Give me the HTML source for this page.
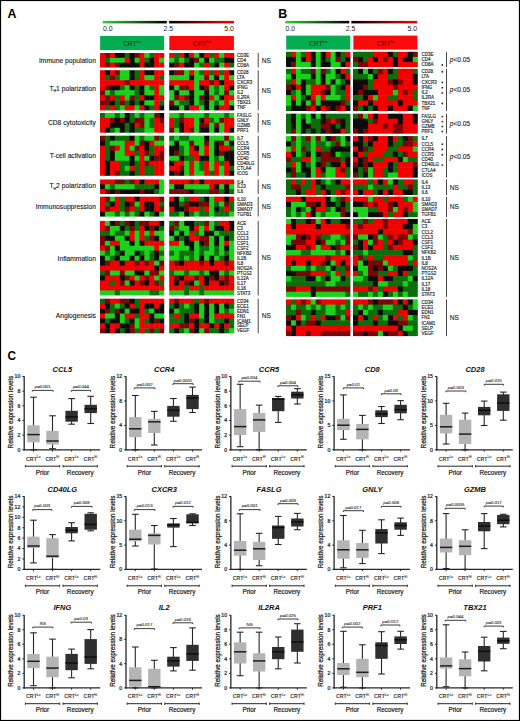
<!DOCTYPE html>
<html><head><meta charset="utf-8"><title>Figure</title>
<style>
html,body{margin:0;padding:0;background:#fff;}
body{width:520px;height:721px;overflow:hidden;}
svg{display:block;font-family:"Liberation Sans", sans-serif;}
</style></head>
<body>
<svg width="520" height="721" viewBox="0 0 520 721" font-family='"Liberation Sans", sans-serif'>
<rect x="0" y="0" width="520" height="721" fill="#fff"/>
<rect x="0.5" y="0.5" width="519" height="720" fill="none" stroke="#000" stroke-width="1.2"/>
<text x="7.60" y="17.60" font-size="12.4" text-anchor="start" font-weight="bold" font-style="normal" fill="#000" >A</text>
<text x="278.20" y="17.80" font-size="12.4" text-anchor="start" font-weight="bold" font-style="normal" fill="#000" >B</text>
<text transform="translate(7.5,360.0) scale(0.88,1)" font-size="13.4" font-weight="bold" fill="#000">C</text>
<defs>
<filter id="bl" x="-2%" y="-2%" width="104%" height="104%"><feGaussianBlur stdDeviation="1.0"/></filter>
<linearGradient id="gk" x1="0" x2="1" y1="0" y2="0"><stop offset="0" stop-color="#22dd22"/><stop offset="1" stop-color="#000"/></linearGradient>
<linearGradient id="kr" x1="0" x2="1" y1="0" y2="0"><stop offset="0" stop-color="#000"/><stop offset="1" stop-color="#ff0000"/></linearGradient>
</defs>
<rect x="102.8" y="20.9" width="64.00000000000001" height="2.5" fill="url(#gk)"/>
<rect x="169.1" y="20.9" width="64.9" height="2.5" fill="url(#kr)"/>
<text x="103.00" y="30.90" font-size="6.9" text-anchor="start" font-weight="normal" font-style="normal" fill="#222" >0.0</text>
<text x="168.30" y="30.90" font-size="6.9" text-anchor="middle" font-weight="normal" font-style="normal" fill="#222" >2.5</text>
<text x="233.90" y="30.90" font-size="6.9" text-anchor="end" font-weight="normal" font-style="normal" fill="#222" >5.0</text>
<rect x="100.1" y="36.0" width="64.0" height="14.100000000000001" fill="#04ae50"/>
<rect x="169.3" y="36.0" width="64.6" height="14.100000000000001" fill="#fa0a0a"/>
<text x="132.10" y="45.90" font-size="6.6" text-anchor="middle" fill="#0b3d1c" stroke="#0b3d1c" stroke-width="0.15">CRT<tspan font-size="4.1" dy="-2.6">Lo</tspan></text>
<text x="201.60" y="45.90" font-size="6.6" text-anchor="middle" fill="#6a0000" stroke="#6a0000" stroke-width="0.15">CRT<tspan font-size="4.1" dy="-2.6">hi</tspan></text>
<rect x="285.2" y="20.9" width="64.10000000000002" height="2.5" fill="url(#gk)"/>
<rect x="351.3" y="20.9" width="65.89999999999998" height="2.5" fill="url(#kr)"/>
<text x="285.40" y="30.90" font-size="6.9" text-anchor="start" font-weight="normal" font-style="normal" fill="#222" >0.0</text>
<text x="350.60" y="30.90" font-size="6.9" text-anchor="middle" font-weight="normal" font-style="normal" fill="#222" >2.5</text>
<text x="417.00" y="30.90" font-size="6.9" text-anchor="end" font-weight="normal" font-style="normal" fill="#222" >5.0</text>
<rect x="286.2" y="35.6" width="64.10000000000002" height="14.0" fill="#04ae50"/>
<rect x="353.4" y="35.6" width="64.0" height="14.0" fill="#fa0a0a"/>
<text x="318.25" y="45.50" font-size="6.6" text-anchor="middle" fill="#0b3d1c" stroke="#0b3d1c" stroke-width="0.15">CRT<tspan font-size="4.1" dy="-2.6">Lo</tspan></text>
<text x="385.40" y="45.50" font-size="6.6" text-anchor="middle" fill="#6a0000" stroke="#6a0000" stroke-width="0.15">CRT<tspan font-size="4.1" dy="-2.6">hi</tspan></text>
<g>
<rect x="100.0" y="53.0" width="5.4" height="5.3" fill="#f20000"/>
<rect x="104.9" y="53.0" width="5.4" height="5.3" fill="#7a0606"/>
<rect x="109.9" y="53.0" width="5.4" height="5.3" fill="#f20000"/>
<rect x="114.8" y="53.0" width="5.4" height="5.3" fill="#0c0c0c"/>
<rect x="119.8" y="53.0" width="5.4" height="5.3" fill="#0c0c0c"/>
<rect x="124.7" y="53.0" width="5.4" height="5.3" fill="#0a6e0a"/>
<rect x="129.6" y="53.0" width="5.4" height="5.3" fill="#0c0c0c"/>
<rect x="134.6" y="53.0" width="5.4" height="5.3" fill="#7a0606"/>
<rect x="139.5" y="53.0" width="5.4" height="5.3" fill="#f20000"/>
<rect x="144.4" y="53.0" width="5.4" height="5.3" fill="#1ad21a"/>
<rect x="149.4" y="53.0" width="5.4" height="5.3" fill="#0a6e0a"/>
<rect x="154.3" y="53.0" width="5.4" height="5.3" fill="#f20000"/>
<rect x="159.3" y="53.0" width="4.9" height="5.3" fill="#f20000"/>
<rect x="100.0" y="57.8" width="5.4" height="5.3" fill="#f20000"/>
<rect x="104.9" y="57.8" width="5.4" height="5.3" fill="#0a6e0a"/>
<rect x="109.9" y="57.8" width="5.4" height="5.3" fill="#1ad21a"/>
<rect x="114.8" y="57.8" width="5.4" height="5.3" fill="#1ad21a"/>
<rect x="119.8" y="57.8" width="5.4" height="5.3" fill="#1ad21a"/>
<rect x="124.7" y="57.8" width="5.4" height="5.3" fill="#f20000"/>
<rect x="129.6" y="57.8" width="5.4" height="5.3" fill="#0c0c0c"/>
<rect x="134.6" y="57.8" width="5.4" height="5.3" fill="#1ad21a"/>
<rect x="139.5" y="57.8" width="5.4" height="5.3" fill="#f20000"/>
<rect x="144.4" y="57.8" width="5.4" height="5.3" fill="#0a6e0a"/>
<rect x="149.4" y="57.8" width="5.4" height="5.3" fill="#0c0c0c"/>
<rect x="154.3" y="57.8" width="5.4" height="5.3" fill="#f20000"/>
<rect x="159.3" y="57.8" width="4.9" height="5.3" fill="#1ad21a"/>
<rect x="100.0" y="62.7" width="5.4" height="4.8" fill="#f20000"/>
<rect x="104.9" y="62.7" width="5.4" height="4.8" fill="#7a0606"/>
<rect x="109.9" y="62.7" width="5.4" height="4.8" fill="#f20000"/>
<rect x="114.8" y="62.7" width="5.4" height="4.8" fill="#7a0606"/>
<rect x="119.8" y="62.7" width="5.4" height="4.8" fill="#0c0c0c"/>
<rect x="124.7" y="62.7" width="5.4" height="4.8" fill="#0c0c0c"/>
<rect x="129.6" y="62.7" width="5.4" height="4.8" fill="#0c0c0c"/>
<rect x="134.6" y="62.7" width="5.4" height="4.8" fill="#0c0c0c"/>
<rect x="139.5" y="62.7" width="5.4" height="4.8" fill="#f20000"/>
<rect x="144.4" y="62.7" width="5.4" height="4.8" fill="#0c0c0c"/>
<rect x="149.4" y="62.7" width="5.4" height="4.8" fill="#0c0c0c"/>
<rect x="154.3" y="62.7" width="5.4" height="4.8" fill="#f20000"/>
<rect x="159.3" y="62.7" width="4.9" height="4.8" fill="#f20000"/>
<rect x="100.0" y="70.2" width="5.4" height="5.5" fill="#f20000"/>
<rect x="104.9" y="70.2" width="5.4" height="5.5" fill="#0c0c0c"/>
<rect x="109.9" y="70.2" width="5.4" height="5.5" fill="#f20000"/>
<rect x="114.8" y="70.2" width="5.4" height="5.5" fill="#7a0606"/>
<rect x="119.8" y="70.2" width="5.4" height="5.5" fill="#1ad21a"/>
<rect x="124.7" y="70.2" width="5.4" height="5.5" fill="#1ad21a"/>
<rect x="129.6" y="70.2" width="5.4" height="5.5" fill="#0c0c0c"/>
<rect x="134.6" y="70.2" width="5.4" height="5.5" fill="#0a6e0a"/>
<rect x="139.5" y="70.2" width="5.4" height="5.5" fill="#f20000"/>
<rect x="144.4" y="70.2" width="5.4" height="5.5" fill="#0c0c0c"/>
<rect x="149.4" y="70.2" width="5.4" height="5.5" fill="#0c0c0c"/>
<rect x="154.3" y="70.2" width="5.4" height="5.5" fill="#f20000"/>
<rect x="159.3" y="70.2" width="4.9" height="5.5" fill="#f20000"/>
<rect x="100.0" y="75.2" width="5.4" height="5.5" fill="#f20000"/>
<rect x="104.9" y="75.2" width="5.4" height="5.5" fill="#0a6e0a"/>
<rect x="109.9" y="75.2" width="5.4" height="5.5" fill="#7a0606"/>
<rect x="114.8" y="75.2" width="5.4" height="5.5" fill="#0a6e0a"/>
<rect x="119.8" y="75.2" width="5.4" height="5.5" fill="#1ad21a"/>
<rect x="124.7" y="75.2" width="5.4" height="5.5" fill="#1ad21a"/>
<rect x="129.6" y="75.2" width="5.4" height="5.5" fill="#0c0c0c"/>
<rect x="134.6" y="75.2" width="5.4" height="5.5" fill="#0a6e0a"/>
<rect x="139.5" y="75.2" width="5.4" height="5.5" fill="#f20000"/>
<rect x="144.4" y="75.2" width="5.4" height="5.5" fill="#1ad21a"/>
<rect x="149.4" y="75.2" width="5.4" height="5.5" fill="#1ad21a"/>
<rect x="154.3" y="75.2" width="5.4" height="5.5" fill="#f20000"/>
<rect x="159.3" y="75.2" width="4.9" height="5.5" fill="#0a6e0a"/>
<rect x="100.0" y="80.2" width="5.4" height="5.5" fill="#f20000"/>
<rect x="104.9" y="80.2" width="5.4" height="5.5" fill="#f20000"/>
<rect x="109.9" y="80.2" width="5.4" height="5.5" fill="#f20000"/>
<rect x="114.8" y="80.2" width="5.4" height="5.5" fill="#f20000"/>
<rect x="119.8" y="80.2" width="5.4" height="5.5" fill="#f20000"/>
<rect x="124.7" y="80.2" width="5.4" height="5.5" fill="#7a0606"/>
<rect x="129.6" y="80.2" width="5.4" height="5.5" fill="#f20000"/>
<rect x="134.6" y="80.2" width="5.4" height="5.5" fill="#f20000"/>
<rect x="139.5" y="80.2" width="5.4" height="5.5" fill="#f20000"/>
<rect x="144.4" y="80.2" width="5.4" height="5.5" fill="#f20000"/>
<rect x="149.4" y="80.2" width="5.4" height="5.5" fill="#f20000"/>
<rect x="154.3" y="80.2" width="5.4" height="5.5" fill="#f20000"/>
<rect x="159.3" y="80.2" width="4.9" height="5.5" fill="#f20000"/>
<rect x="100.0" y="85.3" width="5.4" height="5.5" fill="#f20000"/>
<rect x="104.9" y="85.3" width="5.4" height="5.5" fill="#7a0606"/>
<rect x="109.9" y="85.3" width="5.4" height="5.5" fill="#0c0c0c"/>
<rect x="114.8" y="85.3" width="5.4" height="5.5" fill="#0c0c0c"/>
<rect x="119.8" y="85.3" width="5.4" height="5.5" fill="#0a6e0a"/>
<rect x="124.7" y="85.3" width="5.4" height="5.5" fill="#1ad21a"/>
<rect x="129.6" y="85.3" width="5.4" height="5.5" fill="#0c0c0c"/>
<rect x="134.6" y="85.3" width="5.4" height="5.5" fill="#0a6e0a"/>
<rect x="139.5" y="85.3" width="5.4" height="5.5" fill="#0c0c0c"/>
<rect x="144.4" y="85.3" width="5.4" height="5.5" fill="#1ad21a"/>
<rect x="149.4" y="85.3" width="5.4" height="5.5" fill="#0a6e0a"/>
<rect x="154.3" y="85.3" width="5.4" height="5.5" fill="#f20000"/>
<rect x="159.3" y="85.3" width="4.9" height="5.5" fill="#1ad21a"/>
<rect x="100.0" y="90.3" width="5.4" height="5.5" fill="#7a0606"/>
<rect x="104.9" y="90.3" width="5.4" height="5.5" fill="#1ad21a"/>
<rect x="109.9" y="90.3" width="5.4" height="5.5" fill="#0a6e0a"/>
<rect x="114.8" y="90.3" width="5.4" height="5.5" fill="#1ad21a"/>
<rect x="119.8" y="90.3" width="5.4" height="5.5" fill="#1ad21a"/>
<rect x="124.7" y="90.3" width="5.4" height="5.5" fill="#1ad21a"/>
<rect x="129.6" y="90.3" width="5.4" height="5.5" fill="#1ad21a"/>
<rect x="134.6" y="90.3" width="5.4" height="5.5" fill="#0a6e0a"/>
<rect x="139.5" y="90.3" width="5.4" height="5.5" fill="#0c0c0c"/>
<rect x="144.4" y="90.3" width="5.4" height="5.5" fill="#1ad21a"/>
<rect x="149.4" y="90.3" width="5.4" height="5.5" fill="#1ad21a"/>
<rect x="154.3" y="90.3" width="5.4" height="5.5" fill="#f20000"/>
<rect x="159.3" y="90.3" width="4.9" height="5.5" fill="#1ad21a"/>
<rect x="100.0" y="95.3" width="5.4" height="5.5" fill="#f20000"/>
<rect x="104.9" y="95.3" width="5.4" height="5.5" fill="#7a0606"/>
<rect x="109.9" y="95.3" width="5.4" height="5.5" fill="#f20000"/>
<rect x="114.8" y="95.3" width="5.4" height="5.5" fill="#0a6e0a"/>
<rect x="119.8" y="95.3" width="5.4" height="5.5" fill="#f20000"/>
<rect x="124.7" y="95.3" width="5.4" height="5.5" fill="#1ad21a"/>
<rect x="129.6" y="95.3" width="5.4" height="5.5" fill="#7a0606"/>
<rect x="134.6" y="95.3" width="5.4" height="5.5" fill="#0a6e0a"/>
<rect x="139.5" y="95.3" width="5.4" height="5.5" fill="#f20000"/>
<rect x="144.4" y="95.3" width="5.4" height="5.5" fill="#0c0c0c"/>
<rect x="149.4" y="95.3" width="5.4" height="5.5" fill="#0c0c0c"/>
<rect x="154.3" y="95.3" width="5.4" height="5.5" fill="#f20000"/>
<rect x="159.3" y="95.3" width="4.9" height="5.5" fill="#f20000"/>
<rect x="100.0" y="100.4" width="5.4" height="5.5" fill="#7a0606"/>
<rect x="104.9" y="100.4" width="5.4" height="5.5" fill="#7a0606"/>
<rect x="109.9" y="100.4" width="5.4" height="5.5" fill="#0c0c0c"/>
<rect x="114.8" y="100.4" width="5.4" height="5.5" fill="#0a6e0a"/>
<rect x="119.8" y="100.4" width="5.4" height="5.5" fill="#7a0606"/>
<rect x="124.7" y="100.4" width="5.4" height="5.5" fill="#0a6e0a"/>
<rect x="129.6" y="100.4" width="5.4" height="5.5" fill="#0c0c0c"/>
<rect x="134.6" y="100.4" width="5.4" height="5.5" fill="#0a6e0a"/>
<rect x="139.5" y="100.4" width="5.4" height="5.5" fill="#0c0c0c"/>
<rect x="144.4" y="100.4" width="5.4" height="5.5" fill="#1ad21a"/>
<rect x="149.4" y="100.4" width="5.4" height="5.5" fill="#1ad21a"/>
<rect x="154.3" y="100.4" width="5.4" height="5.5" fill="#f20000"/>
<rect x="159.3" y="100.4" width="4.9" height="5.5" fill="#0a6e0a"/>
<rect x="100.0" y="105.4" width="5.4" height="5.0" fill="#f20000"/>
<rect x="104.9" y="105.4" width="5.4" height="5.0" fill="#0a6e0a"/>
<rect x="109.9" y="105.4" width="5.4" height="5.0" fill="#f20000"/>
<rect x="114.8" y="105.4" width="5.4" height="5.0" fill="#0a6e0a"/>
<rect x="119.8" y="105.4" width="5.4" height="5.0" fill="#1ad21a"/>
<rect x="124.7" y="105.4" width="5.4" height="5.0" fill="#f20000"/>
<rect x="129.6" y="105.4" width="5.4" height="5.0" fill="#f20000"/>
<rect x="134.6" y="105.4" width="5.4" height="5.0" fill="#1ad21a"/>
<rect x="139.5" y="105.4" width="5.4" height="5.0" fill="#f20000"/>
<rect x="144.4" y="105.4" width="5.4" height="5.0" fill="#0c0c0c"/>
<rect x="149.4" y="105.4" width="5.4" height="5.0" fill="#0a6e0a"/>
<rect x="154.3" y="105.4" width="5.4" height="5.0" fill="#f20000"/>
<rect x="159.3" y="105.4" width="4.9" height="5.0" fill="#0c0c0c"/>
<rect x="100.0" y="113.0" width="5.4" height="5.4" fill="#0a6e0a"/>
<rect x="104.9" y="113.0" width="5.4" height="5.4" fill="#1ad21a"/>
<rect x="109.9" y="113.0" width="5.4" height="5.4" fill="#1ad21a"/>
<rect x="114.8" y="113.0" width="5.4" height="5.4" fill="#0a6e0a"/>
<rect x="119.8" y="113.0" width="5.4" height="5.4" fill="#1ad21a"/>
<rect x="124.7" y="113.0" width="5.4" height="5.4" fill="#0c0c0c"/>
<rect x="129.6" y="113.0" width="5.4" height="5.4" fill="#0a6e0a"/>
<rect x="134.6" y="113.0" width="5.4" height="5.4" fill="#1ad21a"/>
<rect x="139.5" y="113.0" width="5.4" height="5.4" fill="#0a6e0a"/>
<rect x="144.4" y="113.0" width="5.4" height="5.4" fill="#1ad21a"/>
<rect x="149.4" y="113.0" width="5.4" height="5.4" fill="#1ad21a"/>
<rect x="154.3" y="113.0" width="5.4" height="5.4" fill="#7a0606"/>
<rect x="159.3" y="113.0" width="4.9" height="5.4" fill="#0c0c0c"/>
<rect x="100.0" y="117.9" width="5.4" height="5.4" fill="#f20000"/>
<rect x="104.9" y="117.9" width="5.4" height="5.4" fill="#f20000"/>
<rect x="109.9" y="117.9" width="5.4" height="5.4" fill="#7a0606"/>
<rect x="114.8" y="117.9" width="5.4" height="5.4" fill="#0c0c0c"/>
<rect x="119.8" y="117.9" width="5.4" height="5.4" fill="#7a0606"/>
<rect x="124.7" y="117.9" width="5.4" height="5.4" fill="#0c0c0c"/>
<rect x="129.6" y="117.9" width="5.4" height="5.4" fill="#0a6e0a"/>
<rect x="134.6" y="117.9" width="5.4" height="5.4" fill="#7a0606"/>
<rect x="139.5" y="117.9" width="5.4" height="5.4" fill="#7a0606"/>
<rect x="144.4" y="117.9" width="5.4" height="5.4" fill="#1ad21a"/>
<rect x="149.4" y="117.9" width="5.4" height="5.4" fill="#0a6e0a"/>
<rect x="154.3" y="117.9" width="5.4" height="5.4" fill="#f20000"/>
<rect x="159.3" y="117.9" width="4.9" height="5.4" fill="#7a0606"/>
<rect x="100.0" y="122.8" width="5.4" height="5.4" fill="#f20000"/>
<rect x="104.9" y="122.8" width="5.4" height="5.4" fill="#f20000"/>
<rect x="109.9" y="122.8" width="5.4" height="5.4" fill="#0c0c0c"/>
<rect x="114.8" y="122.8" width="5.4" height="5.4" fill="#0c0c0c"/>
<rect x="119.8" y="122.8" width="5.4" height="5.4" fill="#0c0c0c"/>
<rect x="124.7" y="122.8" width="5.4" height="5.4" fill="#0a6e0a"/>
<rect x="129.6" y="122.8" width="5.4" height="5.4" fill="#0c0c0c"/>
<rect x="134.6" y="122.8" width="5.4" height="5.4" fill="#f20000"/>
<rect x="139.5" y="122.8" width="5.4" height="5.4" fill="#7a0606"/>
<rect x="144.4" y="122.8" width="5.4" height="5.4" fill="#1ad21a"/>
<rect x="149.4" y="122.8" width="5.4" height="5.4" fill="#0a6e0a"/>
<rect x="154.3" y="122.8" width="5.4" height="5.4" fill="#f20000"/>
<rect x="159.3" y="122.8" width="4.9" height="5.4" fill="#f20000"/>
<rect x="100.0" y="127.8" width="5.4" height="4.9" fill="#f20000"/>
<rect x="104.9" y="127.8" width="5.4" height="4.9" fill="#0c0c0c"/>
<rect x="109.9" y="127.8" width="5.4" height="4.9" fill="#0a6e0a"/>
<rect x="114.8" y="127.8" width="5.4" height="4.9" fill="#1ad21a"/>
<rect x="119.8" y="127.8" width="5.4" height="4.9" fill="#0c0c0c"/>
<rect x="124.7" y="127.8" width="5.4" height="4.9" fill="#0a6e0a"/>
<rect x="129.6" y="127.8" width="5.4" height="4.9" fill="#0c0c0c"/>
<rect x="134.6" y="127.8" width="5.4" height="4.9" fill="#0a6e0a"/>
<rect x="139.5" y="127.8" width="5.4" height="4.9" fill="#0a6e0a"/>
<rect x="144.4" y="127.8" width="5.4" height="4.9" fill="#1ad21a"/>
<rect x="149.4" y="127.8" width="5.4" height="4.9" fill="#1ad21a"/>
<rect x="154.3" y="127.8" width="5.4" height="4.9" fill="#f20000"/>
<rect x="159.3" y="127.8" width="4.9" height="4.9" fill="#f20000"/>
<rect x="100.0" y="135.7" width="5.4" height="5.5" fill="#7a0606"/>
<rect x="104.9" y="135.7" width="5.4" height="5.5" fill="#0a6e0a"/>
<rect x="109.9" y="135.7" width="5.4" height="5.5" fill="#0c0c0c"/>
<rect x="114.8" y="135.7" width="5.4" height="5.5" fill="#0a6e0a"/>
<rect x="119.8" y="135.7" width="5.4" height="5.5" fill="#0a6e0a"/>
<rect x="124.7" y="135.7" width="5.4" height="5.5" fill="#0a6e0a"/>
<rect x="129.6" y="135.7" width="5.4" height="5.5" fill="#0c0c0c"/>
<rect x="134.6" y="135.7" width="5.4" height="5.5" fill="#1ad21a"/>
<rect x="139.5" y="135.7" width="5.4" height="5.5" fill="#0a6e0a"/>
<rect x="144.4" y="135.7" width="5.4" height="5.5" fill="#1ad21a"/>
<rect x="149.4" y="135.7" width="5.4" height="5.5" fill="#1ad21a"/>
<rect x="154.3" y="135.7" width="5.4" height="5.5" fill="#7a0606"/>
<rect x="159.3" y="135.7" width="4.9" height="5.5" fill="#0a6e0a"/>
<rect x="100.0" y="140.7" width="5.4" height="5.5" fill="#0c0c0c"/>
<rect x="104.9" y="140.7" width="5.4" height="5.5" fill="#0a6e0a"/>
<rect x="109.9" y="140.7" width="5.4" height="5.5" fill="#1ad21a"/>
<rect x="114.8" y="140.7" width="5.4" height="5.5" fill="#1ad21a"/>
<rect x="119.8" y="140.7" width="5.4" height="5.5" fill="#1ad21a"/>
<rect x="124.7" y="140.7" width="5.4" height="5.5" fill="#f20000"/>
<rect x="129.6" y="140.7" width="5.4" height="5.5" fill="#f20000"/>
<rect x="134.6" y="140.7" width="5.4" height="5.5" fill="#1ad21a"/>
<rect x="139.5" y="140.7" width="5.4" height="5.5" fill="#7a0606"/>
<rect x="144.4" y="140.7" width="5.4" height="5.5" fill="#0c0c0c"/>
<rect x="149.4" y="140.7" width="5.4" height="5.5" fill="#f20000"/>
<rect x="154.3" y="140.7" width="5.4" height="5.5" fill="#1ad21a"/>
<rect x="159.3" y="140.7" width="4.9" height="5.5" fill="#1ad21a"/>
<rect x="100.0" y="145.7" width="5.4" height="5.5" fill="#f20000"/>
<rect x="104.9" y="145.7" width="5.4" height="5.5" fill="#0a6e0a"/>
<rect x="109.9" y="145.7" width="5.4" height="5.5" fill="#7a0606"/>
<rect x="114.8" y="145.7" width="5.4" height="5.5" fill="#f20000"/>
<rect x="119.8" y="145.7" width="5.4" height="5.5" fill="#1ad21a"/>
<rect x="124.7" y="145.7" width="5.4" height="5.5" fill="#f20000"/>
<rect x="129.6" y="145.7" width="5.4" height="5.5" fill="#1ad21a"/>
<rect x="134.6" y="145.7" width="5.4" height="5.5" fill="#7a0606"/>
<rect x="139.5" y="145.7" width="5.4" height="5.5" fill="#f20000"/>
<rect x="144.4" y="145.7" width="5.4" height="5.5" fill="#0c0c0c"/>
<rect x="149.4" y="145.7" width="5.4" height="5.5" fill="#0a6e0a"/>
<rect x="154.3" y="145.7" width="5.4" height="5.5" fill="#f20000"/>
<rect x="159.3" y="145.7" width="4.9" height="5.5" fill="#f20000"/>
<rect x="100.0" y="150.7" width="5.4" height="5.5" fill="#f20000"/>
<rect x="104.9" y="150.7" width="5.4" height="5.5" fill="#0a6e0a"/>
<rect x="109.9" y="150.7" width="5.4" height="5.5" fill="#0c0c0c"/>
<rect x="114.8" y="150.7" width="5.4" height="5.5" fill="#1ad21a"/>
<rect x="119.8" y="150.7" width="5.4" height="5.5" fill="#1ad21a"/>
<rect x="124.7" y="150.7" width="5.4" height="5.5" fill="#f20000"/>
<rect x="129.6" y="150.7" width="5.4" height="5.5" fill="#f20000"/>
<rect x="134.6" y="150.7" width="5.4" height="5.5" fill="#0a6e0a"/>
<rect x="139.5" y="150.7" width="5.4" height="5.5" fill="#f20000"/>
<rect x="144.4" y="150.7" width="5.4" height="5.5" fill="#7a0606"/>
<rect x="149.4" y="150.7" width="5.4" height="5.5" fill="#0a6e0a"/>
<rect x="154.3" y="150.7" width="5.4" height="5.5" fill="#f20000"/>
<rect x="159.3" y="150.7" width="4.9" height="5.5" fill="#7a0606"/>
<rect x="100.0" y="155.8" width="5.4" height="5.5" fill="#f20000"/>
<rect x="104.9" y="155.8" width="5.4" height="5.5" fill="#0a6e0a"/>
<rect x="109.9" y="155.8" width="5.4" height="5.5" fill="#0c0c0c"/>
<rect x="114.8" y="155.8" width="5.4" height="5.5" fill="#1ad21a"/>
<rect x="119.8" y="155.8" width="5.4" height="5.5" fill="#1ad21a"/>
<rect x="124.7" y="155.8" width="5.4" height="5.5" fill="#1ad21a"/>
<rect x="129.6" y="155.8" width="5.4" height="5.5" fill="#0c0c0c"/>
<rect x="134.6" y="155.8" width="5.4" height="5.5" fill="#1ad21a"/>
<rect x="139.5" y="155.8" width="5.4" height="5.5" fill="#f20000"/>
<rect x="144.4" y="155.8" width="5.4" height="5.5" fill="#1ad21a"/>
<rect x="149.4" y="155.8" width="5.4" height="5.5" fill="#0c0c0c"/>
<rect x="154.3" y="155.8" width="5.4" height="5.5" fill="#7a0606"/>
<rect x="159.3" y="155.8" width="4.9" height="5.5" fill="#7a0606"/>
<rect x="100.0" y="160.8" width="5.4" height="5.5" fill="#f20000"/>
<rect x="104.9" y="160.8" width="5.4" height="5.5" fill="#0c0c0c"/>
<rect x="109.9" y="160.8" width="5.4" height="5.5" fill="#f20000"/>
<rect x="114.8" y="160.8" width="5.4" height="5.5" fill="#f20000"/>
<rect x="119.8" y="160.8" width="5.4" height="5.5" fill="#0a6e0a"/>
<rect x="124.7" y="160.8" width="5.4" height="5.5" fill="#0a6e0a"/>
<rect x="129.6" y="160.8" width="5.4" height="5.5" fill="#0c0c0c"/>
<rect x="134.6" y="160.8" width="5.4" height="5.5" fill="#0a6e0a"/>
<rect x="139.5" y="160.8" width="5.4" height="5.5" fill="#f20000"/>
<rect x="144.4" y="160.8" width="5.4" height="5.5" fill="#7a0606"/>
<rect x="149.4" y="160.8" width="5.4" height="5.5" fill="#f20000"/>
<rect x="154.3" y="160.8" width="5.4" height="5.5" fill="#f20000"/>
<rect x="159.3" y="160.8" width="4.9" height="5.5" fill="#f20000"/>
<rect x="100.0" y="165.8" width="5.4" height="5.5" fill="#f20000"/>
<rect x="104.9" y="165.8" width="5.4" height="5.5" fill="#0c0c0c"/>
<rect x="109.9" y="165.8" width="5.4" height="5.5" fill="#f20000"/>
<rect x="114.8" y="165.8" width="5.4" height="5.5" fill="#f20000"/>
<rect x="119.8" y="165.8" width="5.4" height="5.5" fill="#0a6e0a"/>
<rect x="124.7" y="165.8" width="5.4" height="5.5" fill="#1ad21a"/>
<rect x="129.6" y="165.8" width="5.4" height="5.5" fill="#f20000"/>
<rect x="134.6" y="165.8" width="5.4" height="5.5" fill="#0a6e0a"/>
<rect x="139.5" y="165.8" width="5.4" height="5.5" fill="#f20000"/>
<rect x="144.4" y="165.8" width="5.4" height="5.5" fill="#0a6e0a"/>
<rect x="149.4" y="165.8" width="5.4" height="5.5" fill="#0a6e0a"/>
<rect x="154.3" y="165.8" width="5.4" height="5.5" fill="#f20000"/>
<rect x="159.3" y="165.8" width="4.9" height="5.5" fill="#f20000"/>
<rect x="100.0" y="170.8" width="5.4" height="5.0" fill="#f20000"/>
<rect x="104.9" y="170.8" width="5.4" height="5.0" fill="#0c0c0c"/>
<rect x="109.9" y="170.8" width="5.4" height="5.0" fill="#f20000"/>
<rect x="114.8" y="170.8" width="5.4" height="5.0" fill="#7a0606"/>
<rect x="119.8" y="170.8" width="5.4" height="5.0" fill="#0a6e0a"/>
<rect x="124.7" y="170.8" width="5.4" height="5.0" fill="#0a6e0a"/>
<rect x="129.6" y="170.8" width="5.4" height="5.0" fill="#0c0c0c"/>
<rect x="134.6" y="170.8" width="5.4" height="5.0" fill="#0a6e0a"/>
<rect x="139.5" y="170.8" width="5.4" height="5.0" fill="#f20000"/>
<rect x="144.4" y="170.8" width="5.4" height="5.0" fill="#0a6e0a"/>
<rect x="149.4" y="170.8" width="5.4" height="5.0" fill="#0a6e0a"/>
<rect x="154.3" y="170.8" width="5.4" height="5.0" fill="#f20000"/>
<rect x="159.3" y="170.8" width="4.9" height="5.0" fill="#f20000"/>
<rect x="100.0" y="179.5" width="5.4" height="5.3" fill="#f20000"/>
<rect x="104.9" y="179.5" width="5.4" height="5.3" fill="#f20000"/>
<rect x="109.9" y="179.5" width="5.4" height="5.3" fill="#f20000"/>
<rect x="114.8" y="179.5" width="5.4" height="5.3" fill="#7a0606"/>
<rect x="119.8" y="179.5" width="5.4" height="5.3" fill="#7a0606"/>
<rect x="124.7" y="179.5" width="5.4" height="5.3" fill="#0a6e0a"/>
<rect x="129.6" y="179.5" width="5.4" height="5.3" fill="#7a0606"/>
<rect x="134.6" y="179.5" width="5.4" height="5.3" fill="#f20000"/>
<rect x="139.5" y="179.5" width="5.4" height="5.3" fill="#0c0c0c"/>
<rect x="144.4" y="179.5" width="5.4" height="5.3" fill="#f20000"/>
<rect x="149.4" y="179.5" width="5.4" height="5.3" fill="#f20000"/>
<rect x="154.3" y="179.5" width="5.4" height="5.3" fill="#f20000"/>
<rect x="159.3" y="179.5" width="4.9" height="5.3" fill="#1ad21a"/>
<rect x="100.0" y="184.3" width="5.4" height="5.3" fill="#0c0c0c"/>
<rect x="104.9" y="184.3" width="5.4" height="5.3" fill="#1ad21a"/>
<rect x="109.9" y="184.3" width="5.4" height="5.3" fill="#0a6e0a"/>
<rect x="114.8" y="184.3" width="5.4" height="5.3" fill="#1ad21a"/>
<rect x="119.8" y="184.3" width="5.4" height="5.3" fill="#1ad21a"/>
<rect x="124.7" y="184.3" width="5.4" height="5.3" fill="#1ad21a"/>
<rect x="129.6" y="184.3" width="5.4" height="5.3" fill="#1ad21a"/>
<rect x="134.6" y="184.3" width="5.4" height="5.3" fill="#0a6e0a"/>
<rect x="139.5" y="184.3" width="5.4" height="5.3" fill="#0a6e0a"/>
<rect x="144.4" y="184.3" width="5.4" height="5.3" fill="#0a6e0a"/>
<rect x="149.4" y="184.3" width="5.4" height="5.3" fill="#0a6e0a"/>
<rect x="154.3" y="184.3" width="5.4" height="5.3" fill="#0c0c0c"/>
<rect x="159.3" y="184.3" width="4.9" height="5.3" fill="#1ad21a"/>
<rect x="100.0" y="189.2" width="5.4" height="4.8" fill="#f20000"/>
<rect x="104.9" y="189.2" width="5.4" height="4.8" fill="#7a0606"/>
<rect x="109.9" y="189.2" width="5.4" height="4.8" fill="#0c0c0c"/>
<rect x="114.8" y="189.2" width="5.4" height="4.8" fill="#7a0606"/>
<rect x="119.8" y="189.2" width="5.4" height="4.8" fill="#0c0c0c"/>
<rect x="124.7" y="189.2" width="5.4" height="4.8" fill="#0c0c0c"/>
<rect x="129.6" y="189.2" width="5.4" height="4.8" fill="#0c0c0c"/>
<rect x="134.6" y="189.2" width="5.4" height="4.8" fill="#0c0c0c"/>
<rect x="139.5" y="189.2" width="5.4" height="4.8" fill="#7a0606"/>
<rect x="144.4" y="189.2" width="5.4" height="4.8" fill="#0c0c0c"/>
<rect x="149.4" y="189.2" width="5.4" height="4.8" fill="#0c0c0c"/>
<rect x="154.3" y="189.2" width="5.4" height="4.8" fill="#0a6e0a"/>
<rect x="159.3" y="189.2" width="4.9" height="4.8" fill="#1ad21a"/>
<rect x="100.0" y="196.7" width="5.4" height="5.5" fill="#f20000"/>
<rect x="104.9" y="196.7" width="5.4" height="5.5" fill="#7a0606"/>
<rect x="109.9" y="196.7" width="5.4" height="5.5" fill="#1ad21a"/>
<rect x="114.8" y="196.7" width="5.4" height="5.5" fill="#f20000"/>
<rect x="119.8" y="196.7" width="5.4" height="5.5" fill="#0a6e0a"/>
<rect x="124.7" y="196.7" width="5.4" height="5.5" fill="#f20000"/>
<rect x="129.6" y="196.7" width="5.4" height="5.5" fill="#f20000"/>
<rect x="134.6" y="196.7" width="5.4" height="5.5" fill="#0c0c0c"/>
<rect x="139.5" y="196.7" width="5.4" height="5.5" fill="#f20000"/>
<rect x="144.4" y="196.7" width="5.4" height="5.5" fill="#f20000"/>
<rect x="149.4" y="196.7" width="5.4" height="5.5" fill="#f20000"/>
<rect x="154.3" y="196.7" width="5.4" height="5.5" fill="#f20000"/>
<rect x="159.3" y="196.7" width="4.9" height="5.5" fill="#7a0606"/>
<rect x="100.0" y="201.6" width="5.4" height="5.5" fill="#f20000"/>
<rect x="104.9" y="201.6" width="5.4" height="5.5" fill="#0a6e0a"/>
<rect x="109.9" y="201.6" width="5.4" height="5.5" fill="#0c0c0c"/>
<rect x="114.8" y="201.6" width="5.4" height="5.5" fill="#f20000"/>
<rect x="119.8" y="201.6" width="5.4" height="5.5" fill="#0a6e0a"/>
<rect x="124.7" y="201.6" width="5.4" height="5.5" fill="#0c0c0c"/>
<rect x="129.6" y="201.6" width="5.4" height="5.5" fill="#7a0606"/>
<rect x="134.6" y="201.6" width="5.4" height="5.5" fill="#1ad21a"/>
<rect x="139.5" y="201.6" width="5.4" height="5.5" fill="#f20000"/>
<rect x="144.4" y="201.6" width="5.4" height="5.5" fill="#0c0c0c"/>
<rect x="149.4" y="201.6" width="5.4" height="5.5" fill="#0c0c0c"/>
<rect x="154.3" y="201.6" width="5.4" height="5.5" fill="#f20000"/>
<rect x="159.3" y="201.6" width="4.9" height="5.5" fill="#0a6e0a"/>
<rect x="100.0" y="206.6" width="5.4" height="5.5" fill="#f20000"/>
<rect x="104.9" y="206.6" width="5.4" height="5.5" fill="#7a0606"/>
<rect x="109.9" y="206.6" width="5.4" height="5.5" fill="#f20000"/>
<rect x="114.8" y="206.6" width="5.4" height="5.5" fill="#f20000"/>
<rect x="119.8" y="206.6" width="5.4" height="5.5" fill="#0a6e0a"/>
<rect x="124.7" y="206.6" width="5.4" height="5.5" fill="#7a0606"/>
<rect x="129.6" y="206.6" width="5.4" height="5.5" fill="#f20000"/>
<rect x="134.6" y="206.6" width="5.4" height="5.5" fill="#0a6e0a"/>
<rect x="139.5" y="206.6" width="5.4" height="5.5" fill="#f20000"/>
<rect x="144.4" y="206.6" width="5.4" height="5.5" fill="#0c0c0c"/>
<rect x="149.4" y="206.6" width="5.4" height="5.5" fill="#0c0c0c"/>
<rect x="154.3" y="206.6" width="5.4" height="5.5" fill="#f20000"/>
<rect x="159.3" y="206.6" width="4.9" height="5.5" fill="#7a0606"/>
<rect x="100.0" y="211.6" width="5.4" height="5.0" fill="#0c0c0c"/>
<rect x="104.9" y="211.6" width="5.4" height="5.0" fill="#1ad21a"/>
<rect x="109.9" y="211.6" width="5.4" height="5.0" fill="#1ad21a"/>
<rect x="114.8" y="211.6" width="5.4" height="5.0" fill="#0a6e0a"/>
<rect x="119.8" y="211.6" width="5.4" height="5.0" fill="#1ad21a"/>
<rect x="124.7" y="211.6" width="5.4" height="5.0" fill="#0a6e0a"/>
<rect x="129.6" y="211.6" width="5.4" height="5.0" fill="#1ad21a"/>
<rect x="134.6" y="211.6" width="5.4" height="5.0" fill="#0a6e0a"/>
<rect x="139.5" y="211.6" width="5.4" height="5.0" fill="#0c0c0c"/>
<rect x="144.4" y="211.6" width="5.4" height="5.0" fill="#1ad21a"/>
<rect x="149.4" y="211.6" width="5.4" height="5.0" fill="#0a6e0a"/>
<rect x="154.3" y="211.6" width="5.4" height="5.0" fill="#0c0c0c"/>
<rect x="159.3" y="211.6" width="4.9" height="5.0" fill="#1ad21a"/>
<rect x="100.0" y="220.9" width="5.4" height="5.5" fill="#f20000"/>
<rect x="104.9" y="220.9" width="5.4" height="5.5" fill="#1ad21a"/>
<rect x="109.9" y="220.9" width="5.4" height="5.5" fill="#0c0c0c"/>
<rect x="114.8" y="220.9" width="5.4" height="5.5" fill="#7a0606"/>
<rect x="119.8" y="220.9" width="5.4" height="5.5" fill="#0a6e0a"/>
<rect x="124.7" y="220.9" width="5.4" height="5.5" fill="#7a0606"/>
<rect x="129.6" y="220.9" width="5.4" height="5.5" fill="#0c0c0c"/>
<rect x="134.6" y="220.9" width="5.4" height="5.5" fill="#0a6e0a"/>
<rect x="139.5" y="220.9" width="5.4" height="5.5" fill="#7a0606"/>
<rect x="144.4" y="220.9" width="5.4" height="5.5" fill="#7a0606"/>
<rect x="149.4" y="220.9" width="5.4" height="5.5" fill="#f20000"/>
<rect x="154.3" y="220.9" width="5.4" height="5.5" fill="#f20000"/>
<rect x="159.3" y="220.9" width="4.9" height="5.5" fill="#0c0c0c"/>
<rect x="100.0" y="225.9" width="5.4" height="5.5" fill="#f20000"/>
<rect x="104.9" y="225.9" width="5.4" height="5.5" fill="#7a0606"/>
<rect x="109.9" y="225.9" width="5.4" height="5.5" fill="#1ad21a"/>
<rect x="114.8" y="225.9" width="5.4" height="5.5" fill="#1ad21a"/>
<rect x="119.8" y="225.9" width="5.4" height="5.5" fill="#0c0c0c"/>
<rect x="124.7" y="225.9" width="5.4" height="5.5" fill="#0a6e0a"/>
<rect x="129.6" y="225.9" width="5.4" height="5.5" fill="#7a0606"/>
<rect x="134.6" y="225.9" width="5.4" height="5.5" fill="#0a6e0a"/>
<rect x="139.5" y="225.9" width="5.4" height="5.5" fill="#f20000"/>
<rect x="144.4" y="225.9" width="5.4" height="5.5" fill="#0c0c0c"/>
<rect x="149.4" y="225.9" width="5.4" height="5.5" fill="#7a0606"/>
<rect x="154.3" y="225.9" width="5.4" height="5.5" fill="#0c0c0c"/>
<rect x="159.3" y="225.9" width="4.9" height="5.5" fill="#0a6e0a"/>
<rect x="100.0" y="230.8" width="5.4" height="5.5" fill="#0a6e0a"/>
<rect x="104.9" y="230.8" width="5.4" height="5.5" fill="#0a6e0a"/>
<rect x="109.9" y="230.8" width="5.4" height="5.5" fill="#1ad21a"/>
<rect x="114.8" y="230.8" width="5.4" height="5.5" fill="#0a6e0a"/>
<rect x="119.8" y="230.8" width="5.4" height="5.5" fill="#0a6e0a"/>
<rect x="124.7" y="230.8" width="5.4" height="5.5" fill="#1ad21a"/>
<rect x="129.6" y="230.8" width="5.4" height="5.5" fill="#f20000"/>
<rect x="134.6" y="230.8" width="5.4" height="5.5" fill="#1ad21a"/>
<rect x="139.5" y="230.8" width="5.4" height="5.5" fill="#f20000"/>
<rect x="144.4" y="230.8" width="5.4" height="5.5" fill="#1ad21a"/>
<rect x="149.4" y="230.8" width="5.4" height="5.5" fill="#f20000"/>
<rect x="154.3" y="230.8" width="5.4" height="5.5" fill="#1ad21a"/>
<rect x="159.3" y="230.8" width="4.9" height="5.5" fill="#1ad21a"/>
<rect x="100.0" y="235.8" width="5.4" height="5.5" fill="#7a0606"/>
<rect x="104.9" y="235.8" width="5.4" height="5.5" fill="#0c0c0c"/>
<rect x="109.9" y="235.8" width="5.4" height="5.5" fill="#0c0c0c"/>
<rect x="114.8" y="235.8" width="5.4" height="5.5" fill="#1ad21a"/>
<rect x="119.8" y="235.8" width="5.4" height="5.5" fill="#1ad21a"/>
<rect x="124.7" y="235.8" width="5.4" height="5.5" fill="#0c0c0c"/>
<rect x="129.6" y="235.8" width="5.4" height="5.5" fill="#f20000"/>
<rect x="134.6" y="235.8" width="5.4" height="5.5" fill="#1ad21a"/>
<rect x="139.5" y="235.8" width="5.4" height="5.5" fill="#f20000"/>
<rect x="144.4" y="235.8" width="5.4" height="5.5" fill="#0a6e0a"/>
<rect x="149.4" y="235.8" width="5.4" height="5.5" fill="#7a0606"/>
<rect x="154.3" y="235.8" width="5.4" height="5.5" fill="#0c0c0c"/>
<rect x="159.3" y="235.8" width="4.9" height="5.5" fill="#1ad21a"/>
<rect x="100.0" y="240.8" width="5.4" height="5.5" fill="#7a0606"/>
<rect x="104.9" y="240.8" width="5.4" height="5.5" fill="#1ad21a"/>
<rect x="109.9" y="240.8" width="5.4" height="5.5" fill="#f20000"/>
<rect x="114.8" y="240.8" width="5.4" height="5.5" fill="#f20000"/>
<rect x="119.8" y="240.8" width="5.4" height="5.5" fill="#1ad21a"/>
<rect x="124.7" y="240.8" width="5.4" height="5.5" fill="#1ad21a"/>
<rect x="129.6" y="240.8" width="5.4" height="5.5" fill="#0c0c0c"/>
<rect x="134.6" y="240.8" width="5.4" height="5.5" fill="#1ad21a"/>
<rect x="139.5" y="240.8" width="5.4" height="5.5" fill="#0c0c0c"/>
<rect x="144.4" y="240.8" width="5.4" height="5.5" fill="#f20000"/>
<rect x="149.4" y="240.8" width="5.4" height="5.5" fill="#f20000"/>
<rect x="154.3" y="240.8" width="5.4" height="5.5" fill="#f20000"/>
<rect x="159.3" y="240.8" width="4.9" height="5.5" fill="#f20000"/>
<rect x="100.0" y="245.7" width="5.4" height="5.5" fill="#f20000"/>
<rect x="104.9" y="245.7" width="5.4" height="5.5" fill="#7a0606"/>
<rect x="109.9" y="245.7" width="5.4" height="5.5" fill="#1ad21a"/>
<rect x="114.8" y="245.7" width="5.4" height="5.5" fill="#0c0c0c"/>
<rect x="119.8" y="245.7" width="5.4" height="5.5" fill="#1ad21a"/>
<rect x="124.7" y="245.7" width="5.4" height="5.5" fill="#1ad21a"/>
<rect x="129.6" y="245.7" width="5.4" height="5.5" fill="#1ad21a"/>
<rect x="134.6" y="245.7" width="5.4" height="5.5" fill="#1ad21a"/>
<rect x="139.5" y="245.7" width="5.4" height="5.5" fill="#1ad21a"/>
<rect x="144.4" y="245.7" width="5.4" height="5.5" fill="#1ad21a"/>
<rect x="149.4" y="245.7" width="5.4" height="5.5" fill="#1ad21a"/>
<rect x="154.3" y="245.7" width="5.4" height="5.5" fill="#f20000"/>
<rect x="159.3" y="245.7" width="4.9" height="5.5" fill="#1ad21a"/>
<rect x="100.0" y="250.7" width="5.4" height="5.5" fill="#1ad21a"/>
<rect x="104.9" y="250.7" width="5.4" height="5.5" fill="#0a6e0a"/>
<rect x="109.9" y="250.7" width="5.4" height="5.5" fill="#1ad21a"/>
<rect x="114.8" y="250.7" width="5.4" height="5.5" fill="#0a6e0a"/>
<rect x="119.8" y="250.7" width="5.4" height="5.5" fill="#0c0c0c"/>
<rect x="124.7" y="250.7" width="5.4" height="5.5" fill="#1ad21a"/>
<rect x="129.6" y="250.7" width="5.4" height="5.5" fill="#1ad21a"/>
<rect x="134.6" y="250.7" width="5.4" height="5.5" fill="#0c0c0c"/>
<rect x="139.5" y="250.7" width="5.4" height="5.5" fill="#0a6e0a"/>
<rect x="144.4" y="250.7" width="5.4" height="5.5" fill="#1ad21a"/>
<rect x="149.4" y="250.7" width="5.4" height="5.5" fill="#0a6e0a"/>
<rect x="154.3" y="250.7" width="5.4" height="5.5" fill="#0c0c0c"/>
<rect x="159.3" y="250.7" width="4.9" height="5.5" fill="#0a6e0a"/>
<rect x="100.0" y="255.7" width="5.4" height="5.5" fill="#0c0c0c"/>
<rect x="104.9" y="255.7" width="5.4" height="5.5" fill="#1ad21a"/>
<rect x="109.9" y="255.7" width="5.4" height="5.5" fill="#0a6e0a"/>
<rect x="114.8" y="255.7" width="5.4" height="5.5" fill="#0c0c0c"/>
<rect x="119.8" y="255.7" width="5.4" height="5.5" fill="#1ad21a"/>
<rect x="124.7" y="255.7" width="5.4" height="5.5" fill="#1ad21a"/>
<rect x="129.6" y="255.7" width="5.4" height="5.5" fill="#0c0c0c"/>
<rect x="134.6" y="255.7" width="5.4" height="5.5" fill="#1ad21a"/>
<rect x="139.5" y="255.7" width="5.4" height="5.5" fill="#0c0c0c"/>
<rect x="144.4" y="255.7" width="5.4" height="5.5" fill="#1ad21a"/>
<rect x="149.4" y="255.7" width="5.4" height="5.5" fill="#0a6e0a"/>
<rect x="154.3" y="255.7" width="5.4" height="5.5" fill="#0c0c0c"/>
<rect x="159.3" y="255.7" width="4.9" height="5.5" fill="#1ad21a"/>
<rect x="100.0" y="260.6" width="5.4" height="5.5" fill="#0c0c0c"/>
<rect x="104.9" y="260.6" width="5.4" height="5.5" fill="#7a0606"/>
<rect x="109.9" y="260.6" width="5.4" height="5.5" fill="#f20000"/>
<rect x="114.8" y="260.6" width="5.4" height="5.5" fill="#f20000"/>
<rect x="119.8" y="260.6" width="5.4" height="5.5" fill="#0c0c0c"/>
<rect x="124.7" y="260.6" width="5.4" height="5.5" fill="#f20000"/>
<rect x="129.6" y="260.6" width="5.4" height="5.5" fill="#f20000"/>
<rect x="134.6" y="260.6" width="5.4" height="5.5" fill="#7a0606"/>
<rect x="139.5" y="260.6" width="5.4" height="5.5" fill="#f20000"/>
<rect x="144.4" y="260.6" width="5.4" height="5.5" fill="#7a0606"/>
<rect x="149.4" y="260.6" width="5.4" height="5.5" fill="#f20000"/>
<rect x="154.3" y="260.6" width="5.4" height="5.5" fill="#1ad21a"/>
<rect x="159.3" y="260.6" width="4.9" height="5.5" fill="#7a0606"/>
<rect x="100.0" y="265.6" width="5.4" height="5.5" fill="#f20000"/>
<rect x="104.9" y="265.6" width="5.4" height="5.5" fill="#f20000"/>
<rect x="109.9" y="265.6" width="5.4" height="5.5" fill="#f20000"/>
<rect x="114.8" y="265.6" width="5.4" height="5.5" fill="#f20000"/>
<rect x="119.8" y="265.6" width="5.4" height="5.5" fill="#f20000"/>
<rect x="124.7" y="265.6" width="5.4" height="5.5" fill="#f20000"/>
<rect x="129.6" y="265.6" width="5.4" height="5.5" fill="#f20000"/>
<rect x="134.6" y="265.6" width="5.4" height="5.5" fill="#f20000"/>
<rect x="139.5" y="265.6" width="5.4" height="5.5" fill="#f20000"/>
<rect x="144.4" y="265.6" width="5.4" height="5.5" fill="#f20000"/>
<rect x="149.4" y="265.6" width="5.4" height="5.5" fill="#f20000"/>
<rect x="154.3" y="265.6" width="5.4" height="5.5" fill="#0c0c0c"/>
<rect x="159.3" y="265.6" width="4.9" height="5.5" fill="#f20000"/>
<rect x="100.0" y="270.6" width="5.4" height="5.5" fill="#0a6e0a"/>
<rect x="104.9" y="270.6" width="5.4" height="5.5" fill="#7a0606"/>
<rect x="109.9" y="270.6" width="5.4" height="5.5" fill="#1ad21a"/>
<rect x="114.8" y="270.6" width="5.4" height="5.5" fill="#1ad21a"/>
<rect x="119.8" y="270.6" width="5.4" height="5.5" fill="#7a0606"/>
<rect x="124.7" y="270.6" width="5.4" height="5.5" fill="#1ad21a"/>
<rect x="129.6" y="270.6" width="5.4" height="5.5" fill="#1ad21a"/>
<rect x="134.6" y="270.6" width="5.4" height="5.5" fill="#0c0c0c"/>
<rect x="139.5" y="270.6" width="5.4" height="5.5" fill="#0c0c0c"/>
<rect x="144.4" y="270.6" width="5.4" height="5.5" fill="#1ad21a"/>
<rect x="149.4" y="270.6" width="5.4" height="5.5" fill="#7a0606"/>
<rect x="154.3" y="270.6" width="5.4" height="5.5" fill="#7a0606"/>
<rect x="159.3" y="270.6" width="4.9" height="5.5" fill="#1ad21a"/>
<rect x="100.0" y="275.5" width="5.4" height="5.5" fill="#0c0c0c"/>
<rect x="104.9" y="275.5" width="5.4" height="5.5" fill="#f20000"/>
<rect x="109.9" y="275.5" width="5.4" height="5.5" fill="#f20000"/>
<rect x="114.8" y="275.5" width="5.4" height="5.5" fill="#f20000"/>
<rect x="119.8" y="275.5" width="5.4" height="5.5" fill="#0c0c0c"/>
<rect x="124.7" y="275.5" width="5.4" height="5.5" fill="#7a0606"/>
<rect x="129.6" y="275.5" width="5.4" height="5.5" fill="#f20000"/>
<rect x="134.6" y="275.5" width="5.4" height="5.5" fill="#1ad21a"/>
<rect x="139.5" y="275.5" width="5.4" height="5.5" fill="#f20000"/>
<rect x="144.4" y="275.5" width="5.4" height="5.5" fill="#7a0606"/>
<rect x="149.4" y="275.5" width="5.4" height="5.5" fill="#f20000"/>
<rect x="154.3" y="275.5" width="5.4" height="5.5" fill="#1ad21a"/>
<rect x="159.3" y="275.5" width="4.9" height="5.5" fill="#f20000"/>
<rect x="100.0" y="280.5" width="5.4" height="5.5" fill="#f20000"/>
<rect x="104.9" y="280.5" width="5.4" height="5.5" fill="#f20000"/>
<rect x="109.9" y="280.5" width="5.4" height="5.5" fill="#0a6e0a"/>
<rect x="114.8" y="280.5" width="5.4" height="5.5" fill="#f20000"/>
<rect x="119.8" y="280.5" width="5.4" height="5.5" fill="#7a0606"/>
<rect x="124.7" y="280.5" width="5.4" height="5.5" fill="#1ad21a"/>
<rect x="129.6" y="280.5" width="5.4" height="5.5" fill="#0c0c0c"/>
<rect x="134.6" y="280.5" width="5.4" height="5.5" fill="#f20000"/>
<rect x="139.5" y="280.5" width="5.4" height="5.5" fill="#7a0606"/>
<rect x="144.4" y="280.5" width="5.4" height="5.5" fill="#0c0c0c"/>
<rect x="149.4" y="280.5" width="5.4" height="5.5" fill="#f20000"/>
<rect x="154.3" y="280.5" width="5.4" height="5.5" fill="#7a0606"/>
<rect x="159.3" y="280.5" width="4.9" height="5.5" fill="#0a6e0a"/>
<rect x="100.0" y="285.5" width="5.4" height="5.5" fill="#f20000"/>
<rect x="104.9" y="285.5" width="5.4" height="5.5" fill="#f20000"/>
<rect x="109.9" y="285.5" width="5.4" height="5.5" fill="#f20000"/>
<rect x="114.8" y="285.5" width="5.4" height="5.5" fill="#f20000"/>
<rect x="119.8" y="285.5" width="5.4" height="5.5" fill="#f20000"/>
<rect x="124.7" y="285.5" width="5.4" height="5.5" fill="#f20000"/>
<rect x="129.6" y="285.5" width="5.4" height="5.5" fill="#f20000"/>
<rect x="134.6" y="285.5" width="5.4" height="5.5" fill="#f20000"/>
<rect x="139.5" y="285.5" width="5.4" height="5.5" fill="#f20000"/>
<rect x="144.4" y="285.5" width="5.4" height="5.5" fill="#f20000"/>
<rect x="149.4" y="285.5" width="5.4" height="5.5" fill="#f20000"/>
<rect x="154.3" y="285.5" width="5.4" height="5.5" fill="#f20000"/>
<rect x="159.3" y="285.5" width="4.9" height="5.5" fill="#f20000"/>
<rect x="100.0" y="290.4" width="5.4" height="5.0" fill="#1ad21a"/>
<rect x="104.9" y="290.4" width="5.4" height="5.0" fill="#1ad21a"/>
<rect x="109.9" y="290.4" width="5.4" height="5.0" fill="#1ad21a"/>
<rect x="114.8" y="290.4" width="5.4" height="5.0" fill="#0a6e0a"/>
<rect x="119.8" y="290.4" width="5.4" height="5.0" fill="#1ad21a"/>
<rect x="124.7" y="290.4" width="5.4" height="5.0" fill="#1ad21a"/>
<rect x="129.6" y="290.4" width="5.4" height="5.0" fill="#1ad21a"/>
<rect x="134.6" y="290.4" width="5.4" height="5.0" fill="#1ad21a"/>
<rect x="139.5" y="290.4" width="5.4" height="5.0" fill="#1ad21a"/>
<rect x="144.4" y="290.4" width="5.4" height="5.0" fill="#1ad21a"/>
<rect x="149.4" y="290.4" width="5.4" height="5.0" fill="#0a6e0a"/>
<rect x="154.3" y="290.4" width="5.4" height="5.0" fill="#0a6e0a"/>
<rect x="159.3" y="290.4" width="4.9" height="5.0" fill="#1ad21a"/>
<rect x="100.0" y="298.7" width="5.4" height="5.4" fill="#0a6e0a"/>
<rect x="104.9" y="298.7" width="5.4" height="5.4" fill="#7a0606"/>
<rect x="109.9" y="298.7" width="5.4" height="5.4" fill="#f20000"/>
<rect x="114.8" y="298.7" width="5.4" height="5.4" fill="#f20000"/>
<rect x="119.8" y="298.7" width="5.4" height="5.4" fill="#7a0606"/>
<rect x="124.7" y="298.7" width="5.4" height="5.4" fill="#7a0606"/>
<rect x="129.6" y="298.7" width="5.4" height="5.4" fill="#0c0c0c"/>
<rect x="134.6" y="298.7" width="5.4" height="5.4" fill="#0a6e0a"/>
<rect x="139.5" y="298.7" width="5.4" height="5.4" fill="#f20000"/>
<rect x="144.4" y="298.7" width="5.4" height="5.4" fill="#f20000"/>
<rect x="149.4" y="298.7" width="5.4" height="5.4" fill="#f20000"/>
<rect x="154.3" y="298.7" width="5.4" height="5.4" fill="#f20000"/>
<rect x="159.3" y="298.7" width="4.9" height="5.4" fill="#f20000"/>
<rect x="100.0" y="303.6" width="5.4" height="5.4" fill="#f20000"/>
<rect x="104.9" y="303.6" width="5.4" height="5.4" fill="#0c0c0c"/>
<rect x="109.9" y="303.6" width="5.4" height="5.4" fill="#0a6e0a"/>
<rect x="114.8" y="303.6" width="5.4" height="5.4" fill="#1ad21a"/>
<rect x="119.8" y="303.6" width="5.4" height="5.4" fill="#0a6e0a"/>
<rect x="124.7" y="303.6" width="5.4" height="5.4" fill="#0c0c0c"/>
<rect x="129.6" y="303.6" width="5.4" height="5.4" fill="#f20000"/>
<rect x="134.6" y="303.6" width="5.4" height="5.4" fill="#0a6e0a"/>
<rect x="139.5" y="303.6" width="5.4" height="5.4" fill="#f20000"/>
<rect x="144.4" y="303.6" width="5.4" height="5.4" fill="#0c0c0c"/>
<rect x="149.4" y="303.6" width="5.4" height="5.4" fill="#0c0c0c"/>
<rect x="154.3" y="303.6" width="5.4" height="5.4" fill="#f20000"/>
<rect x="159.3" y="303.6" width="4.9" height="5.4" fill="#0c0c0c"/>
<rect x="100.0" y="308.6" width="5.4" height="5.4" fill="#0c0c0c"/>
<rect x="104.9" y="308.6" width="5.4" height="5.4" fill="#7a0606"/>
<rect x="109.9" y="308.6" width="5.4" height="5.4" fill="#0a6e0a"/>
<rect x="114.8" y="308.6" width="5.4" height="5.4" fill="#7a0606"/>
<rect x="119.8" y="308.6" width="5.4" height="5.4" fill="#0c0c0c"/>
<rect x="124.7" y="308.6" width="5.4" height="5.4" fill="#1ad21a"/>
<rect x="129.6" y="308.6" width="5.4" height="5.4" fill="#0c0c0c"/>
<rect x="134.6" y="308.6" width="5.4" height="5.4" fill="#0c0c0c"/>
<rect x="139.5" y="308.6" width="5.4" height="5.4" fill="#f20000"/>
<rect x="144.4" y="308.6" width="5.4" height="5.4" fill="#0a6e0a"/>
<rect x="149.4" y="308.6" width="5.4" height="5.4" fill="#1ad21a"/>
<rect x="154.3" y="308.6" width="5.4" height="5.4" fill="#0c0c0c"/>
<rect x="159.3" y="308.6" width="4.9" height="5.4" fill="#0c0c0c"/>
<rect x="100.0" y="313.5" width="5.4" height="5.4" fill="#f20000"/>
<rect x="104.9" y="313.5" width="5.4" height="5.4" fill="#1ad21a"/>
<rect x="109.9" y="313.5" width="5.4" height="5.4" fill="#1ad21a"/>
<rect x="114.8" y="313.5" width="5.4" height="5.4" fill="#0c0c0c"/>
<rect x="119.8" y="313.5" width="5.4" height="5.4" fill="#1ad21a"/>
<rect x="124.7" y="313.5" width="5.4" height="5.4" fill="#f20000"/>
<rect x="129.6" y="313.5" width="5.4" height="5.4" fill="#f20000"/>
<rect x="134.6" y="313.5" width="5.4" height="5.4" fill="#0a6e0a"/>
<rect x="139.5" y="313.5" width="5.4" height="5.4" fill="#f20000"/>
<rect x="144.4" y="313.5" width="5.4" height="5.4" fill="#f20000"/>
<rect x="149.4" y="313.5" width="5.4" height="5.4" fill="#0c0c0c"/>
<rect x="154.3" y="313.5" width="5.4" height="5.4" fill="#1ad21a"/>
<rect x="159.3" y="313.5" width="4.9" height="5.4" fill="#1ad21a"/>
<rect x="100.0" y="318.5" width="5.4" height="5.4" fill="#0c0c0c"/>
<rect x="104.9" y="318.5" width="5.4" height="5.4" fill="#0a6e0a"/>
<rect x="109.9" y="318.5" width="5.4" height="5.4" fill="#0c0c0c"/>
<rect x="114.8" y="318.5" width="5.4" height="5.4" fill="#0c0c0c"/>
<rect x="119.8" y="318.5" width="5.4" height="5.4" fill="#1ad21a"/>
<rect x="124.7" y="318.5" width="5.4" height="5.4" fill="#0a6e0a"/>
<rect x="129.6" y="318.5" width="5.4" height="5.4" fill="#0c0c0c"/>
<rect x="134.6" y="318.5" width="5.4" height="5.4" fill="#1ad21a"/>
<rect x="139.5" y="318.5" width="5.4" height="5.4" fill="#f20000"/>
<rect x="144.4" y="318.5" width="5.4" height="5.4" fill="#0a6e0a"/>
<rect x="149.4" y="318.5" width="5.4" height="5.4" fill="#0c0c0c"/>
<rect x="154.3" y="318.5" width="5.4" height="5.4" fill="#7a0606"/>
<rect x="159.3" y="318.5" width="4.9" height="5.4" fill="#0c0c0c"/>
<rect x="100.0" y="323.4" width="5.4" height="5.4" fill="#f20000"/>
<rect x="104.9" y="323.4" width="5.4" height="5.4" fill="#0c0c0c"/>
<rect x="109.9" y="323.4" width="5.4" height="5.4" fill="#f20000"/>
<rect x="114.8" y="323.4" width="5.4" height="5.4" fill="#f20000"/>
<rect x="119.8" y="323.4" width="5.4" height="5.4" fill="#0c0c0c"/>
<rect x="124.7" y="323.4" width="5.4" height="5.4" fill="#0c0c0c"/>
<rect x="129.6" y="323.4" width="5.4" height="5.4" fill="#7a0606"/>
<rect x="134.6" y="323.4" width="5.4" height="5.4" fill="#1ad21a"/>
<rect x="139.5" y="323.4" width="5.4" height="5.4" fill="#f20000"/>
<rect x="144.4" y="323.4" width="5.4" height="5.4" fill="#f20000"/>
<rect x="149.4" y="323.4" width="5.4" height="5.4" fill="#f20000"/>
<rect x="154.3" y="323.4" width="5.4" height="5.4" fill="#f20000"/>
<rect x="159.3" y="323.4" width="4.9" height="5.4" fill="#f20000"/>
<rect x="100.0" y="328.4" width="5.4" height="4.9" fill="#7a0606"/>
<rect x="104.9" y="328.4" width="5.4" height="4.9" fill="#0c0c0c"/>
<rect x="109.9" y="328.4" width="5.4" height="4.9" fill="#f20000"/>
<rect x="114.8" y="328.4" width="5.4" height="4.9" fill="#0c0c0c"/>
<rect x="119.8" y="328.4" width="5.4" height="4.9" fill="#0a6e0a"/>
<rect x="124.7" y="328.4" width="5.4" height="4.9" fill="#0c0c0c"/>
<rect x="129.6" y="328.4" width="5.4" height="4.9" fill="#7a0606"/>
<rect x="134.6" y="328.4" width="5.4" height="4.9" fill="#0a6e0a"/>
<rect x="139.5" y="328.4" width="5.4" height="4.9" fill="#f20000"/>
<rect x="144.4" y="328.4" width="5.4" height="4.9" fill="#0a6e0a"/>
<rect x="149.4" y="328.4" width="5.4" height="4.9" fill="#7a0606"/>
<rect x="154.3" y="328.4" width="5.4" height="4.9" fill="#0a6e0a"/>
<rect x="159.3" y="328.4" width="4.9" height="4.9" fill="#7a0606"/>
<rect x="169.2" y="53.0" width="5.5" height="5.3" fill="#f20000"/>
<rect x="174.2" y="53.0" width="5.5" height="5.3" fill="#0a6e0a"/>
<rect x="179.2" y="53.0" width="5.5" height="5.3" fill="#f20000"/>
<rect x="184.2" y="53.0" width="5.5" height="5.3" fill="#0c0c0c"/>
<rect x="189.2" y="53.0" width="5.5" height="5.3" fill="#f20000"/>
<rect x="194.2" y="53.0" width="5.5" height="5.3" fill="#1ad21a"/>
<rect x="199.2" y="53.0" width="5.5" height="5.3" fill="#0c0c0c"/>
<rect x="204.2" y="53.0" width="5.5" height="5.3" fill="#f20000"/>
<rect x="209.2" y="53.0" width="5.5" height="5.3" fill="#0a6e0a"/>
<rect x="214.2" y="53.0" width="5.5" height="5.3" fill="#f20000"/>
<rect x="219.2" y="53.0" width="5.5" height="5.3" fill="#1ad21a"/>
<rect x="224.2" y="53.0" width="5.5" height="5.3" fill="#f20000"/>
<rect x="229.2" y="53.0" width="5.0" height="5.3" fill="#f20000"/>
<rect x="169.2" y="57.8" width="5.5" height="5.3" fill="#1ad21a"/>
<rect x="174.2" y="57.8" width="5.5" height="5.3" fill="#0a6e0a"/>
<rect x="179.2" y="57.8" width="5.5" height="5.3" fill="#1ad21a"/>
<rect x="184.2" y="57.8" width="5.5" height="5.3" fill="#0a6e0a"/>
<rect x="189.2" y="57.8" width="5.5" height="5.3" fill="#0c0c0c"/>
<rect x="194.2" y="57.8" width="5.5" height="5.3" fill="#7a0606"/>
<rect x="199.2" y="57.8" width="5.5" height="5.3" fill="#1ad21a"/>
<rect x="204.2" y="57.8" width="5.5" height="5.3" fill="#0c0c0c"/>
<rect x="209.2" y="57.8" width="5.5" height="5.3" fill="#1ad21a"/>
<rect x="214.2" y="57.8" width="5.5" height="5.3" fill="#0a6e0a"/>
<rect x="219.2" y="57.8" width="5.5" height="5.3" fill="#0a6e0a"/>
<rect x="224.2" y="57.8" width="5.5" height="5.3" fill="#0c0c0c"/>
<rect x="229.2" y="57.8" width="5.0" height="5.3" fill="#0c0c0c"/>
<rect x="169.2" y="62.7" width="5.5" height="4.8" fill="#0c0c0c"/>
<rect x="174.2" y="62.7" width="5.5" height="4.8" fill="#7a0606"/>
<rect x="179.2" y="62.7" width="5.5" height="4.8" fill="#f20000"/>
<rect x="184.2" y="62.7" width="5.5" height="4.8" fill="#0c0c0c"/>
<rect x="189.2" y="62.7" width="5.5" height="4.8" fill="#0c0c0c"/>
<rect x="194.2" y="62.7" width="5.5" height="4.8" fill="#1ad21a"/>
<rect x="199.2" y="62.7" width="5.5" height="4.8" fill="#0a6e0a"/>
<rect x="204.2" y="62.7" width="5.5" height="4.8" fill="#f20000"/>
<rect x="209.2" y="62.7" width="5.5" height="4.8" fill="#0a6e0a"/>
<rect x="214.2" y="62.7" width="5.5" height="4.8" fill="#0c0c0c"/>
<rect x="219.2" y="62.7" width="5.5" height="4.8" fill="#1ad21a"/>
<rect x="224.2" y="62.7" width="5.5" height="4.8" fill="#f20000"/>
<rect x="229.2" y="62.7" width="5.0" height="4.8" fill="#0a6e0a"/>
<rect x="169.2" y="70.2" width="5.5" height="5.5" fill="#0c0c0c"/>
<rect x="174.2" y="70.2" width="5.5" height="5.5" fill="#7a0606"/>
<rect x="179.2" y="70.2" width="5.5" height="5.5" fill="#7a0606"/>
<rect x="184.2" y="70.2" width="5.5" height="5.5" fill="#1ad21a"/>
<rect x="189.2" y="70.2" width="5.5" height="5.5" fill="#f20000"/>
<rect x="194.2" y="70.2" width="5.5" height="5.5" fill="#1ad21a"/>
<rect x="199.2" y="70.2" width="5.5" height="5.5" fill="#0a6e0a"/>
<rect x="204.2" y="70.2" width="5.5" height="5.5" fill="#f20000"/>
<rect x="209.2" y="70.2" width="5.5" height="5.5" fill="#0a6e0a"/>
<rect x="214.2" y="70.2" width="5.5" height="5.5" fill="#f20000"/>
<rect x="219.2" y="70.2" width="5.5" height="5.5" fill="#0a6e0a"/>
<rect x="224.2" y="70.2" width="5.5" height="5.5" fill="#f20000"/>
<rect x="229.2" y="70.2" width="5.0" height="5.5" fill="#0c0c0c"/>
<rect x="169.2" y="75.2" width="5.5" height="5.5" fill="#1ad21a"/>
<rect x="174.2" y="75.2" width="5.5" height="5.5" fill="#1ad21a"/>
<rect x="179.2" y="75.2" width="5.5" height="5.5" fill="#1ad21a"/>
<rect x="184.2" y="75.2" width="5.5" height="5.5" fill="#1ad21a"/>
<rect x="189.2" y="75.2" width="5.5" height="5.5" fill="#0c0c0c"/>
<rect x="194.2" y="75.2" width="5.5" height="5.5" fill="#1ad21a"/>
<rect x="199.2" y="75.2" width="5.5" height="5.5" fill="#1ad21a"/>
<rect x="204.2" y="75.2" width="5.5" height="5.5" fill="#7a0606"/>
<rect x="209.2" y="75.2" width="5.5" height="5.5" fill="#1ad21a"/>
<rect x="214.2" y="75.2" width="5.5" height="5.5" fill="#0c0c0c"/>
<rect x="219.2" y="75.2" width="5.5" height="5.5" fill="#1ad21a"/>
<rect x="224.2" y="75.2" width="5.5" height="5.5" fill="#f20000"/>
<rect x="229.2" y="75.2" width="5.0" height="5.5" fill="#1ad21a"/>
<rect x="169.2" y="80.2" width="5.5" height="5.5" fill="#f20000"/>
<rect x="174.2" y="80.2" width="5.5" height="5.5" fill="#f20000"/>
<rect x="179.2" y="80.2" width="5.5" height="5.5" fill="#f20000"/>
<rect x="184.2" y="80.2" width="5.5" height="5.5" fill="#f20000"/>
<rect x="189.2" y="80.2" width="5.5" height="5.5" fill="#f20000"/>
<rect x="194.2" y="80.2" width="5.5" height="5.5" fill="#1ad21a"/>
<rect x="199.2" y="80.2" width="5.5" height="5.5" fill="#f20000"/>
<rect x="204.2" y="80.2" width="5.5" height="5.5" fill="#f20000"/>
<rect x="209.2" y="80.2" width="5.5" height="5.5" fill="#7a0606"/>
<rect x="214.2" y="80.2" width="5.5" height="5.5" fill="#f20000"/>
<rect x="219.2" y="80.2" width="5.5" height="5.5" fill="#0c0c0c"/>
<rect x="224.2" y="80.2" width="5.5" height="5.5" fill="#f20000"/>
<rect x="229.2" y="80.2" width="5.0" height="5.5" fill="#f20000"/>
<rect x="169.2" y="85.3" width="5.5" height="5.5" fill="#0c0c0c"/>
<rect x="174.2" y="85.3" width="5.5" height="5.5" fill="#1ad21a"/>
<rect x="179.2" y="85.3" width="5.5" height="5.5" fill="#7a0606"/>
<rect x="184.2" y="85.3" width="5.5" height="5.5" fill="#7a0606"/>
<rect x="189.2" y="85.3" width="5.5" height="5.5" fill="#f20000"/>
<rect x="194.2" y="85.3" width="5.5" height="5.5" fill="#1ad21a"/>
<rect x="199.2" y="85.3" width="5.5" height="5.5" fill="#0c0c0c"/>
<rect x="204.2" y="85.3" width="5.5" height="5.5" fill="#7a0606"/>
<rect x="209.2" y="85.3" width="5.5" height="5.5" fill="#1ad21a"/>
<rect x="214.2" y="85.3" width="5.5" height="5.5" fill="#0a6e0a"/>
<rect x="219.2" y="85.3" width="5.5" height="5.5" fill="#1ad21a"/>
<rect x="224.2" y="85.3" width="5.5" height="5.5" fill="#f20000"/>
<rect x="229.2" y="85.3" width="5.0" height="5.5" fill="#0c0c0c"/>
<rect x="169.2" y="90.3" width="5.5" height="5.5" fill="#1ad21a"/>
<rect x="174.2" y="90.3" width="5.5" height="5.5" fill="#0c0c0c"/>
<rect x="179.2" y="90.3" width="5.5" height="5.5" fill="#1ad21a"/>
<rect x="184.2" y="90.3" width="5.5" height="5.5" fill="#1ad21a"/>
<rect x="189.2" y="90.3" width="5.5" height="5.5" fill="#0c0c0c"/>
<rect x="194.2" y="90.3" width="5.5" height="5.5" fill="#1ad21a"/>
<rect x="199.2" y="90.3" width="5.5" height="5.5" fill="#1ad21a"/>
<rect x="204.2" y="90.3" width="5.5" height="5.5" fill="#0c0c0c"/>
<rect x="209.2" y="90.3" width="5.5" height="5.5" fill="#1ad21a"/>
<rect x="214.2" y="90.3" width="5.5" height="5.5" fill="#0a6e0a"/>
<rect x="219.2" y="90.3" width="5.5" height="5.5" fill="#1ad21a"/>
<rect x="224.2" y="90.3" width="5.5" height="5.5" fill="#7a0606"/>
<rect x="229.2" y="90.3" width="5.0" height="5.5" fill="#1ad21a"/>
<rect x="169.2" y="95.3" width="5.5" height="5.5" fill="#1ad21a"/>
<rect x="174.2" y="95.3" width="5.5" height="5.5" fill="#7a0606"/>
<rect x="179.2" y="95.3" width="5.5" height="5.5" fill="#f20000"/>
<rect x="184.2" y="95.3" width="5.5" height="5.5" fill="#7a0606"/>
<rect x="189.2" y="95.3" width="5.5" height="5.5" fill="#0c0c0c"/>
<rect x="194.2" y="95.3" width="5.5" height="5.5" fill="#1ad21a"/>
<rect x="199.2" y="95.3" width="5.5" height="5.5" fill="#7a0606"/>
<rect x="204.2" y="95.3" width="5.5" height="5.5" fill="#0c0c0c"/>
<rect x="209.2" y="95.3" width="5.5" height="5.5" fill="#f20000"/>
<rect x="214.2" y="95.3" width="5.5" height="5.5" fill="#1ad21a"/>
<rect x="219.2" y="95.3" width="5.5" height="5.5" fill="#0c0c0c"/>
<rect x="224.2" y="95.3" width="5.5" height="5.5" fill="#f20000"/>
<rect x="229.2" y="95.3" width="5.0" height="5.5" fill="#f20000"/>
<rect x="169.2" y="100.4" width="5.5" height="5.5" fill="#7a0606"/>
<rect x="174.2" y="100.4" width="5.5" height="5.5" fill="#1ad21a"/>
<rect x="179.2" y="100.4" width="5.5" height="5.5" fill="#0a6e0a"/>
<rect x="184.2" y="100.4" width="5.5" height="5.5" fill="#0a6e0a"/>
<rect x="189.2" y="100.4" width="5.5" height="5.5" fill="#0c0c0c"/>
<rect x="194.2" y="100.4" width="5.5" height="5.5" fill="#1ad21a"/>
<rect x="199.2" y="100.4" width="5.5" height="5.5" fill="#0a6e0a"/>
<rect x="204.2" y="100.4" width="5.5" height="5.5" fill="#0c0c0c"/>
<rect x="209.2" y="100.4" width="5.5" height="5.5" fill="#1ad21a"/>
<rect x="214.2" y="100.4" width="5.5" height="5.5" fill="#0a6e0a"/>
<rect x="219.2" y="100.4" width="5.5" height="5.5" fill="#1ad21a"/>
<rect x="224.2" y="100.4" width="5.5" height="5.5" fill="#f20000"/>
<rect x="229.2" y="100.4" width="5.0" height="5.5" fill="#1ad21a"/>
<rect x="169.2" y="105.4" width="5.5" height="5.0" fill="#0c0c0c"/>
<rect x="174.2" y="105.4" width="5.5" height="5.0" fill="#0c0c0c"/>
<rect x="179.2" y="105.4" width="5.5" height="5.0" fill="#1ad21a"/>
<rect x="184.2" y="105.4" width="5.5" height="5.0" fill="#0c0c0c"/>
<rect x="189.2" y="105.4" width="5.5" height="5.0" fill="#f20000"/>
<rect x="194.2" y="105.4" width="5.5" height="5.0" fill="#f20000"/>
<rect x="199.2" y="105.4" width="5.5" height="5.0" fill="#1ad21a"/>
<rect x="204.2" y="105.4" width="5.5" height="5.0" fill="#0c0c0c"/>
<rect x="209.2" y="105.4" width="5.5" height="5.0" fill="#1ad21a"/>
<rect x="214.2" y="105.4" width="5.5" height="5.0" fill="#0c0c0c"/>
<rect x="219.2" y="105.4" width="5.5" height="5.0" fill="#f20000"/>
<rect x="224.2" y="105.4" width="5.5" height="5.0" fill="#f20000"/>
<rect x="229.2" y="105.4" width="5.0" height="5.0" fill="#0c0c0c"/>
<rect x="169.2" y="113.0" width="5.5" height="5.4" fill="#1ad21a"/>
<rect x="174.2" y="113.0" width="5.5" height="5.4" fill="#1ad21a"/>
<rect x="179.2" y="113.0" width="5.5" height="5.4" fill="#0a6e0a"/>
<rect x="184.2" y="113.0" width="5.5" height="5.4" fill="#1ad21a"/>
<rect x="189.2" y="113.0" width="5.5" height="5.4" fill="#1ad21a"/>
<rect x="194.2" y="113.0" width="5.5" height="5.4" fill="#1ad21a"/>
<rect x="199.2" y="113.0" width="5.5" height="5.4" fill="#1ad21a"/>
<rect x="204.2" y="113.0" width="5.5" height="5.4" fill="#0a6e0a"/>
<rect x="209.2" y="113.0" width="5.5" height="5.4" fill="#1ad21a"/>
<rect x="214.2" y="113.0" width="5.5" height="5.4" fill="#1ad21a"/>
<rect x="219.2" y="113.0" width="5.5" height="5.4" fill="#1ad21a"/>
<rect x="224.2" y="113.0" width="5.5" height="5.4" fill="#0a6e0a"/>
<rect x="229.2" y="113.0" width="5.0" height="5.4" fill="#1ad21a"/>
<rect x="169.2" y="117.9" width="5.5" height="5.4" fill="#f20000"/>
<rect x="174.2" y="117.9" width="5.5" height="5.4" fill="#0a6e0a"/>
<rect x="179.2" y="117.9" width="5.5" height="5.4" fill="#7a0606"/>
<rect x="184.2" y="117.9" width="5.5" height="5.4" fill="#f20000"/>
<rect x="189.2" y="117.9" width="5.5" height="5.4" fill="#f20000"/>
<rect x="194.2" y="117.9" width="5.5" height="5.4" fill="#1ad21a"/>
<rect x="199.2" y="117.9" width="5.5" height="5.4" fill="#0c0c0c"/>
<rect x="204.2" y="117.9" width="5.5" height="5.4" fill="#f20000"/>
<rect x="209.2" y="117.9" width="5.5" height="5.4" fill="#0a6e0a"/>
<rect x="214.2" y="117.9" width="5.5" height="5.4" fill="#1ad21a"/>
<rect x="219.2" y="117.9" width="5.5" height="5.4" fill="#7a0606"/>
<rect x="224.2" y="117.9" width="5.5" height="5.4" fill="#f20000"/>
<rect x="229.2" y="117.9" width="5.0" height="5.4" fill="#f20000"/>
<rect x="169.2" y="122.8" width="5.5" height="5.4" fill="#f20000"/>
<rect x="174.2" y="122.8" width="5.5" height="5.4" fill="#0a6e0a"/>
<rect x="179.2" y="122.8" width="5.5" height="5.4" fill="#0c0c0c"/>
<rect x="184.2" y="122.8" width="5.5" height="5.4" fill="#f20000"/>
<rect x="189.2" y="122.8" width="5.5" height="5.4" fill="#f20000"/>
<rect x="194.2" y="122.8" width="5.5" height="5.4" fill="#1ad21a"/>
<rect x="199.2" y="122.8" width="5.5" height="5.4" fill="#7a0606"/>
<rect x="204.2" y="122.8" width="5.5" height="5.4" fill="#7a0606"/>
<rect x="209.2" y="122.8" width="5.5" height="5.4" fill="#1ad21a"/>
<rect x="214.2" y="122.8" width="5.5" height="5.4" fill="#7a0606"/>
<rect x="219.2" y="122.8" width="5.5" height="5.4" fill="#1ad21a"/>
<rect x="224.2" y="122.8" width="5.5" height="5.4" fill="#f20000"/>
<rect x="229.2" y="122.8" width="5.0" height="5.4" fill="#f20000"/>
<rect x="169.2" y="127.8" width="5.5" height="4.9" fill="#7a0606"/>
<rect x="174.2" y="127.8" width="5.5" height="4.9" fill="#1ad21a"/>
<rect x="179.2" y="127.8" width="5.5" height="4.9" fill="#0c0c0c"/>
<rect x="184.2" y="127.8" width="5.5" height="4.9" fill="#f20000"/>
<rect x="189.2" y="127.8" width="5.5" height="4.9" fill="#7a0606"/>
<rect x="194.2" y="127.8" width="5.5" height="4.9" fill="#1ad21a"/>
<rect x="199.2" y="127.8" width="5.5" height="4.9" fill="#0c0c0c"/>
<rect x="204.2" y="127.8" width="5.5" height="4.9" fill="#0c0c0c"/>
<rect x="209.2" y="127.8" width="5.5" height="4.9" fill="#1ad21a"/>
<rect x="214.2" y="127.8" width="5.5" height="4.9" fill="#0c0c0c"/>
<rect x="219.2" y="127.8" width="5.5" height="4.9" fill="#1ad21a"/>
<rect x="224.2" y="127.8" width="5.5" height="4.9" fill="#f20000"/>
<rect x="229.2" y="127.8" width="5.0" height="4.9" fill="#0c0c0c"/>
<rect x="169.2" y="135.7" width="5.5" height="5.5" fill="#0a6e0a"/>
<rect x="174.2" y="135.7" width="5.5" height="5.5" fill="#1ad21a"/>
<rect x="179.2" y="135.7" width="5.5" height="5.5" fill="#0a6e0a"/>
<rect x="184.2" y="135.7" width="5.5" height="5.5" fill="#0a6e0a"/>
<rect x="189.2" y="135.7" width="5.5" height="5.5" fill="#1ad21a"/>
<rect x="194.2" y="135.7" width="5.5" height="5.5" fill="#1ad21a"/>
<rect x="199.2" y="135.7" width="5.5" height="5.5" fill="#1ad21a"/>
<rect x="204.2" y="135.7" width="5.5" height="5.5" fill="#0c0c0c"/>
<rect x="209.2" y="135.7" width="5.5" height="5.5" fill="#1ad21a"/>
<rect x="214.2" y="135.7" width="5.5" height="5.5" fill="#1ad21a"/>
<rect x="219.2" y="135.7" width="5.5" height="5.5" fill="#1ad21a"/>
<rect x="224.2" y="135.7" width="5.5" height="5.5" fill="#7a0606"/>
<rect x="229.2" y="135.7" width="5.0" height="5.5" fill="#1ad21a"/>
<rect x="169.2" y="140.7" width="5.5" height="5.5" fill="#1ad21a"/>
<rect x="174.2" y="140.7" width="5.5" height="5.5" fill="#0c0c0c"/>
<rect x="179.2" y="140.7" width="5.5" height="5.5" fill="#1ad21a"/>
<rect x="184.2" y="140.7" width="5.5" height="5.5" fill="#1ad21a"/>
<rect x="189.2" y="140.7" width="5.5" height="5.5" fill="#7a0606"/>
<rect x="194.2" y="140.7" width="5.5" height="5.5" fill="#1ad21a"/>
<rect x="199.2" y="140.7" width="5.5" height="5.5" fill="#1ad21a"/>
<rect x="204.2" y="140.7" width="5.5" height="5.5" fill="#7a0606"/>
<rect x="209.2" y="140.7" width="5.5" height="5.5" fill="#1ad21a"/>
<rect x="214.2" y="140.7" width="5.5" height="5.5" fill="#0c0c0c"/>
<rect x="219.2" y="140.7" width="5.5" height="5.5" fill="#7a0606"/>
<rect x="224.2" y="140.7" width="5.5" height="5.5" fill="#1ad21a"/>
<rect x="229.2" y="140.7" width="5.0" height="5.5" fill="#0c0c0c"/>
<rect x="169.2" y="145.7" width="5.5" height="5.5" fill="#0c0c0c"/>
<rect x="174.2" y="145.7" width="5.5" height="5.5" fill="#0c0c0c"/>
<rect x="179.2" y="145.7" width="5.5" height="5.5" fill="#0a6e0a"/>
<rect x="184.2" y="145.7" width="5.5" height="5.5" fill="#1ad21a"/>
<rect x="189.2" y="145.7" width="5.5" height="5.5" fill="#f20000"/>
<rect x="194.2" y="145.7" width="5.5" height="5.5" fill="#0c0c0c"/>
<rect x="199.2" y="145.7" width="5.5" height="5.5" fill="#1ad21a"/>
<rect x="204.2" y="145.7" width="5.5" height="5.5" fill="#f20000"/>
<rect x="209.2" y="145.7" width="5.5" height="5.5" fill="#1ad21a"/>
<rect x="214.2" y="145.7" width="5.5" height="5.5" fill="#0c0c0c"/>
<rect x="219.2" y="145.7" width="5.5" height="5.5" fill="#f20000"/>
<rect x="224.2" y="145.7" width="5.5" height="5.5" fill="#f20000"/>
<rect x="229.2" y="145.7" width="5.0" height="5.5" fill="#0a6e0a"/>
<rect x="169.2" y="150.7" width="5.5" height="5.5" fill="#0c0c0c"/>
<rect x="174.2" y="150.7" width="5.5" height="5.5" fill="#7a0606"/>
<rect x="179.2" y="150.7" width="5.5" height="5.5" fill="#0a6e0a"/>
<rect x="184.2" y="150.7" width="5.5" height="5.5" fill="#1ad21a"/>
<rect x="189.2" y="150.7" width="5.5" height="5.5" fill="#f20000"/>
<rect x="194.2" y="150.7" width="5.5" height="5.5" fill="#f20000"/>
<rect x="199.2" y="150.7" width="5.5" height="5.5" fill="#1ad21a"/>
<rect x="204.2" y="150.7" width="5.5" height="5.5" fill="#f20000"/>
<rect x="209.2" y="150.7" width="5.5" height="5.5" fill="#1ad21a"/>
<rect x="214.2" y="150.7" width="5.5" height="5.5" fill="#0c0c0c"/>
<rect x="219.2" y="150.7" width="5.5" height="5.5" fill="#7a0606"/>
<rect x="224.2" y="150.7" width="5.5" height="5.5" fill="#0c0c0c"/>
<rect x="229.2" y="150.7" width="5.0" height="5.5" fill="#0c0c0c"/>
<rect x="169.2" y="155.8" width="5.5" height="5.5" fill="#1ad21a"/>
<rect x="174.2" y="155.8" width="5.5" height="5.5" fill="#1ad21a"/>
<rect x="179.2" y="155.8" width="5.5" height="5.5" fill="#0c0c0c"/>
<rect x="184.2" y="155.8" width="5.5" height="5.5" fill="#0a6e0a"/>
<rect x="189.2" y="155.8" width="5.5" height="5.5" fill="#0a6e0a"/>
<rect x="194.2" y="155.8" width="5.5" height="5.5" fill="#f20000"/>
<rect x="199.2" y="155.8" width="5.5" height="5.5" fill="#0c0c0c"/>
<rect x="204.2" y="155.8" width="5.5" height="5.5" fill="#0c0c0c"/>
<rect x="209.2" y="155.8" width="5.5" height="5.5" fill="#1ad21a"/>
<rect x="214.2" y="155.8" width="5.5" height="5.5" fill="#0a6e0a"/>
<rect x="219.2" y="155.8" width="5.5" height="5.5" fill="#1ad21a"/>
<rect x="224.2" y="155.8" width="5.5" height="5.5" fill="#0c0c0c"/>
<rect x="229.2" y="155.8" width="5.0" height="5.5" fill="#0c0c0c"/>
<rect x="169.2" y="160.8" width="5.5" height="5.5" fill="#0c0c0c"/>
<rect x="174.2" y="160.8" width="5.5" height="5.5" fill="#f20000"/>
<rect x="179.2" y="160.8" width="5.5" height="5.5" fill="#f20000"/>
<rect x="184.2" y="160.8" width="5.5" height="5.5" fill="#1ad21a"/>
<rect x="189.2" y="160.8" width="5.5" height="5.5" fill="#f20000"/>
<rect x="194.2" y="160.8" width="5.5" height="5.5" fill="#1ad21a"/>
<rect x="199.2" y="160.8" width="5.5" height="5.5" fill="#0a6e0a"/>
<rect x="204.2" y="160.8" width="5.5" height="5.5" fill="#f20000"/>
<rect x="209.2" y="160.8" width="5.5" height="5.5" fill="#1ad21a"/>
<rect x="214.2" y="160.8" width="5.5" height="5.5" fill="#f20000"/>
<rect x="219.2" y="160.8" width="5.5" height="5.5" fill="#0a6e0a"/>
<rect x="224.2" y="160.8" width="5.5" height="5.5" fill="#f20000"/>
<rect x="229.2" y="160.8" width="5.0" height="5.5" fill="#0c0c0c"/>
<rect x="169.2" y="165.8" width="5.5" height="5.5" fill="#f20000"/>
<rect x="174.2" y="165.8" width="5.5" height="5.5" fill="#f20000"/>
<rect x="179.2" y="165.8" width="5.5" height="5.5" fill="#7a0606"/>
<rect x="184.2" y="165.8" width="5.5" height="5.5" fill="#1ad21a"/>
<rect x="189.2" y="165.8" width="5.5" height="5.5" fill="#f20000"/>
<rect x="194.2" y="165.8" width="5.5" height="5.5" fill="#1ad21a"/>
<rect x="199.2" y="165.8" width="5.5" height="5.5" fill="#0a6e0a"/>
<rect x="204.2" y="165.8" width="5.5" height="5.5" fill="#f20000"/>
<rect x="209.2" y="165.8" width="5.5" height="5.5" fill="#1ad21a"/>
<rect x="214.2" y="165.8" width="5.5" height="5.5" fill="#f20000"/>
<rect x="219.2" y="165.8" width="5.5" height="5.5" fill="#1ad21a"/>
<rect x="224.2" y="165.8" width="5.5" height="5.5" fill="#f20000"/>
<rect x="229.2" y="165.8" width="5.0" height="5.5" fill="#0a6e0a"/>
<rect x="169.2" y="170.8" width="5.5" height="5.0" fill="#0c0c0c"/>
<rect x="174.2" y="170.8" width="5.5" height="5.0" fill="#7a0606"/>
<rect x="179.2" y="170.8" width="5.5" height="5.0" fill="#0c0c0c"/>
<rect x="184.2" y="170.8" width="5.5" height="5.0" fill="#1ad21a"/>
<rect x="189.2" y="170.8" width="5.5" height="5.0" fill="#f20000"/>
<rect x="194.2" y="170.8" width="5.5" height="5.0" fill="#1ad21a"/>
<rect x="199.2" y="170.8" width="5.5" height="5.0" fill="#1ad21a"/>
<rect x="204.2" y="170.8" width="5.5" height="5.0" fill="#f20000"/>
<rect x="209.2" y="170.8" width="5.5" height="5.0" fill="#0a6e0a"/>
<rect x="214.2" y="170.8" width="5.5" height="5.0" fill="#f20000"/>
<rect x="219.2" y="170.8" width="5.5" height="5.0" fill="#1ad21a"/>
<rect x="224.2" y="170.8" width="5.5" height="5.0" fill="#f20000"/>
<rect x="229.2" y="170.8" width="5.0" height="5.0" fill="#0c0c0c"/>
<rect x="169.2" y="179.5" width="5.5" height="5.3" fill="#f20000"/>
<rect x="174.2" y="179.5" width="5.5" height="5.3" fill="#f20000"/>
<rect x="179.2" y="179.5" width="5.5" height="5.3" fill="#f20000"/>
<rect x="184.2" y="179.5" width="5.5" height="5.3" fill="#f20000"/>
<rect x="189.2" y="179.5" width="5.5" height="5.3" fill="#7a0606"/>
<rect x="194.2" y="179.5" width="5.5" height="5.3" fill="#f20000"/>
<rect x="199.2" y="179.5" width="5.5" height="5.3" fill="#0c0c0c"/>
<rect x="204.2" y="179.5" width="5.5" height="5.3" fill="#f20000"/>
<rect x="209.2" y="179.5" width="5.5" height="5.3" fill="#f20000"/>
<rect x="214.2" y="179.5" width="5.5" height="5.3" fill="#f20000"/>
<rect x="219.2" y="179.5" width="5.5" height="5.3" fill="#f20000"/>
<rect x="224.2" y="179.5" width="5.5" height="5.3" fill="#f20000"/>
<rect x="229.2" y="179.5" width="5.0" height="5.3" fill="#f20000"/>
<rect x="169.2" y="184.3" width="5.5" height="5.3" fill="#1ad21a"/>
<rect x="174.2" y="184.3" width="5.5" height="5.3" fill="#0c0c0c"/>
<rect x="179.2" y="184.3" width="5.5" height="5.3" fill="#0c0c0c"/>
<rect x="184.2" y="184.3" width="5.5" height="5.3" fill="#1ad21a"/>
<rect x="189.2" y="184.3" width="5.5" height="5.3" fill="#1ad21a"/>
<rect x="194.2" y="184.3" width="5.5" height="5.3" fill="#1ad21a"/>
<rect x="199.2" y="184.3" width="5.5" height="5.3" fill="#1ad21a"/>
<rect x="204.2" y="184.3" width="5.5" height="5.3" fill="#1ad21a"/>
<rect x="209.2" y="184.3" width="5.5" height="5.3" fill="#f20000"/>
<rect x="214.2" y="184.3" width="5.5" height="5.3" fill="#0c0c0c"/>
<rect x="219.2" y="184.3" width="5.5" height="5.3" fill="#1ad21a"/>
<rect x="224.2" y="184.3" width="5.5" height="5.3" fill="#0c0c0c"/>
<rect x="229.2" y="184.3" width="5.0" height="5.3" fill="#1ad21a"/>
<rect x="169.2" y="189.2" width="5.5" height="4.8" fill="#7a0606"/>
<rect x="174.2" y="189.2" width="5.5" height="4.8" fill="#7a0606"/>
<rect x="179.2" y="189.2" width="5.5" height="4.8" fill="#7a0606"/>
<rect x="184.2" y="189.2" width="5.5" height="4.8" fill="#7a0606"/>
<rect x="189.2" y="189.2" width="5.5" height="4.8" fill="#0c0c0c"/>
<rect x="194.2" y="189.2" width="5.5" height="4.8" fill="#0a6e0a"/>
<rect x="199.2" y="189.2" width="5.5" height="4.8" fill="#0a6e0a"/>
<rect x="204.2" y="189.2" width="5.5" height="4.8" fill="#0a6e0a"/>
<rect x="209.2" y="189.2" width="5.5" height="4.8" fill="#7a0606"/>
<rect x="214.2" y="189.2" width="5.5" height="4.8" fill="#7a0606"/>
<rect x="219.2" y="189.2" width="5.5" height="4.8" fill="#0a6e0a"/>
<rect x="224.2" y="189.2" width="5.5" height="4.8" fill="#0c0c0c"/>
<rect x="229.2" y="189.2" width="5.0" height="4.8" fill="#0a6e0a"/>
<rect x="169.2" y="196.7" width="5.5" height="5.5" fill="#f20000"/>
<rect x="174.2" y="196.7" width="5.5" height="5.5" fill="#0c0c0c"/>
<rect x="179.2" y="196.7" width="5.5" height="5.5" fill="#1ad21a"/>
<rect x="184.2" y="196.7" width="5.5" height="5.5" fill="#0a6e0a"/>
<rect x="189.2" y="196.7" width="5.5" height="5.5" fill="#f20000"/>
<rect x="194.2" y="196.7" width="5.5" height="5.5" fill="#f20000"/>
<rect x="199.2" y="196.7" width="5.5" height="5.5" fill="#0a6e0a"/>
<rect x="204.2" y="196.7" width="5.5" height="5.5" fill="#0c0c0c"/>
<rect x="209.2" y="196.7" width="5.5" height="5.5" fill="#1ad21a"/>
<rect x="214.2" y="196.7" width="5.5" height="5.5" fill="#f20000"/>
<rect x="219.2" y="196.7" width="5.5" height="5.5" fill="#f20000"/>
<rect x="224.2" y="196.7" width="5.5" height="5.5" fill="#0c0c0c"/>
<rect x="229.2" y="196.7" width="5.0" height="5.5" fill="#f20000"/>
<rect x="169.2" y="201.6" width="5.5" height="5.5" fill="#0c0c0c"/>
<rect x="174.2" y="201.6" width="5.5" height="5.5" fill="#0c0c0c"/>
<rect x="179.2" y="201.6" width="5.5" height="5.5" fill="#0a6e0a"/>
<rect x="184.2" y="201.6" width="5.5" height="5.5" fill="#7a0606"/>
<rect x="189.2" y="201.6" width="5.5" height="5.5" fill="#0c0c0c"/>
<rect x="194.2" y="201.6" width="5.5" height="5.5" fill="#0c0c0c"/>
<rect x="199.2" y="201.6" width="5.5" height="5.5" fill="#7a0606"/>
<rect x="204.2" y="201.6" width="5.5" height="5.5" fill="#7a0606"/>
<rect x="209.2" y="201.6" width="5.5" height="5.5" fill="#1ad21a"/>
<rect x="214.2" y="201.6" width="5.5" height="5.5" fill="#0a6e0a"/>
<rect x="219.2" y="201.6" width="5.5" height="5.5" fill="#1ad21a"/>
<rect x="224.2" y="201.6" width="5.5" height="5.5" fill="#7a0606"/>
<rect x="229.2" y="201.6" width="5.0" height="5.5" fill="#0a6e0a"/>
<rect x="169.2" y="206.6" width="5.5" height="5.5" fill="#f20000"/>
<rect x="174.2" y="206.6" width="5.5" height="5.5" fill="#0c0c0c"/>
<rect x="179.2" y="206.6" width="5.5" height="5.5" fill="#0c0c0c"/>
<rect x="184.2" y="206.6" width="5.5" height="5.5" fill="#7a0606"/>
<rect x="189.2" y="206.6" width="5.5" height="5.5" fill="#f20000"/>
<rect x="194.2" y="206.6" width="5.5" height="5.5" fill="#f20000"/>
<rect x="199.2" y="206.6" width="5.5" height="5.5" fill="#0a6e0a"/>
<rect x="204.2" y="206.6" width="5.5" height="5.5" fill="#f20000"/>
<rect x="209.2" y="206.6" width="5.5" height="5.5" fill="#1ad21a"/>
<rect x="214.2" y="206.6" width="5.5" height="5.5" fill="#0c0c0c"/>
<rect x="219.2" y="206.6" width="5.5" height="5.5" fill="#0a6e0a"/>
<rect x="224.2" y="206.6" width="5.5" height="5.5" fill="#f20000"/>
<rect x="229.2" y="206.6" width="5.0" height="5.5" fill="#0a6e0a"/>
<rect x="169.2" y="211.6" width="5.5" height="5.0" fill="#0a6e0a"/>
<rect x="174.2" y="211.6" width="5.5" height="5.0" fill="#0a6e0a"/>
<rect x="179.2" y="211.6" width="5.5" height="5.0" fill="#1ad21a"/>
<rect x="184.2" y="211.6" width="5.5" height="5.0" fill="#0c0c0c"/>
<rect x="189.2" y="211.6" width="5.5" height="5.0" fill="#0a6e0a"/>
<rect x="194.2" y="211.6" width="5.5" height="5.0" fill="#1ad21a"/>
<rect x="199.2" y="211.6" width="5.5" height="5.0" fill="#0a6e0a"/>
<rect x="204.2" y="211.6" width="5.5" height="5.0" fill="#0a6e0a"/>
<rect x="209.2" y="211.6" width="5.5" height="5.0" fill="#1ad21a"/>
<rect x="214.2" y="211.6" width="5.5" height="5.0" fill="#0a6e0a"/>
<rect x="219.2" y="211.6" width="5.5" height="5.0" fill="#0a6e0a"/>
<rect x="224.2" y="211.6" width="5.5" height="5.0" fill="#0a6e0a"/>
<rect x="229.2" y="211.6" width="5.0" height="5.0" fill="#1ad21a"/>
<rect x="169.2" y="220.9" width="5.5" height="5.5" fill="#0a6e0a"/>
<rect x="174.2" y="220.9" width="5.5" height="5.5" fill="#7a0606"/>
<rect x="179.2" y="220.9" width="5.5" height="5.5" fill="#1ad21a"/>
<rect x="184.2" y="220.9" width="5.5" height="5.5" fill="#0c0c0c"/>
<rect x="189.2" y="220.9" width="5.5" height="5.5" fill="#0c0c0c"/>
<rect x="194.2" y="220.9" width="5.5" height="5.5" fill="#0a6e0a"/>
<rect x="199.2" y="220.9" width="5.5" height="5.5" fill="#0a6e0a"/>
<rect x="204.2" y="220.9" width="5.5" height="5.5" fill="#7a0606"/>
<rect x="209.2" y="220.9" width="5.5" height="5.5" fill="#1ad21a"/>
<rect x="214.2" y="220.9" width="5.5" height="5.5" fill="#0a6e0a"/>
<rect x="219.2" y="220.9" width="5.5" height="5.5" fill="#f20000"/>
<rect x="224.2" y="220.9" width="5.5" height="5.5" fill="#f20000"/>
<rect x="229.2" y="220.9" width="5.0" height="5.5" fill="#0c0c0c"/>
<rect x="169.2" y="225.9" width="5.5" height="5.5" fill="#7a0606"/>
<rect x="174.2" y="225.9" width="5.5" height="5.5" fill="#0a6e0a"/>
<rect x="179.2" y="225.9" width="5.5" height="5.5" fill="#1ad21a"/>
<rect x="184.2" y="225.9" width="5.5" height="5.5" fill="#1ad21a"/>
<rect x="189.2" y="225.9" width="5.5" height="5.5" fill="#0c0c0c"/>
<rect x="194.2" y="225.9" width="5.5" height="5.5" fill="#f20000"/>
<rect x="199.2" y="225.9" width="5.5" height="5.5" fill="#1ad21a"/>
<rect x="204.2" y="225.9" width="5.5" height="5.5" fill="#f20000"/>
<rect x="209.2" y="225.9" width="5.5" height="5.5" fill="#1ad21a"/>
<rect x="214.2" y="225.9" width="5.5" height="5.5" fill="#0c0c0c"/>
<rect x="219.2" y="225.9" width="5.5" height="5.5" fill="#0c0c0c"/>
<rect x="224.2" y="225.9" width="5.5" height="5.5" fill="#f20000"/>
<rect x="229.2" y="225.9" width="5.0" height="5.5" fill="#0c0c0c"/>
<rect x="169.2" y="230.8" width="5.5" height="5.5" fill="#0c0c0c"/>
<rect x="174.2" y="230.8" width="5.5" height="5.5" fill="#1ad21a"/>
<rect x="179.2" y="230.8" width="5.5" height="5.5" fill="#0c0c0c"/>
<rect x="184.2" y="230.8" width="5.5" height="5.5" fill="#1ad21a"/>
<rect x="189.2" y="230.8" width="5.5" height="5.5" fill="#f20000"/>
<rect x="194.2" y="230.8" width="5.5" height="5.5" fill="#0a6e0a"/>
<rect x="199.2" y="230.8" width="5.5" height="5.5" fill="#1ad21a"/>
<rect x="204.2" y="230.8" width="5.5" height="5.5" fill="#0c0c0c"/>
<rect x="209.2" y="230.8" width="5.5" height="5.5" fill="#0c0c0c"/>
<rect x="214.2" y="230.8" width="5.5" height="5.5" fill="#1ad21a"/>
<rect x="219.2" y="230.8" width="5.5" height="5.5" fill="#0a6e0a"/>
<rect x="224.2" y="230.8" width="5.5" height="5.5" fill="#0a6e0a"/>
<rect x="229.2" y="230.8" width="5.0" height="5.5" fill="#0a6e0a"/>
<rect x="169.2" y="235.8" width="5.5" height="5.5" fill="#1ad21a"/>
<rect x="174.2" y="235.8" width="5.5" height="5.5" fill="#0c0c0c"/>
<rect x="179.2" y="235.8" width="5.5" height="5.5" fill="#0a6e0a"/>
<rect x="184.2" y="235.8" width="5.5" height="5.5" fill="#0c0c0c"/>
<rect x="189.2" y="235.8" width="5.5" height="5.5" fill="#f20000"/>
<rect x="194.2" y="235.8" width="5.5" height="5.5" fill="#f20000"/>
<rect x="199.2" y="235.8" width="5.5" height="5.5" fill="#7a0606"/>
<rect x="204.2" y="235.8" width="5.5" height="5.5" fill="#7a0606"/>
<rect x="209.2" y="235.8" width="5.5" height="5.5" fill="#1ad21a"/>
<rect x="214.2" y="235.8" width="5.5" height="5.5" fill="#0c0c0c"/>
<rect x="219.2" y="235.8" width="5.5" height="5.5" fill="#1ad21a"/>
<rect x="224.2" y="235.8" width="5.5" height="5.5" fill="#0c0c0c"/>
<rect x="229.2" y="235.8" width="5.0" height="5.5" fill="#0a6e0a"/>
<rect x="169.2" y="240.8" width="5.5" height="5.5" fill="#f20000"/>
<rect x="174.2" y="240.8" width="5.5" height="5.5" fill="#f20000"/>
<rect x="179.2" y="240.8" width="5.5" height="5.5" fill="#1ad21a"/>
<rect x="184.2" y="240.8" width="5.5" height="5.5" fill="#0c0c0c"/>
<rect x="189.2" y="240.8" width="5.5" height="5.5" fill="#0c0c0c"/>
<rect x="194.2" y="240.8" width="5.5" height="5.5" fill="#1ad21a"/>
<rect x="199.2" y="240.8" width="5.5" height="5.5" fill="#0c0c0c"/>
<rect x="204.2" y="240.8" width="5.5" height="5.5" fill="#7a0606"/>
<rect x="209.2" y="240.8" width="5.5" height="5.5" fill="#1ad21a"/>
<rect x="214.2" y="240.8" width="5.5" height="5.5" fill="#0c0c0c"/>
<rect x="219.2" y="240.8" width="5.5" height="5.5" fill="#1ad21a"/>
<rect x="224.2" y="240.8" width="5.5" height="5.5" fill="#f20000"/>
<rect x="229.2" y="240.8" width="5.0" height="5.5" fill="#1ad21a"/>
<rect x="169.2" y="245.7" width="5.5" height="5.5" fill="#1ad21a"/>
<rect x="174.2" y="245.7" width="5.5" height="5.5" fill="#1ad21a"/>
<rect x="179.2" y="245.7" width="5.5" height="5.5" fill="#1ad21a"/>
<rect x="184.2" y="245.7" width="5.5" height="5.5" fill="#1ad21a"/>
<rect x="189.2" y="245.7" width="5.5" height="5.5" fill="#0c0c0c"/>
<rect x="194.2" y="245.7" width="5.5" height="5.5" fill="#1ad21a"/>
<rect x="199.2" y="245.7" width="5.5" height="5.5" fill="#0a6e0a"/>
<rect x="204.2" y="245.7" width="5.5" height="5.5" fill="#0a6e0a"/>
<rect x="209.2" y="245.7" width="5.5" height="5.5" fill="#1ad21a"/>
<rect x="214.2" y="245.7" width="5.5" height="5.5" fill="#0a6e0a"/>
<rect x="219.2" y="245.7" width="5.5" height="5.5" fill="#1ad21a"/>
<rect x="224.2" y="245.7" width="5.5" height="5.5" fill="#0c0c0c"/>
<rect x="229.2" y="245.7" width="5.0" height="5.5" fill="#1ad21a"/>
<rect x="169.2" y="250.7" width="5.5" height="5.5" fill="#0a6e0a"/>
<rect x="174.2" y="250.7" width="5.5" height="5.5" fill="#1ad21a"/>
<rect x="179.2" y="250.7" width="5.5" height="5.5" fill="#0a6e0a"/>
<rect x="184.2" y="250.7" width="5.5" height="5.5" fill="#0a6e0a"/>
<rect x="189.2" y="250.7" width="5.5" height="5.5" fill="#0a6e0a"/>
<rect x="194.2" y="250.7" width="5.5" height="5.5" fill="#1ad21a"/>
<rect x="199.2" y="250.7" width="5.5" height="5.5" fill="#0a6e0a"/>
<rect x="204.2" y="250.7" width="5.5" height="5.5" fill="#1ad21a"/>
<rect x="209.2" y="250.7" width="5.5" height="5.5" fill="#1ad21a"/>
<rect x="214.2" y="250.7" width="5.5" height="5.5" fill="#0a6e0a"/>
<rect x="219.2" y="250.7" width="5.5" height="5.5" fill="#1ad21a"/>
<rect x="224.2" y="250.7" width="5.5" height="5.5" fill="#0a6e0a"/>
<rect x="229.2" y="250.7" width="5.0" height="5.5" fill="#1ad21a"/>
<rect x="169.2" y="255.7" width="5.5" height="5.5" fill="#1ad21a"/>
<rect x="174.2" y="255.7" width="5.5" height="5.5" fill="#1ad21a"/>
<rect x="179.2" y="255.7" width="5.5" height="5.5" fill="#0a6e0a"/>
<rect x="184.2" y="255.7" width="5.5" height="5.5" fill="#1ad21a"/>
<rect x="189.2" y="255.7" width="5.5" height="5.5" fill="#0a6e0a"/>
<rect x="194.2" y="255.7" width="5.5" height="5.5" fill="#1ad21a"/>
<rect x="199.2" y="255.7" width="5.5" height="5.5" fill="#0c0c0c"/>
<rect x="204.2" y="255.7" width="5.5" height="5.5" fill="#1ad21a"/>
<rect x="209.2" y="255.7" width="5.5" height="5.5" fill="#0c0c0c"/>
<rect x="214.2" y="255.7" width="5.5" height="5.5" fill="#1ad21a"/>
<rect x="219.2" y="255.7" width="5.5" height="5.5" fill="#0a6e0a"/>
<rect x="224.2" y="255.7" width="5.5" height="5.5" fill="#0c0c0c"/>
<rect x="229.2" y="255.7" width="5.0" height="5.5" fill="#1ad21a"/>
<rect x="169.2" y="260.6" width="5.5" height="5.5" fill="#f20000"/>
<rect x="174.2" y="260.6" width="5.5" height="5.5" fill="#7a0606"/>
<rect x="179.2" y="260.6" width="5.5" height="5.5" fill="#0c0c0c"/>
<rect x="184.2" y="260.6" width="5.5" height="5.5" fill="#f20000"/>
<rect x="189.2" y="260.6" width="5.5" height="5.5" fill="#f20000"/>
<rect x="194.2" y="260.6" width="5.5" height="5.5" fill="#f20000"/>
<rect x="199.2" y="260.6" width="5.5" height="5.5" fill="#7a0606"/>
<rect x="204.2" y="260.6" width="5.5" height="5.5" fill="#f20000"/>
<rect x="209.2" y="260.6" width="5.5" height="5.5" fill="#0c0c0c"/>
<rect x="214.2" y="260.6" width="5.5" height="5.5" fill="#f20000"/>
<rect x="219.2" y="260.6" width="5.5" height="5.5" fill="#f20000"/>
<rect x="224.2" y="260.6" width="5.5" height="5.5" fill="#7a0606"/>
<rect x="229.2" y="260.6" width="5.0" height="5.5" fill="#f20000"/>
<rect x="169.2" y="265.6" width="5.5" height="5.5" fill="#f20000"/>
<rect x="174.2" y="265.6" width="5.5" height="5.5" fill="#f20000"/>
<rect x="179.2" y="265.6" width="5.5" height="5.5" fill="#f20000"/>
<rect x="184.2" y="265.6" width="5.5" height="5.5" fill="#f20000"/>
<rect x="189.2" y="265.6" width="5.5" height="5.5" fill="#f20000"/>
<rect x="194.2" y="265.6" width="5.5" height="5.5" fill="#f20000"/>
<rect x="199.2" y="265.6" width="5.5" height="5.5" fill="#f20000"/>
<rect x="204.2" y="265.6" width="5.5" height="5.5" fill="#f20000"/>
<rect x="209.2" y="265.6" width="5.5" height="5.5" fill="#f20000"/>
<rect x="214.2" y="265.6" width="5.5" height="5.5" fill="#f20000"/>
<rect x="219.2" y="265.6" width="5.5" height="5.5" fill="#f20000"/>
<rect x="224.2" y="265.6" width="5.5" height="5.5" fill="#f20000"/>
<rect x="229.2" y="265.6" width="5.0" height="5.5" fill="#f20000"/>
<rect x="169.2" y="270.6" width="5.5" height="5.5" fill="#0a6e0a"/>
<rect x="174.2" y="270.6" width="5.5" height="5.5" fill="#1ad21a"/>
<rect x="179.2" y="270.6" width="5.5" height="5.5" fill="#1ad21a"/>
<rect x="184.2" y="270.6" width="5.5" height="5.5" fill="#0a6e0a"/>
<rect x="189.2" y="270.6" width="5.5" height="5.5" fill="#1ad21a"/>
<rect x="194.2" y="270.6" width="5.5" height="5.5" fill="#1ad21a"/>
<rect x="199.2" y="270.6" width="5.5" height="5.5" fill="#0a6e0a"/>
<rect x="204.2" y="270.6" width="5.5" height="5.5" fill="#1ad21a"/>
<rect x="209.2" y="270.6" width="5.5" height="5.5" fill="#0c0c0c"/>
<rect x="214.2" y="270.6" width="5.5" height="5.5" fill="#0c0c0c"/>
<rect x="219.2" y="270.6" width="5.5" height="5.5" fill="#1ad21a"/>
<rect x="224.2" y="270.6" width="5.5" height="5.5" fill="#0a6e0a"/>
<rect x="229.2" y="270.6" width="5.0" height="5.5" fill="#1ad21a"/>
<rect x="169.2" y="275.5" width="5.5" height="5.5" fill="#f20000"/>
<rect x="174.2" y="275.5" width="5.5" height="5.5" fill="#7a0606"/>
<rect x="179.2" y="275.5" width="5.5" height="5.5" fill="#0c0c0c"/>
<rect x="184.2" y="275.5" width="5.5" height="5.5" fill="#f20000"/>
<rect x="189.2" y="275.5" width="5.5" height="5.5" fill="#f20000"/>
<rect x="194.2" y="275.5" width="5.5" height="5.5" fill="#7a0606"/>
<rect x="199.2" y="275.5" width="5.5" height="5.5" fill="#f20000"/>
<rect x="204.2" y="275.5" width="5.5" height="5.5" fill="#0c0c0c"/>
<rect x="209.2" y="275.5" width="5.5" height="5.5" fill="#7a0606"/>
<rect x="214.2" y="275.5" width="5.5" height="5.5" fill="#0c0c0c"/>
<rect x="219.2" y="275.5" width="5.5" height="5.5" fill="#f20000"/>
<rect x="224.2" y="275.5" width="5.5" height="5.5" fill="#7a0606"/>
<rect x="229.2" y="275.5" width="5.0" height="5.5" fill="#f20000"/>
<rect x="169.2" y="280.5" width="5.5" height="5.5" fill="#f20000"/>
<rect x="174.2" y="280.5" width="5.5" height="5.5" fill="#0c0c0c"/>
<rect x="179.2" y="280.5" width="5.5" height="5.5" fill="#f20000"/>
<rect x="184.2" y="280.5" width="5.5" height="5.5" fill="#7a0606"/>
<rect x="189.2" y="280.5" width="5.5" height="5.5" fill="#0c0c0c"/>
<rect x="194.2" y="280.5" width="5.5" height="5.5" fill="#1ad21a"/>
<rect x="199.2" y="280.5" width="5.5" height="5.5" fill="#f20000"/>
<rect x="204.2" y="280.5" width="5.5" height="5.5" fill="#0c0c0c"/>
<rect x="209.2" y="280.5" width="5.5" height="5.5" fill="#f20000"/>
<rect x="214.2" y="280.5" width="5.5" height="5.5" fill="#f20000"/>
<rect x="219.2" y="280.5" width="5.5" height="5.5" fill="#0c0c0c"/>
<rect x="224.2" y="280.5" width="5.5" height="5.5" fill="#7a0606"/>
<rect x="229.2" y="280.5" width="5.0" height="5.5" fill="#f20000"/>
<rect x="169.2" y="285.5" width="5.5" height="5.5" fill="#f20000"/>
<rect x="174.2" y="285.5" width="5.5" height="5.5" fill="#f20000"/>
<rect x="179.2" y="285.5" width="5.5" height="5.5" fill="#f20000"/>
<rect x="184.2" y="285.5" width="5.5" height="5.5" fill="#0a6e0a"/>
<rect x="189.2" y="285.5" width="5.5" height="5.5" fill="#f20000"/>
<rect x="194.2" y="285.5" width="5.5" height="5.5" fill="#f20000"/>
<rect x="199.2" y="285.5" width="5.5" height="5.5" fill="#0a6e0a"/>
<rect x="204.2" y="285.5" width="5.5" height="5.5" fill="#f20000"/>
<rect x="209.2" y="285.5" width="5.5" height="5.5" fill="#f20000"/>
<rect x="214.2" y="285.5" width="5.5" height="5.5" fill="#f20000"/>
<rect x="219.2" y="285.5" width="5.5" height="5.5" fill="#f20000"/>
<rect x="224.2" y="285.5" width="5.5" height="5.5" fill="#f20000"/>
<rect x="229.2" y="285.5" width="5.0" height="5.5" fill="#f20000"/>
<rect x="169.2" y="290.4" width="5.5" height="5.0" fill="#1ad21a"/>
<rect x="174.2" y="290.4" width="5.5" height="5.0" fill="#1ad21a"/>
<rect x="179.2" y="290.4" width="5.5" height="5.0" fill="#1ad21a"/>
<rect x="184.2" y="290.4" width="5.5" height="5.0" fill="#0a6e0a"/>
<rect x="189.2" y="290.4" width="5.5" height="5.0" fill="#1ad21a"/>
<rect x="194.2" y="290.4" width="5.5" height="5.0" fill="#1ad21a"/>
<rect x="199.2" y="290.4" width="5.5" height="5.0" fill="#0a6e0a"/>
<rect x="204.2" y="290.4" width="5.5" height="5.0" fill="#1ad21a"/>
<rect x="209.2" y="290.4" width="5.5" height="5.0" fill="#1ad21a"/>
<rect x="214.2" y="290.4" width="5.5" height="5.0" fill="#1ad21a"/>
<rect x="219.2" y="290.4" width="5.5" height="5.0" fill="#1ad21a"/>
<rect x="224.2" y="290.4" width="5.5" height="5.0" fill="#1ad21a"/>
<rect x="229.2" y="290.4" width="5.0" height="5.0" fill="#1ad21a"/>
<rect x="169.2" y="298.7" width="5.5" height="5.4" fill="#f20000"/>
<rect x="174.2" y="298.7" width="5.5" height="5.4" fill="#7a0606"/>
<rect x="179.2" y="298.7" width="5.5" height="5.4" fill="#f20000"/>
<rect x="184.2" y="298.7" width="5.5" height="5.4" fill="#f20000"/>
<rect x="189.2" y="298.7" width="5.5" height="5.4" fill="#f20000"/>
<rect x="194.2" y="298.7" width="5.5" height="5.4" fill="#0a6e0a"/>
<rect x="199.2" y="298.7" width="5.5" height="5.4" fill="#f20000"/>
<rect x="204.2" y="298.7" width="5.5" height="5.4" fill="#7a0606"/>
<rect x="209.2" y="298.7" width="5.5" height="5.4" fill="#f20000"/>
<rect x="214.2" y="298.7" width="5.5" height="5.4" fill="#f20000"/>
<rect x="219.2" y="298.7" width="5.5" height="5.4" fill="#f20000"/>
<rect x="224.2" y="298.7" width="5.5" height="5.4" fill="#f20000"/>
<rect x="229.2" y="298.7" width="5.0" height="5.4" fill="#f20000"/>
<rect x="169.2" y="303.6" width="5.5" height="5.4" fill="#0a6e0a"/>
<rect x="174.2" y="303.6" width="5.5" height="5.4" fill="#0c0c0c"/>
<rect x="179.2" y="303.6" width="5.5" height="5.4" fill="#0a6e0a"/>
<rect x="184.2" y="303.6" width="5.5" height="5.4" fill="#1ad21a"/>
<rect x="189.2" y="303.6" width="5.5" height="5.4" fill="#0a6e0a"/>
<rect x="194.2" y="303.6" width="5.5" height="5.4" fill="#0c0c0c"/>
<rect x="199.2" y="303.6" width="5.5" height="5.4" fill="#1ad21a"/>
<rect x="204.2" y="303.6" width="5.5" height="5.4" fill="#0c0c0c"/>
<rect x="209.2" y="303.6" width="5.5" height="5.4" fill="#1ad21a"/>
<rect x="214.2" y="303.6" width="5.5" height="5.4" fill="#0c0c0c"/>
<rect x="219.2" y="303.6" width="5.5" height="5.4" fill="#1ad21a"/>
<rect x="224.2" y="303.6" width="5.5" height="5.4" fill="#0c0c0c"/>
<rect x="229.2" y="303.6" width="5.0" height="5.4" fill="#0a6e0a"/>
<rect x="169.2" y="308.6" width="5.5" height="5.4" fill="#0c0c0c"/>
<rect x="174.2" y="308.6" width="5.5" height="5.4" fill="#1ad21a"/>
<rect x="179.2" y="308.6" width="5.5" height="5.4" fill="#0a6e0a"/>
<rect x="184.2" y="308.6" width="5.5" height="5.4" fill="#0a6e0a"/>
<rect x="189.2" y="308.6" width="5.5" height="5.4" fill="#0a6e0a"/>
<rect x="194.2" y="308.6" width="5.5" height="5.4" fill="#0c0c0c"/>
<rect x="199.2" y="308.6" width="5.5" height="5.4" fill="#1ad21a"/>
<rect x="204.2" y="308.6" width="5.5" height="5.4" fill="#0c0c0c"/>
<rect x="209.2" y="308.6" width="5.5" height="5.4" fill="#1ad21a"/>
<rect x="214.2" y="308.6" width="5.5" height="5.4" fill="#0c0c0c"/>
<rect x="219.2" y="308.6" width="5.5" height="5.4" fill="#1ad21a"/>
<rect x="224.2" y="308.6" width="5.5" height="5.4" fill="#0a6e0a"/>
<rect x="229.2" y="308.6" width="5.0" height="5.4" fill="#1ad21a"/>
<rect x="169.2" y="313.5" width="5.5" height="5.4" fill="#0a6e0a"/>
<rect x="174.2" y="313.5" width="5.5" height="5.4" fill="#f20000"/>
<rect x="179.2" y="313.5" width="5.5" height="5.4" fill="#0a6e0a"/>
<rect x="184.2" y="313.5" width="5.5" height="5.4" fill="#0c0c0c"/>
<rect x="189.2" y="313.5" width="5.5" height="5.4" fill="#f20000"/>
<rect x="194.2" y="313.5" width="5.5" height="5.4" fill="#f20000"/>
<rect x="199.2" y="313.5" width="5.5" height="5.4" fill="#1ad21a"/>
<rect x="204.2" y="313.5" width="5.5" height="5.4" fill="#0c0c0c"/>
<rect x="209.2" y="313.5" width="5.5" height="5.4" fill="#1ad21a"/>
<rect x="214.2" y="313.5" width="5.5" height="5.4" fill="#f20000"/>
<rect x="219.2" y="313.5" width="5.5" height="5.4" fill="#f20000"/>
<rect x="224.2" y="313.5" width="5.5" height="5.4" fill="#f20000"/>
<rect x="229.2" y="313.5" width="5.0" height="5.4" fill="#f20000"/>
<rect x="169.2" y="318.5" width="5.5" height="5.4" fill="#0a6e0a"/>
<rect x="174.2" y="318.5" width="5.5" height="5.4" fill="#0a6e0a"/>
<rect x="179.2" y="318.5" width="5.5" height="5.4" fill="#0a6e0a"/>
<rect x="184.2" y="318.5" width="5.5" height="5.4" fill="#0c0c0c"/>
<rect x="189.2" y="318.5" width="5.5" height="5.4" fill="#7a0606"/>
<rect x="194.2" y="318.5" width="5.5" height="5.4" fill="#0c0c0c"/>
<rect x="199.2" y="318.5" width="5.5" height="5.4" fill="#0a6e0a"/>
<rect x="204.2" y="318.5" width="5.5" height="5.4" fill="#0c0c0c"/>
<rect x="209.2" y="318.5" width="5.5" height="5.4" fill="#1ad21a"/>
<rect x="214.2" y="318.5" width="5.5" height="5.4" fill="#0a6e0a"/>
<rect x="219.2" y="318.5" width="5.5" height="5.4" fill="#0a6e0a"/>
<rect x="224.2" y="318.5" width="5.5" height="5.4" fill="#0c0c0c"/>
<rect x="229.2" y="318.5" width="5.0" height="5.4" fill="#0a6e0a"/>
<rect x="169.2" y="323.4" width="5.5" height="5.4" fill="#f20000"/>
<rect x="174.2" y="323.4" width="5.5" height="5.4" fill="#f20000"/>
<rect x="179.2" y="323.4" width="5.5" height="5.4" fill="#7a0606"/>
<rect x="184.2" y="323.4" width="5.5" height="5.4" fill="#7a0606"/>
<rect x="189.2" y="323.4" width="5.5" height="5.4" fill="#f20000"/>
<rect x="194.2" y="323.4" width="5.5" height="5.4" fill="#0c0c0c"/>
<rect x="199.2" y="323.4" width="5.5" height="5.4" fill="#f20000"/>
<rect x="204.2" y="323.4" width="5.5" height="5.4" fill="#f20000"/>
<rect x="209.2" y="323.4" width="5.5" height="5.4" fill="#0c0c0c"/>
<rect x="214.2" y="323.4" width="5.5" height="5.4" fill="#f20000"/>
<rect x="219.2" y="323.4" width="5.5" height="5.4" fill="#0c0c0c"/>
<rect x="224.2" y="323.4" width="5.5" height="5.4" fill="#f20000"/>
<rect x="229.2" y="323.4" width="5.0" height="5.4" fill="#0a6e0a"/>
<rect x="169.2" y="328.4" width="5.5" height="4.9" fill="#0a6e0a"/>
<rect x="174.2" y="328.4" width="5.5" height="4.9" fill="#0c0c0c"/>
<rect x="179.2" y="328.4" width="5.5" height="4.9" fill="#0a6e0a"/>
<rect x="184.2" y="328.4" width="5.5" height="4.9" fill="#1ad21a"/>
<rect x="189.2" y="328.4" width="5.5" height="4.9" fill="#7a0606"/>
<rect x="194.2" y="328.4" width="5.5" height="4.9" fill="#0c0c0c"/>
<rect x="199.2" y="328.4" width="5.5" height="4.9" fill="#1ad21a"/>
<rect x="204.2" y="328.4" width="5.5" height="4.9" fill="#7a0606"/>
<rect x="209.2" y="328.4" width="5.5" height="4.9" fill="#0a6e0a"/>
<rect x="214.2" y="328.4" width="5.5" height="4.9" fill="#0a6e0a"/>
<rect x="219.2" y="328.4" width="5.5" height="4.9" fill="#0c0c0c"/>
<rect x="224.2" y="328.4" width="5.5" height="4.9" fill="#0a6e0a"/>
<rect x="229.2" y="328.4" width="5.0" height="4.9" fill="#1ad21a"/>
<rect x="286.0" y="51.8" width="5.5" height="5.6" fill="#0a6e0a"/>
<rect x="291.0" y="51.8" width="5.5" height="5.6" fill="#f20000"/>
<rect x="295.9" y="51.8" width="5.5" height="5.6" fill="#1ad21a"/>
<rect x="300.9" y="51.8" width="5.5" height="5.6" fill="#0a6e0a"/>
<rect x="305.8" y="51.8" width="5.5" height="5.6" fill="#f20000"/>
<rect x="310.8" y="51.8" width="5.5" height="5.6" fill="#0c0c0c"/>
<rect x="315.7" y="51.8" width="5.5" height="5.6" fill="#1ad21a"/>
<rect x="320.7" y="51.8" width="5.5" height="5.6" fill="#0c0c0c"/>
<rect x="325.6" y="51.8" width="5.5" height="5.6" fill="#f20000"/>
<rect x="330.6" y="51.8" width="5.5" height="5.6" fill="#1ad21a"/>
<rect x="335.5" y="51.8" width="5.5" height="5.6" fill="#0c0c0c"/>
<rect x="340.5" y="51.8" width="5.5" height="5.6" fill="#0a6e0a"/>
<rect x="345.4" y="51.8" width="5.0" height="5.6" fill="#f20000"/>
<rect x="286.0" y="56.9" width="5.5" height="5.6" fill="#0c0c0c"/>
<rect x="291.0" y="56.9" width="5.5" height="5.6" fill="#0c0c0c"/>
<rect x="295.9" y="56.9" width="5.5" height="5.6" fill="#1ad21a"/>
<rect x="300.9" y="56.9" width="5.5" height="5.6" fill="#0c0c0c"/>
<rect x="305.8" y="56.9" width="5.5" height="5.6" fill="#f20000"/>
<rect x="310.8" y="56.9" width="5.5" height="5.6" fill="#0c0c0c"/>
<rect x="315.7" y="56.9" width="5.5" height="5.6" fill="#1ad21a"/>
<rect x="320.7" y="56.9" width="5.5" height="5.6" fill="#0c0c0c"/>
<rect x="325.6" y="56.9" width="5.5" height="5.6" fill="#0a6e0a"/>
<rect x="330.6" y="56.9" width="5.5" height="5.6" fill="#1ad21a"/>
<rect x="335.5" y="56.9" width="5.5" height="5.6" fill="#7a0606"/>
<rect x="340.5" y="56.9" width="5.5" height="5.6" fill="#0a6e0a"/>
<rect x="345.4" y="56.9" width="5.0" height="5.6" fill="#0c0c0c"/>
<rect x="286.0" y="62.0" width="5.5" height="5.1" fill="#0c0c0c"/>
<rect x="291.0" y="62.0" width="5.5" height="5.1" fill="#7a0606"/>
<rect x="295.9" y="62.0" width="5.5" height="5.1" fill="#1ad21a"/>
<rect x="300.9" y="62.0" width="5.5" height="5.1" fill="#1ad21a"/>
<rect x="305.8" y="62.0" width="5.5" height="5.1" fill="#1ad21a"/>
<rect x="310.8" y="62.0" width="5.5" height="5.1" fill="#0c0c0c"/>
<rect x="315.7" y="62.0" width="5.5" height="5.1" fill="#1ad21a"/>
<rect x="320.7" y="62.0" width="5.5" height="5.1" fill="#0c0c0c"/>
<rect x="325.6" y="62.0" width="5.5" height="5.1" fill="#0c0c0c"/>
<rect x="330.6" y="62.0" width="5.5" height="5.1" fill="#1ad21a"/>
<rect x="335.5" y="62.0" width="5.5" height="5.1" fill="#1ad21a"/>
<rect x="340.5" y="62.0" width="5.5" height="5.1" fill="#0c0c0c"/>
<rect x="345.4" y="62.0" width="5.0" height="5.1" fill="#f20000"/>
<rect x="286.0" y="68.8" width="5.5" height="5.8" fill="#0a6e0a"/>
<rect x="291.0" y="68.8" width="5.5" height="5.8" fill="#f20000"/>
<rect x="295.9" y="68.8" width="5.5" height="5.8" fill="#1ad21a"/>
<rect x="300.9" y="68.8" width="5.5" height="5.8" fill="#0a6e0a"/>
<rect x="305.8" y="68.8" width="5.5" height="5.8" fill="#0a6e0a"/>
<rect x="310.8" y="68.8" width="5.5" height="5.8" fill="#7a0606"/>
<rect x="315.7" y="68.8" width="5.5" height="5.8" fill="#1ad21a"/>
<rect x="320.7" y="68.8" width="5.5" height="5.8" fill="#7a0606"/>
<rect x="325.6" y="68.8" width="5.5" height="5.8" fill="#0a6e0a"/>
<rect x="330.6" y="68.8" width="5.5" height="5.8" fill="#1ad21a"/>
<rect x="335.5" y="68.8" width="5.5" height="5.8" fill="#0c0c0c"/>
<rect x="340.5" y="68.8" width="5.5" height="5.8" fill="#f20000"/>
<rect x="345.4" y="68.8" width="5.0" height="5.8" fill="#0a6e0a"/>
<rect x="286.0" y="74.0" width="5.5" height="5.8" fill="#1ad21a"/>
<rect x="291.0" y="74.0" width="5.5" height="5.8" fill="#0c0c0c"/>
<rect x="295.9" y="74.0" width="5.5" height="5.8" fill="#1ad21a"/>
<rect x="300.9" y="74.0" width="5.5" height="5.8" fill="#1ad21a"/>
<rect x="305.8" y="74.0" width="5.5" height="5.8" fill="#1ad21a"/>
<rect x="310.8" y="74.0" width="5.5" height="5.8" fill="#0c0c0c"/>
<rect x="315.7" y="74.0" width="5.5" height="5.8" fill="#1ad21a"/>
<rect x="320.7" y="74.0" width="5.5" height="5.8" fill="#0c0c0c"/>
<rect x="325.6" y="74.0" width="5.5" height="5.8" fill="#1ad21a"/>
<rect x="330.6" y="74.0" width="5.5" height="5.8" fill="#1ad21a"/>
<rect x="335.5" y="74.0" width="5.5" height="5.8" fill="#0a6e0a"/>
<rect x="340.5" y="74.0" width="5.5" height="5.8" fill="#0c0c0c"/>
<rect x="345.4" y="74.0" width="5.0" height="5.8" fill="#f20000"/>
<rect x="286.0" y="79.3" width="5.5" height="5.8" fill="#0a6e0a"/>
<rect x="291.0" y="79.3" width="5.5" height="5.8" fill="#f20000"/>
<rect x="295.9" y="79.3" width="5.5" height="5.8" fill="#1ad21a"/>
<rect x="300.9" y="79.3" width="5.5" height="5.8" fill="#0c0c0c"/>
<rect x="305.8" y="79.3" width="5.5" height="5.8" fill="#0a6e0a"/>
<rect x="310.8" y="79.3" width="5.5" height="5.8" fill="#0a6e0a"/>
<rect x="315.7" y="79.3" width="5.5" height="5.8" fill="#1ad21a"/>
<rect x="320.7" y="79.3" width="5.5" height="5.8" fill="#0c0c0c"/>
<rect x="325.6" y="79.3" width="5.5" height="5.8" fill="#1ad21a"/>
<rect x="330.6" y="79.3" width="5.5" height="5.8" fill="#0c0c0c"/>
<rect x="335.5" y="79.3" width="5.5" height="5.8" fill="#1ad21a"/>
<rect x="340.5" y="79.3" width="5.5" height="5.8" fill="#0a6e0a"/>
<rect x="345.4" y="79.3" width="5.0" height="5.8" fill="#0c0c0c"/>
<rect x="286.0" y="84.6" width="5.5" height="5.8" fill="#7a0606"/>
<rect x="291.0" y="84.6" width="5.5" height="5.8" fill="#0c0c0c"/>
<rect x="295.9" y="84.6" width="5.5" height="5.8" fill="#f20000"/>
<rect x="300.9" y="84.6" width="5.5" height="5.8" fill="#0c0c0c"/>
<rect x="305.8" y="84.6" width="5.5" height="5.8" fill="#1ad21a"/>
<rect x="310.8" y="84.6" width="5.5" height="5.8" fill="#f20000"/>
<rect x="315.7" y="84.6" width="5.5" height="5.8" fill="#f20000"/>
<rect x="320.7" y="84.6" width="5.5" height="5.8" fill="#f20000"/>
<rect x="325.6" y="84.6" width="5.5" height="5.8" fill="#7a0606"/>
<rect x="330.6" y="84.6" width="5.5" height="5.8" fill="#1ad21a"/>
<rect x="335.5" y="84.6" width="5.5" height="5.8" fill="#0a6e0a"/>
<rect x="340.5" y="84.6" width="5.5" height="5.8" fill="#0c0c0c"/>
<rect x="345.4" y="84.6" width="5.0" height="5.8" fill="#f20000"/>
<rect x="286.0" y="89.9" width="5.5" height="5.8" fill="#0c0c0c"/>
<rect x="291.0" y="89.9" width="5.5" height="5.8" fill="#0a6e0a"/>
<rect x="295.9" y="89.9" width="5.5" height="5.8" fill="#1ad21a"/>
<rect x="300.9" y="89.9" width="5.5" height="5.8" fill="#0c0c0c"/>
<rect x="305.8" y="89.9" width="5.5" height="5.8" fill="#1ad21a"/>
<rect x="310.8" y="89.9" width="5.5" height="5.8" fill="#f20000"/>
<rect x="315.7" y="89.9" width="5.5" height="5.8" fill="#f20000"/>
<rect x="320.7" y="89.9" width="5.5" height="5.8" fill="#7a0606"/>
<rect x="325.6" y="89.9" width="5.5" height="5.8" fill="#0c0c0c"/>
<rect x="330.6" y="89.9" width="5.5" height="5.8" fill="#1ad21a"/>
<rect x="335.5" y="89.9" width="5.5" height="5.8" fill="#0a6e0a"/>
<rect x="340.5" y="89.9" width="5.5" height="5.8" fill="#0a6e0a"/>
<rect x="345.4" y="89.9" width="5.0" height="5.8" fill="#f20000"/>
<rect x="286.0" y="95.2" width="5.5" height="5.8" fill="#1ad21a"/>
<rect x="291.0" y="95.2" width="5.5" height="5.8" fill="#f20000"/>
<rect x="295.9" y="95.2" width="5.5" height="5.8" fill="#1ad21a"/>
<rect x="300.9" y="95.2" width="5.5" height="5.8" fill="#0a6e0a"/>
<rect x="305.8" y="95.2" width="5.5" height="5.8" fill="#0c0c0c"/>
<rect x="310.8" y="95.2" width="5.5" height="5.8" fill="#f20000"/>
<rect x="315.7" y="95.2" width="5.5" height="5.8" fill="#1ad21a"/>
<rect x="320.7" y="95.2" width="5.5" height="5.8" fill="#f20000"/>
<rect x="325.6" y="95.2" width="5.5" height="5.8" fill="#1ad21a"/>
<rect x="330.6" y="95.2" width="5.5" height="5.8" fill="#1ad21a"/>
<rect x="335.5" y="95.2" width="5.5" height="5.8" fill="#1ad21a"/>
<rect x="340.5" y="95.2" width="5.5" height="5.8" fill="#0a6e0a"/>
<rect x="345.4" y="95.2" width="5.0" height="5.8" fill="#f20000"/>
<rect x="286.0" y="100.4" width="5.5" height="5.8" fill="#1ad21a"/>
<rect x="291.0" y="100.4" width="5.5" height="5.8" fill="#0c0c0c"/>
<rect x="295.9" y="100.4" width="5.5" height="5.8" fill="#1ad21a"/>
<rect x="300.9" y="100.4" width="5.5" height="5.8" fill="#0c0c0c"/>
<rect x="305.8" y="100.4" width="5.5" height="5.8" fill="#1ad21a"/>
<rect x="310.8" y="100.4" width="5.5" height="5.8" fill="#7a0606"/>
<rect x="315.7" y="100.4" width="5.5" height="5.8" fill="#1ad21a"/>
<rect x="320.7" y="100.4" width="5.5" height="5.8" fill="#0c0c0c"/>
<rect x="325.6" y="100.4" width="5.5" height="5.8" fill="#0c0c0c"/>
<rect x="330.6" y="100.4" width="5.5" height="5.8" fill="#0c0c0c"/>
<rect x="335.5" y="100.4" width="5.5" height="5.8" fill="#0c0c0c"/>
<rect x="340.5" y="100.4" width="5.5" height="5.8" fill="#7a0606"/>
<rect x="345.4" y="100.4" width="5.0" height="5.8" fill="#0a6e0a"/>
<rect x="286.0" y="105.7" width="5.5" height="5.3" fill="#0a6e0a"/>
<rect x="291.0" y="105.7" width="5.5" height="5.3" fill="#0c0c0c"/>
<rect x="295.9" y="105.7" width="5.5" height="5.3" fill="#0c0c0c"/>
<rect x="300.9" y="105.7" width="5.5" height="5.3" fill="#0c0c0c"/>
<rect x="305.8" y="105.7" width="5.5" height="5.3" fill="#7a0606"/>
<rect x="310.8" y="105.7" width="5.5" height="5.3" fill="#f20000"/>
<rect x="315.7" y="105.7" width="5.5" height="5.3" fill="#0c0c0c"/>
<rect x="320.7" y="105.7" width="5.5" height="5.3" fill="#f20000"/>
<rect x="325.6" y="105.7" width="5.5" height="5.3" fill="#7a0606"/>
<rect x="330.6" y="105.7" width="5.5" height="5.3" fill="#0c0c0c"/>
<rect x="335.5" y="105.7" width="5.5" height="5.3" fill="#7a0606"/>
<rect x="340.5" y="105.7" width="5.5" height="5.3" fill="#f20000"/>
<rect x="345.4" y="105.7" width="5.0" height="5.3" fill="#0c0c0c"/>
<rect x="286.0" y="113.7" width="5.5" height="5.5" fill="#0a6e0a"/>
<rect x="291.0" y="113.7" width="5.5" height="5.5" fill="#0c0c0c"/>
<rect x="295.9" y="113.7" width="5.5" height="5.5" fill="#1ad21a"/>
<rect x="300.9" y="113.7" width="5.5" height="5.5" fill="#0a6e0a"/>
<rect x="305.8" y="113.7" width="5.5" height="5.5" fill="#1ad21a"/>
<rect x="310.8" y="113.7" width="5.5" height="5.5" fill="#0c0c0c"/>
<rect x="315.7" y="113.7" width="5.5" height="5.5" fill="#1ad21a"/>
<rect x="320.7" y="113.7" width="5.5" height="5.5" fill="#0c0c0c"/>
<rect x="325.6" y="113.7" width="5.5" height="5.5" fill="#0a6e0a"/>
<rect x="330.6" y="113.7" width="5.5" height="5.5" fill="#0a6e0a"/>
<rect x="335.5" y="113.7" width="5.5" height="5.5" fill="#0a6e0a"/>
<rect x="340.5" y="113.7" width="5.5" height="5.5" fill="#0a6e0a"/>
<rect x="345.4" y="113.7" width="5.0" height="5.5" fill="#0a6e0a"/>
<rect x="286.0" y="118.7" width="5.5" height="5.5" fill="#0a6e0a"/>
<rect x="291.0" y="118.7" width="5.5" height="5.5" fill="#0c0c0c"/>
<rect x="295.9" y="118.7" width="5.5" height="5.5" fill="#1ad21a"/>
<rect x="300.9" y="118.7" width="5.5" height="5.5" fill="#0c0c0c"/>
<rect x="305.8" y="118.7" width="5.5" height="5.5" fill="#1ad21a"/>
<rect x="310.8" y="118.7" width="5.5" height="5.5" fill="#0a6e0a"/>
<rect x="315.7" y="118.7" width="5.5" height="5.5" fill="#0a6e0a"/>
<rect x="320.7" y="118.7" width="5.5" height="5.5" fill="#0c0c0c"/>
<rect x="325.6" y="118.7" width="5.5" height="5.5" fill="#7a0606"/>
<rect x="330.6" y="118.7" width="5.5" height="5.5" fill="#f20000"/>
<rect x="335.5" y="118.7" width="5.5" height="5.5" fill="#7a0606"/>
<rect x="340.5" y="118.7" width="5.5" height="5.5" fill="#0c0c0c"/>
<rect x="345.4" y="118.7" width="5.0" height="5.5" fill="#0a6e0a"/>
<rect x="286.0" y="123.7" width="5.5" height="5.5" fill="#0a6e0a"/>
<rect x="291.0" y="123.7" width="5.5" height="5.5" fill="#0c0c0c"/>
<rect x="295.9" y="123.7" width="5.5" height="5.5" fill="#1ad21a"/>
<rect x="300.9" y="123.7" width="5.5" height="5.5" fill="#0c0c0c"/>
<rect x="305.8" y="123.7" width="5.5" height="5.5" fill="#0c0c0c"/>
<rect x="310.8" y="123.7" width="5.5" height="5.5" fill="#0a6e0a"/>
<rect x="315.7" y="123.7" width="5.5" height="5.5" fill="#0a6e0a"/>
<rect x="320.7" y="123.7" width="5.5" height="5.5" fill="#7a0606"/>
<rect x="325.6" y="123.7" width="5.5" height="5.5" fill="#7a0606"/>
<rect x="330.6" y="123.7" width="5.5" height="5.5" fill="#0c0c0c"/>
<rect x="335.5" y="123.7" width="5.5" height="5.5" fill="#0a6e0a"/>
<rect x="340.5" y="123.7" width="5.5" height="5.5" fill="#0c0c0c"/>
<rect x="345.4" y="123.7" width="5.0" height="5.5" fill="#0a6e0a"/>
<rect x="286.0" y="128.7" width="5.5" height="5.0" fill="#0a6e0a"/>
<rect x="291.0" y="128.7" width="5.5" height="5.0" fill="#7a0606"/>
<rect x="295.9" y="128.7" width="5.5" height="5.0" fill="#1ad21a"/>
<rect x="300.9" y="128.7" width="5.5" height="5.0" fill="#0c0c0c"/>
<rect x="305.8" y="128.7" width="5.5" height="5.0" fill="#0a6e0a"/>
<rect x="310.8" y="128.7" width="5.5" height="5.0" fill="#0c0c0c"/>
<rect x="315.7" y="128.7" width="5.5" height="5.0" fill="#0a6e0a"/>
<rect x="320.7" y="128.7" width="5.5" height="5.0" fill="#0c0c0c"/>
<rect x="325.6" y="128.7" width="5.5" height="5.0" fill="#7a0606"/>
<rect x="330.6" y="128.7" width="5.5" height="5.0" fill="#0c0c0c"/>
<rect x="335.5" y="128.7" width="5.5" height="5.0" fill="#0c0c0c"/>
<rect x="340.5" y="128.7" width="5.5" height="5.0" fill="#f20000"/>
<rect x="345.4" y="128.7" width="5.0" height="5.0" fill="#0a6e0a"/>
<rect x="286.0" y="136.1" width="5.5" height="5.7" fill="#1ad21a"/>
<rect x="291.0" y="136.1" width="5.5" height="5.7" fill="#7a0606"/>
<rect x="295.9" y="136.1" width="5.5" height="5.7" fill="#1ad21a"/>
<rect x="300.9" y="136.1" width="5.5" height="5.7" fill="#0a6e0a"/>
<rect x="305.8" y="136.1" width="5.5" height="5.7" fill="#7a0606"/>
<rect x="310.8" y="136.1" width="5.5" height="5.7" fill="#1ad21a"/>
<rect x="315.7" y="136.1" width="5.5" height="5.7" fill="#7a0606"/>
<rect x="320.7" y="136.1" width="5.5" height="5.7" fill="#1ad21a"/>
<rect x="325.6" y="136.1" width="5.5" height="5.7" fill="#0c0c0c"/>
<rect x="330.6" y="136.1" width="5.5" height="5.7" fill="#7a0606"/>
<rect x="335.5" y="136.1" width="5.5" height="5.7" fill="#0a6e0a"/>
<rect x="340.5" y="136.1" width="5.5" height="5.7" fill="#1ad21a"/>
<rect x="345.4" y="136.1" width="5.0" height="5.7" fill="#0c0c0c"/>
<rect x="286.0" y="141.3" width="5.5" height="5.7" fill="#0c0c0c"/>
<rect x="291.0" y="141.3" width="5.5" height="5.7" fill="#0a6e0a"/>
<rect x="295.9" y="141.3" width="5.5" height="5.7" fill="#1ad21a"/>
<rect x="300.9" y="141.3" width="5.5" height="5.7" fill="#0a6e0a"/>
<rect x="305.8" y="141.3" width="5.5" height="5.7" fill="#0a6e0a"/>
<rect x="310.8" y="141.3" width="5.5" height="5.7" fill="#1ad21a"/>
<rect x="315.7" y="141.3" width="5.5" height="5.7" fill="#0a6e0a"/>
<rect x="320.7" y="141.3" width="5.5" height="5.7" fill="#0a6e0a"/>
<rect x="325.6" y="141.3" width="5.5" height="5.7" fill="#1ad21a"/>
<rect x="330.6" y="141.3" width="5.5" height="5.7" fill="#0a6e0a"/>
<rect x="335.5" y="141.3" width="5.5" height="5.7" fill="#7a0606"/>
<rect x="340.5" y="141.3" width="5.5" height="5.7" fill="#1ad21a"/>
<rect x="345.4" y="141.3" width="5.0" height="5.7" fill="#0a6e0a"/>
<rect x="286.0" y="146.5" width="5.5" height="5.7" fill="#1ad21a"/>
<rect x="291.0" y="146.5" width="5.5" height="5.7" fill="#f20000"/>
<rect x="295.9" y="146.5" width="5.5" height="5.7" fill="#1ad21a"/>
<rect x="300.9" y="146.5" width="5.5" height="5.7" fill="#7a0606"/>
<rect x="305.8" y="146.5" width="5.5" height="5.7" fill="#0a6e0a"/>
<rect x="310.8" y="146.5" width="5.5" height="5.7" fill="#1ad21a"/>
<rect x="315.7" y="146.5" width="5.5" height="5.7" fill="#f20000"/>
<rect x="320.7" y="146.5" width="5.5" height="5.7" fill="#0a6e0a"/>
<rect x="325.6" y="146.5" width="5.5" height="5.7" fill="#0a6e0a"/>
<rect x="330.6" y="146.5" width="5.5" height="5.7" fill="#0c0c0c"/>
<rect x="335.5" y="146.5" width="5.5" height="5.7" fill="#0c0c0c"/>
<rect x="340.5" y="146.5" width="5.5" height="5.7" fill="#0c0c0c"/>
<rect x="345.4" y="146.5" width="5.0" height="5.7" fill="#0c0c0c"/>
<rect x="286.0" y="151.7" width="5.5" height="5.7" fill="#f20000"/>
<rect x="291.0" y="151.7" width="5.5" height="5.7" fill="#0c0c0c"/>
<rect x="295.9" y="151.7" width="5.5" height="5.7" fill="#1ad21a"/>
<rect x="300.9" y="151.7" width="5.5" height="5.7" fill="#0a6e0a"/>
<rect x="305.8" y="151.7" width="5.5" height="5.7" fill="#0c0c0c"/>
<rect x="310.8" y="151.7" width="5.5" height="5.7" fill="#1ad21a"/>
<rect x="315.7" y="151.7" width="5.5" height="5.7" fill="#0c0c0c"/>
<rect x="320.7" y="151.7" width="5.5" height="5.7" fill="#7a0606"/>
<rect x="325.6" y="151.7" width="5.5" height="5.7" fill="#7a0606"/>
<rect x="330.6" y="151.7" width="5.5" height="5.7" fill="#0c0c0c"/>
<rect x="335.5" y="151.7" width="5.5" height="5.7" fill="#1ad21a"/>
<rect x="340.5" y="151.7" width="5.5" height="5.7" fill="#0a6e0a"/>
<rect x="345.4" y="151.7" width="5.0" height="5.7" fill="#0a6e0a"/>
<rect x="286.0" y="156.9" width="5.5" height="5.7" fill="#7a0606"/>
<rect x="291.0" y="156.9" width="5.5" height="5.7" fill="#0a6e0a"/>
<rect x="295.9" y="156.9" width="5.5" height="5.7" fill="#0a6e0a"/>
<rect x="300.9" y="156.9" width="5.5" height="5.7" fill="#f20000"/>
<rect x="305.8" y="156.9" width="5.5" height="5.7" fill="#f20000"/>
<rect x="310.8" y="156.9" width="5.5" height="5.7" fill="#1ad21a"/>
<rect x="315.7" y="156.9" width="5.5" height="5.7" fill="#0a6e0a"/>
<rect x="320.7" y="156.9" width="5.5" height="5.7" fill="#7a0606"/>
<rect x="325.6" y="156.9" width="5.5" height="5.7" fill="#7a0606"/>
<rect x="330.6" y="156.9" width="5.5" height="5.7" fill="#7a0606"/>
<rect x="335.5" y="156.9" width="5.5" height="5.7" fill="#7a0606"/>
<rect x="340.5" y="156.9" width="5.5" height="5.7" fill="#0a6e0a"/>
<rect x="345.4" y="156.9" width="5.0" height="5.7" fill="#0c0c0c"/>
<rect x="286.0" y="162.1" width="5.5" height="5.7" fill="#0a6e0a"/>
<rect x="291.0" y="162.1" width="5.5" height="5.7" fill="#f20000"/>
<rect x="295.9" y="162.1" width="5.5" height="5.7" fill="#1ad21a"/>
<rect x="300.9" y="162.1" width="5.5" height="5.7" fill="#0c0c0c"/>
<rect x="305.8" y="162.1" width="5.5" height="5.7" fill="#0a6e0a"/>
<rect x="310.8" y="162.1" width="5.5" height="5.7" fill="#1ad21a"/>
<rect x="315.7" y="162.1" width="5.5" height="5.7" fill="#0c0c0c"/>
<rect x="320.7" y="162.1" width="5.5" height="5.7" fill="#7a0606"/>
<rect x="325.6" y="162.1" width="5.5" height="5.7" fill="#0a6e0a"/>
<rect x="330.6" y="162.1" width="5.5" height="5.7" fill="#0c0c0c"/>
<rect x="335.5" y="162.1" width="5.5" height="5.7" fill="#0c0c0c"/>
<rect x="340.5" y="162.1" width="5.5" height="5.7" fill="#f20000"/>
<rect x="345.4" y="162.1" width="5.0" height="5.7" fill="#0c0c0c"/>
<rect x="286.0" y="167.3" width="5.5" height="5.7" fill="#0c0c0c"/>
<rect x="291.0" y="167.3" width="5.5" height="5.7" fill="#7a0606"/>
<rect x="295.9" y="167.3" width="5.5" height="5.7" fill="#1ad21a"/>
<rect x="300.9" y="167.3" width="5.5" height="5.7" fill="#0c0c0c"/>
<rect x="305.8" y="167.3" width="5.5" height="5.7" fill="#0c0c0c"/>
<rect x="310.8" y="167.3" width="5.5" height="5.7" fill="#1ad21a"/>
<rect x="315.7" y="167.3" width="5.5" height="5.7" fill="#f20000"/>
<rect x="320.7" y="167.3" width="5.5" height="5.7" fill="#0c0c0c"/>
<rect x="325.6" y="167.3" width="5.5" height="5.7" fill="#1ad21a"/>
<rect x="330.6" y="167.3" width="5.5" height="5.7" fill="#1ad21a"/>
<rect x="335.5" y="167.3" width="5.5" height="5.7" fill="#f20000"/>
<rect x="340.5" y="167.3" width="5.5" height="5.7" fill="#7a0606"/>
<rect x="345.4" y="167.3" width="5.0" height="5.7" fill="#0a6e0a"/>
<rect x="286.0" y="172.5" width="5.5" height="5.2" fill="#0a6e0a"/>
<rect x="291.0" y="172.5" width="5.5" height="5.2" fill="#7a0606"/>
<rect x="295.9" y="172.5" width="5.5" height="5.2" fill="#0a6e0a"/>
<rect x="300.9" y="172.5" width="5.5" height="5.2" fill="#0a6e0a"/>
<rect x="305.8" y="172.5" width="5.5" height="5.2" fill="#0c0c0c"/>
<rect x="310.8" y="172.5" width="5.5" height="5.2" fill="#1ad21a"/>
<rect x="315.7" y="172.5" width="5.5" height="5.2" fill="#f20000"/>
<rect x="320.7" y="172.5" width="5.5" height="5.2" fill="#0a6e0a"/>
<rect x="325.6" y="172.5" width="5.5" height="5.2" fill="#1ad21a"/>
<rect x="330.6" y="172.5" width="5.5" height="5.2" fill="#1ad21a"/>
<rect x="335.5" y="172.5" width="5.5" height="5.2" fill="#f20000"/>
<rect x="340.5" y="172.5" width="5.5" height="5.2" fill="#f20000"/>
<rect x="345.4" y="172.5" width="5.0" height="5.2" fill="#0a6e0a"/>
<rect x="286.0" y="179.4" width="5.5" height="5.7" fill="#0a6e0a"/>
<rect x="291.0" y="179.4" width="5.5" height="5.7" fill="#f20000"/>
<rect x="295.9" y="179.4" width="5.5" height="5.7" fill="#0a6e0a"/>
<rect x="300.9" y="179.4" width="5.5" height="5.7" fill="#f20000"/>
<rect x="305.8" y="179.4" width="5.5" height="5.7" fill="#0a6e0a"/>
<rect x="310.8" y="179.4" width="5.5" height="5.7" fill="#f20000"/>
<rect x="315.7" y="179.4" width="5.5" height="5.7" fill="#0c0c0c"/>
<rect x="320.7" y="179.4" width="5.5" height="5.7" fill="#0a6e0a"/>
<rect x="325.6" y="179.4" width="5.5" height="5.7" fill="#1ad21a"/>
<rect x="330.6" y="179.4" width="5.5" height="5.7" fill="#0a6e0a"/>
<rect x="335.5" y="179.4" width="5.5" height="5.7" fill="#0c0c0c"/>
<rect x="340.5" y="179.4" width="5.5" height="5.7" fill="#f20000"/>
<rect x="345.4" y="179.4" width="5.0" height="5.7" fill="#f20000"/>
<rect x="286.0" y="184.6" width="5.5" height="5.7" fill="#0a6e0a"/>
<rect x="291.0" y="184.6" width="5.5" height="5.7" fill="#7a0606"/>
<rect x="295.9" y="184.6" width="5.5" height="5.7" fill="#7a0606"/>
<rect x="300.9" y="184.6" width="5.5" height="5.7" fill="#0a6e0a"/>
<rect x="305.8" y="184.6" width="5.5" height="5.7" fill="#0a6e0a"/>
<rect x="310.8" y="184.6" width="5.5" height="5.7" fill="#f20000"/>
<rect x="315.7" y="184.6" width="5.5" height="5.7" fill="#0a6e0a"/>
<rect x="320.7" y="184.6" width="5.5" height="5.7" fill="#0c0c0c"/>
<rect x="325.6" y="184.6" width="5.5" height="5.7" fill="#0a6e0a"/>
<rect x="330.6" y="184.6" width="5.5" height="5.7" fill="#0a6e0a"/>
<rect x="335.5" y="184.6" width="5.5" height="5.7" fill="#0a6e0a"/>
<rect x="340.5" y="184.6" width="5.5" height="5.7" fill="#0a6e0a"/>
<rect x="345.4" y="184.6" width="5.0" height="5.7" fill="#7a0606"/>
<rect x="286.0" y="189.8" width="5.5" height="5.2" fill="#0a6e0a"/>
<rect x="291.0" y="189.8" width="5.5" height="5.2" fill="#0a6e0a"/>
<rect x="295.9" y="189.8" width="5.5" height="5.2" fill="#0c0c0c"/>
<rect x="300.9" y="189.8" width="5.5" height="5.2" fill="#0a6e0a"/>
<rect x="305.8" y="189.8" width="5.5" height="5.2" fill="#f20000"/>
<rect x="310.8" y="189.8" width="5.5" height="5.2" fill="#f20000"/>
<rect x="315.7" y="189.8" width="5.5" height="5.2" fill="#0a6e0a"/>
<rect x="320.7" y="189.8" width="5.5" height="5.2" fill="#f20000"/>
<rect x="325.6" y="189.8" width="5.5" height="5.2" fill="#0c0c0c"/>
<rect x="330.6" y="189.8" width="5.5" height="5.2" fill="#0a6e0a"/>
<rect x="335.5" y="189.8" width="5.5" height="5.2" fill="#f20000"/>
<rect x="340.5" y="189.8" width="5.5" height="5.2" fill="#7a0606"/>
<rect x="345.4" y="189.8" width="5.0" height="5.2" fill="#f20000"/>
<rect x="286.0" y="196.7" width="5.5" height="5.6" fill="#f20000"/>
<rect x="291.0" y="196.7" width="5.5" height="5.6" fill="#f20000"/>
<rect x="295.9" y="196.7" width="5.5" height="5.6" fill="#f20000"/>
<rect x="300.9" y="196.7" width="5.5" height="5.6" fill="#0c0c0c"/>
<rect x="305.8" y="196.7" width="5.5" height="5.6" fill="#f20000"/>
<rect x="310.8" y="196.7" width="5.5" height="5.6" fill="#f20000"/>
<rect x="315.7" y="196.7" width="5.5" height="5.6" fill="#f20000"/>
<rect x="320.7" y="196.7" width="5.5" height="5.6" fill="#f20000"/>
<rect x="325.6" y="196.7" width="5.5" height="5.6" fill="#0c0c0c"/>
<rect x="330.6" y="196.7" width="5.5" height="5.6" fill="#1ad21a"/>
<rect x="335.5" y="196.7" width="5.5" height="5.6" fill="#0a6e0a"/>
<rect x="340.5" y="196.7" width="5.5" height="5.6" fill="#7a0606"/>
<rect x="345.4" y="196.7" width="5.0" height="5.6" fill="#f20000"/>
<rect x="286.0" y="201.8" width="5.5" height="5.6" fill="#0c0c0c"/>
<rect x="291.0" y="201.8" width="5.5" height="5.6" fill="#1ad21a"/>
<rect x="295.9" y="201.8" width="5.5" height="5.6" fill="#1ad21a"/>
<rect x="300.9" y="201.8" width="5.5" height="5.6" fill="#1ad21a"/>
<rect x="305.8" y="201.8" width="5.5" height="5.6" fill="#7a0606"/>
<rect x="310.8" y="201.8" width="5.5" height="5.6" fill="#7a0606"/>
<rect x="315.7" y="201.8" width="5.5" height="5.6" fill="#0c0c0c"/>
<rect x="320.7" y="201.8" width="5.5" height="5.6" fill="#f20000"/>
<rect x="325.6" y="201.8" width="5.5" height="5.6" fill="#0c0c0c"/>
<rect x="330.6" y="201.8" width="5.5" height="5.6" fill="#0c0c0c"/>
<rect x="335.5" y="201.8" width="5.5" height="5.6" fill="#0a6e0a"/>
<rect x="340.5" y="201.8" width="5.5" height="5.6" fill="#0c0c0c"/>
<rect x="345.4" y="201.8" width="5.0" height="5.6" fill="#0a6e0a"/>
<rect x="286.0" y="206.9" width="5.5" height="5.6" fill="#0a6e0a"/>
<rect x="291.0" y="206.9" width="5.5" height="5.6" fill="#1ad21a"/>
<rect x="295.9" y="206.9" width="5.5" height="5.6" fill="#0c0c0c"/>
<rect x="300.9" y="206.9" width="5.5" height="5.6" fill="#0a6e0a"/>
<rect x="305.8" y="206.9" width="5.5" height="5.6" fill="#1ad21a"/>
<rect x="310.8" y="206.9" width="5.5" height="5.6" fill="#0c0c0c"/>
<rect x="315.7" y="206.9" width="5.5" height="5.6" fill="#f20000"/>
<rect x="320.7" y="206.9" width="5.5" height="5.6" fill="#f20000"/>
<rect x="325.6" y="206.9" width="5.5" height="5.6" fill="#0a6e0a"/>
<rect x="330.6" y="206.9" width="5.5" height="5.6" fill="#1ad21a"/>
<rect x="335.5" y="206.9" width="5.5" height="5.6" fill="#0c0c0c"/>
<rect x="340.5" y="206.9" width="5.5" height="5.6" fill="#7a0606"/>
<rect x="345.4" y="206.9" width="5.0" height="5.6" fill="#0a6e0a"/>
<rect x="286.0" y="212.1" width="5.5" height="5.1" fill="#0a6e0a"/>
<rect x="291.0" y="212.1" width="5.5" height="5.1" fill="#1ad21a"/>
<rect x="295.9" y="212.1" width="5.5" height="5.1" fill="#0a6e0a"/>
<rect x="300.9" y="212.1" width="5.5" height="5.1" fill="#1ad21a"/>
<rect x="305.8" y="212.1" width="5.5" height="5.1" fill="#f20000"/>
<rect x="310.8" y="212.1" width="5.5" height="5.1" fill="#0c0c0c"/>
<rect x="315.7" y="212.1" width="5.5" height="5.1" fill="#1ad21a"/>
<rect x="320.7" y="212.1" width="5.5" height="5.1" fill="#0a6e0a"/>
<rect x="325.6" y="212.1" width="5.5" height="5.1" fill="#1ad21a"/>
<rect x="330.6" y="212.1" width="5.5" height="5.1" fill="#1ad21a"/>
<rect x="335.5" y="212.1" width="5.5" height="5.1" fill="#1ad21a"/>
<rect x="340.5" y="212.1" width="5.5" height="5.1" fill="#7a0606"/>
<rect x="345.4" y="212.1" width="5.0" height="5.1" fill="#0c0c0c"/>
<rect x="286.0" y="218.9" width="5.5" height="5.7" fill="#1ad21a"/>
<rect x="291.0" y="218.9" width="5.5" height="5.7" fill="#0c0c0c"/>
<rect x="295.9" y="218.9" width="5.5" height="5.7" fill="#0a6e0a"/>
<rect x="300.9" y="218.9" width="5.5" height="5.7" fill="#0a6e0a"/>
<rect x="305.8" y="218.9" width="5.5" height="5.7" fill="#0c0c0c"/>
<rect x="310.8" y="218.9" width="5.5" height="5.7" fill="#7a0606"/>
<rect x="315.7" y="218.9" width="5.5" height="5.7" fill="#1ad21a"/>
<rect x="320.7" y="218.9" width="5.5" height="5.7" fill="#f20000"/>
<rect x="325.6" y="218.9" width="5.5" height="5.7" fill="#0c0c0c"/>
<rect x="330.6" y="218.9" width="5.5" height="5.7" fill="#0a6e0a"/>
<rect x="335.5" y="218.9" width="5.5" height="5.7" fill="#0a6e0a"/>
<rect x="340.5" y="218.9" width="5.5" height="5.7" fill="#0c0c0c"/>
<rect x="345.4" y="218.9" width="5.0" height="5.7" fill="#0c0c0c"/>
<rect x="286.0" y="224.1" width="5.5" height="5.7" fill="#f20000"/>
<rect x="291.0" y="224.1" width="5.5" height="5.7" fill="#0c0c0c"/>
<rect x="295.9" y="224.1" width="5.5" height="5.7" fill="#f20000"/>
<rect x="300.9" y="224.1" width="5.5" height="5.7" fill="#f20000"/>
<rect x="305.8" y="224.1" width="5.5" height="5.7" fill="#f20000"/>
<rect x="310.8" y="224.1" width="5.5" height="5.7" fill="#f20000"/>
<rect x="315.7" y="224.1" width="5.5" height="5.7" fill="#0c0c0c"/>
<rect x="320.7" y="224.1" width="5.5" height="5.7" fill="#f20000"/>
<rect x="325.6" y="224.1" width="5.5" height="5.7" fill="#f20000"/>
<rect x="330.6" y="224.1" width="5.5" height="5.7" fill="#f20000"/>
<rect x="335.5" y="224.1" width="5.5" height="5.7" fill="#f20000"/>
<rect x="340.5" y="224.1" width="5.5" height="5.7" fill="#f20000"/>
<rect x="345.4" y="224.1" width="5.0" height="5.7" fill="#7a0606"/>
<rect x="286.0" y="229.3" width="5.5" height="5.7" fill="#f20000"/>
<rect x="291.0" y="229.3" width="5.5" height="5.7" fill="#f20000"/>
<rect x="295.9" y="229.3" width="5.5" height="5.7" fill="#f20000"/>
<rect x="300.9" y="229.3" width="5.5" height="5.7" fill="#f20000"/>
<rect x="305.8" y="229.3" width="5.5" height="5.7" fill="#f20000"/>
<rect x="310.8" y="229.3" width="5.5" height="5.7" fill="#f20000"/>
<rect x="315.7" y="229.3" width="5.5" height="5.7" fill="#f20000"/>
<rect x="320.7" y="229.3" width="5.5" height="5.7" fill="#f20000"/>
<rect x="325.6" y="229.3" width="5.5" height="5.7" fill="#f20000"/>
<rect x="330.6" y="229.3" width="5.5" height="5.7" fill="#f20000"/>
<rect x="335.5" y="229.3" width="5.5" height="5.7" fill="#f20000"/>
<rect x="340.5" y="229.3" width="5.5" height="5.7" fill="#f20000"/>
<rect x="345.4" y="229.3" width="5.0" height="5.7" fill="#f20000"/>
<rect x="286.0" y="234.5" width="5.5" height="5.7" fill="#1ad21a"/>
<rect x="291.0" y="234.5" width="5.5" height="5.7" fill="#1ad21a"/>
<rect x="295.9" y="234.5" width="5.5" height="5.7" fill="#7a0606"/>
<rect x="300.9" y="234.5" width="5.5" height="5.7" fill="#0c0c0c"/>
<rect x="305.8" y="234.5" width="5.5" height="5.7" fill="#7a0606"/>
<rect x="310.8" y="234.5" width="5.5" height="5.7" fill="#f20000"/>
<rect x="315.7" y="234.5" width="5.5" height="5.7" fill="#7a0606"/>
<rect x="320.7" y="234.5" width="5.5" height="5.7" fill="#0a6e0a"/>
<rect x="325.6" y="234.5" width="5.5" height="5.7" fill="#0a6e0a"/>
<rect x="330.6" y="234.5" width="5.5" height="5.7" fill="#1ad21a"/>
<rect x="335.5" y="234.5" width="5.5" height="5.7" fill="#1ad21a"/>
<rect x="340.5" y="234.5" width="5.5" height="5.7" fill="#0a6e0a"/>
<rect x="345.4" y="234.5" width="5.0" height="5.7" fill="#7a0606"/>
<rect x="286.0" y="239.7" width="5.5" height="5.7" fill="#1ad21a"/>
<rect x="291.0" y="239.7" width="5.5" height="5.7" fill="#7a0606"/>
<rect x="295.9" y="239.7" width="5.5" height="5.7" fill="#7a0606"/>
<rect x="300.9" y="239.7" width="5.5" height="5.7" fill="#7a0606"/>
<rect x="305.8" y="239.7" width="5.5" height="5.7" fill="#f20000"/>
<rect x="310.8" y="239.7" width="5.5" height="5.7" fill="#f20000"/>
<rect x="315.7" y="239.7" width="5.5" height="5.7" fill="#0c0c0c"/>
<rect x="320.7" y="239.7" width="5.5" height="5.7" fill="#7a0606"/>
<rect x="325.6" y="239.7" width="5.5" height="5.7" fill="#1ad21a"/>
<rect x="330.6" y="239.7" width="5.5" height="5.7" fill="#1ad21a"/>
<rect x="335.5" y="239.7" width="5.5" height="5.7" fill="#0a6e0a"/>
<rect x="340.5" y="239.7" width="5.5" height="5.7" fill="#1ad21a"/>
<rect x="345.4" y="239.7" width="5.0" height="5.7" fill="#7a0606"/>
<rect x="286.0" y="244.9" width="5.5" height="5.7" fill="#0c0c0c"/>
<rect x="291.0" y="244.9" width="5.5" height="5.7" fill="#0c0c0c"/>
<rect x="295.9" y="244.9" width="5.5" height="5.7" fill="#f20000"/>
<rect x="300.9" y="244.9" width="5.5" height="5.7" fill="#f20000"/>
<rect x="305.8" y="244.9" width="5.5" height="5.7" fill="#7a0606"/>
<rect x="310.8" y="244.9" width="5.5" height="5.7" fill="#f20000"/>
<rect x="315.7" y="244.9" width="5.5" height="5.7" fill="#1ad21a"/>
<rect x="320.7" y="244.9" width="5.5" height="5.7" fill="#f20000"/>
<rect x="325.6" y="244.9" width="5.5" height="5.7" fill="#f20000"/>
<rect x="330.6" y="244.9" width="5.5" height="5.7" fill="#0c0c0c"/>
<rect x="335.5" y="244.9" width="5.5" height="5.7" fill="#7a0606"/>
<rect x="340.5" y="244.9" width="5.5" height="5.7" fill="#f20000"/>
<rect x="345.4" y="244.9" width="5.0" height="5.7" fill="#f20000"/>
<rect x="286.0" y="250.1" width="5.5" height="5.7" fill="#1ad21a"/>
<rect x="291.0" y="250.1" width="5.5" height="5.7" fill="#1ad21a"/>
<rect x="295.9" y="250.1" width="5.5" height="5.7" fill="#1ad21a"/>
<rect x="300.9" y="250.1" width="5.5" height="5.7" fill="#0a6e0a"/>
<rect x="305.8" y="250.1" width="5.5" height="5.7" fill="#0a6e0a"/>
<rect x="310.8" y="250.1" width="5.5" height="5.7" fill="#1ad21a"/>
<rect x="315.7" y="250.1" width="5.5" height="5.7" fill="#1ad21a"/>
<rect x="320.7" y="250.1" width="5.5" height="5.7" fill="#1ad21a"/>
<rect x="325.6" y="250.1" width="5.5" height="5.7" fill="#1ad21a"/>
<rect x="330.6" y="250.1" width="5.5" height="5.7" fill="#1ad21a"/>
<rect x="335.5" y="250.1" width="5.5" height="5.7" fill="#0a6e0a"/>
<rect x="340.5" y="250.1" width="5.5" height="5.7" fill="#1ad21a"/>
<rect x="345.4" y="250.1" width="5.0" height="5.7" fill="#0c0c0c"/>
<rect x="286.0" y="255.3" width="5.5" height="5.7" fill="#f20000"/>
<rect x="291.0" y="255.3" width="5.5" height="5.7" fill="#f20000"/>
<rect x="295.9" y="255.3" width="5.5" height="5.7" fill="#f20000"/>
<rect x="300.9" y="255.3" width="5.5" height="5.7" fill="#f20000"/>
<rect x="305.8" y="255.3" width="5.5" height="5.7" fill="#f20000"/>
<rect x="310.8" y="255.3" width="5.5" height="5.7" fill="#f20000"/>
<rect x="315.7" y="255.3" width="5.5" height="5.7" fill="#f20000"/>
<rect x="320.7" y="255.3" width="5.5" height="5.7" fill="#f20000"/>
<rect x="325.6" y="255.3" width="5.5" height="5.7" fill="#7a0606"/>
<rect x="330.6" y="255.3" width="5.5" height="5.7" fill="#f20000"/>
<rect x="335.5" y="255.3" width="5.5" height="5.7" fill="#f20000"/>
<rect x="340.5" y="255.3" width="5.5" height="5.7" fill="#f20000"/>
<rect x="345.4" y="255.3" width="5.0" height="5.7" fill="#f20000"/>
<rect x="286.0" y="260.5" width="5.5" height="5.7" fill="#f20000"/>
<rect x="291.0" y="260.5" width="5.5" height="5.7" fill="#0c0c0c"/>
<rect x="295.9" y="260.5" width="5.5" height="5.7" fill="#f20000"/>
<rect x="300.9" y="260.5" width="5.5" height="5.7" fill="#f20000"/>
<rect x="305.8" y="260.5" width="5.5" height="5.7" fill="#0c0c0c"/>
<rect x="310.8" y="260.5" width="5.5" height="5.7" fill="#f20000"/>
<rect x="315.7" y="260.5" width="5.5" height="5.7" fill="#f20000"/>
<rect x="320.7" y="260.5" width="5.5" height="5.7" fill="#7a0606"/>
<rect x="325.6" y="260.5" width="5.5" height="5.7" fill="#0c0c0c"/>
<rect x="330.6" y="260.5" width="5.5" height="5.7" fill="#1ad21a"/>
<rect x="335.5" y="260.5" width="5.5" height="5.7" fill="#f20000"/>
<rect x="340.5" y="260.5" width="5.5" height="5.7" fill="#0c0c0c"/>
<rect x="345.4" y="260.5" width="5.0" height="5.7" fill="#f20000"/>
<rect x="286.0" y="265.7" width="5.5" height="5.7" fill="#0a6e0a"/>
<rect x="291.0" y="265.7" width="5.5" height="5.7" fill="#1ad21a"/>
<rect x="295.9" y="265.7" width="5.5" height="5.7" fill="#1ad21a"/>
<rect x="300.9" y="265.7" width="5.5" height="5.7" fill="#1ad21a"/>
<rect x="305.8" y="265.7" width="5.5" height="5.7" fill="#0a6e0a"/>
<rect x="310.8" y="265.7" width="5.5" height="5.7" fill="#1ad21a"/>
<rect x="315.7" y="265.7" width="5.5" height="5.7" fill="#0a6e0a"/>
<rect x="320.7" y="265.7" width="5.5" height="5.7" fill="#0a6e0a"/>
<rect x="325.6" y="265.7" width="5.5" height="5.7" fill="#1ad21a"/>
<rect x="330.6" y="265.7" width="5.5" height="5.7" fill="#0c0c0c"/>
<rect x="335.5" y="265.7" width="5.5" height="5.7" fill="#0a6e0a"/>
<rect x="340.5" y="265.7" width="5.5" height="5.7" fill="#0a6e0a"/>
<rect x="345.4" y="265.7" width="5.0" height="5.7" fill="#7a0606"/>
<rect x="286.0" y="270.9" width="5.5" height="5.7" fill="#0c0c0c"/>
<rect x="291.0" y="270.9" width="5.5" height="5.7" fill="#0c0c0c"/>
<rect x="295.9" y="270.9" width="5.5" height="5.7" fill="#7a0606"/>
<rect x="300.9" y="270.9" width="5.5" height="5.7" fill="#7a0606"/>
<rect x="305.8" y="270.9" width="5.5" height="5.7" fill="#7a0606"/>
<rect x="310.8" y="270.9" width="5.5" height="5.7" fill="#f20000"/>
<rect x="315.7" y="270.9" width="5.5" height="5.7" fill="#f20000"/>
<rect x="320.7" y="270.9" width="5.5" height="5.7" fill="#f20000"/>
<rect x="325.6" y="270.9" width="5.5" height="5.7" fill="#0a6e0a"/>
<rect x="330.6" y="270.9" width="5.5" height="5.7" fill="#1ad21a"/>
<rect x="335.5" y="270.9" width="5.5" height="5.7" fill="#f20000"/>
<rect x="340.5" y="270.9" width="5.5" height="5.7" fill="#0a6e0a"/>
<rect x="345.4" y="270.9" width="5.0" height="5.7" fill="#f20000"/>
<rect x="286.0" y="276.1" width="5.5" height="5.7" fill="#1ad21a"/>
<rect x="291.0" y="276.1" width="5.5" height="5.7" fill="#0a6e0a"/>
<rect x="295.9" y="276.1" width="5.5" height="5.7" fill="#0a6e0a"/>
<rect x="300.9" y="276.1" width="5.5" height="5.7" fill="#0a6e0a"/>
<rect x="305.8" y="276.1" width="5.5" height="5.7" fill="#0c0c0c"/>
<rect x="310.8" y="276.1" width="5.5" height="5.7" fill="#0c0c0c"/>
<rect x="315.7" y="276.1" width="5.5" height="5.7" fill="#1ad21a"/>
<rect x="320.7" y="276.1" width="5.5" height="5.7" fill="#0a6e0a"/>
<rect x="325.6" y="276.1" width="5.5" height="5.7" fill="#0c0c0c"/>
<rect x="330.6" y="276.1" width="5.5" height="5.7" fill="#1ad21a"/>
<rect x="335.5" y="276.1" width="5.5" height="5.7" fill="#1ad21a"/>
<rect x="340.5" y="276.1" width="5.5" height="5.7" fill="#0c0c0c"/>
<rect x="345.4" y="276.1" width="5.0" height="5.7" fill="#0a6e0a"/>
<rect x="286.0" y="281.3" width="5.5" height="5.7" fill="#0a6e0a"/>
<rect x="291.0" y="281.3" width="5.5" height="5.7" fill="#0a6e0a"/>
<rect x="295.9" y="281.3" width="5.5" height="5.7" fill="#0a6e0a"/>
<rect x="300.9" y="281.3" width="5.5" height="5.7" fill="#0a6e0a"/>
<rect x="305.8" y="281.3" width="5.5" height="5.7" fill="#0a6e0a"/>
<rect x="310.8" y="281.3" width="5.5" height="5.7" fill="#0a6e0a"/>
<rect x="315.7" y="281.3" width="5.5" height="5.7" fill="#0a6e0a"/>
<rect x="320.7" y="281.3" width="5.5" height="5.7" fill="#0a6e0a"/>
<rect x="325.6" y="281.3" width="5.5" height="5.7" fill="#1ad21a"/>
<rect x="330.6" y="281.3" width="5.5" height="5.7" fill="#1ad21a"/>
<rect x="335.5" y="281.3" width="5.5" height="5.7" fill="#0a6e0a"/>
<rect x="340.5" y="281.3" width="5.5" height="5.7" fill="#0a6e0a"/>
<rect x="345.4" y="281.3" width="5.0" height="5.7" fill="#0a6e0a"/>
<rect x="286.0" y="286.5" width="5.5" height="5.7" fill="#7a0606"/>
<rect x="291.0" y="286.5" width="5.5" height="5.7" fill="#7a0606"/>
<rect x="295.9" y="286.5" width="5.5" height="5.7" fill="#f20000"/>
<rect x="300.9" y="286.5" width="5.5" height="5.7" fill="#f20000"/>
<rect x="305.8" y="286.5" width="5.5" height="5.7" fill="#f20000"/>
<rect x="310.8" y="286.5" width="5.5" height="5.7" fill="#0c0c0c"/>
<rect x="315.7" y="286.5" width="5.5" height="5.7" fill="#7a0606"/>
<rect x="320.7" y="286.5" width="5.5" height="5.7" fill="#7a0606"/>
<rect x="325.6" y="286.5" width="5.5" height="5.7" fill="#7a0606"/>
<rect x="330.6" y="286.5" width="5.5" height="5.7" fill="#7a0606"/>
<rect x="335.5" y="286.5" width="5.5" height="5.7" fill="#7a0606"/>
<rect x="340.5" y="286.5" width="5.5" height="5.7" fill="#7a0606"/>
<rect x="345.4" y="286.5" width="5.0" height="5.7" fill="#7a0606"/>
<rect x="286.0" y="291.7" width="5.5" height="5.2" fill="#1ad21a"/>
<rect x="291.0" y="291.7" width="5.5" height="5.2" fill="#1ad21a"/>
<rect x="295.9" y="291.7" width="5.5" height="5.2" fill="#1ad21a"/>
<rect x="300.9" y="291.7" width="5.5" height="5.2" fill="#1ad21a"/>
<rect x="305.8" y="291.7" width="5.5" height="5.2" fill="#1ad21a"/>
<rect x="310.8" y="291.7" width="5.5" height="5.2" fill="#0c0c0c"/>
<rect x="315.7" y="291.7" width="5.5" height="5.2" fill="#1ad21a"/>
<rect x="320.7" y="291.7" width="5.5" height="5.2" fill="#1ad21a"/>
<rect x="325.6" y="291.7" width="5.5" height="5.2" fill="#1ad21a"/>
<rect x="330.6" y="291.7" width="5.5" height="5.2" fill="#1ad21a"/>
<rect x="335.5" y="291.7" width="5.5" height="5.2" fill="#1ad21a"/>
<rect x="340.5" y="291.7" width="5.5" height="5.2" fill="#1ad21a"/>
<rect x="345.4" y="291.7" width="5.0" height="5.2" fill="#0a6e0a"/>
<rect x="286.0" y="299.4" width="5.5" height="5.7" fill="#f20000"/>
<rect x="291.0" y="299.4" width="5.5" height="5.7" fill="#0a6e0a"/>
<rect x="295.9" y="299.4" width="5.5" height="5.7" fill="#f20000"/>
<rect x="300.9" y="299.4" width="5.5" height="5.7" fill="#7a0606"/>
<rect x="305.8" y="299.4" width="5.5" height="5.7" fill="#f20000"/>
<rect x="310.8" y="299.4" width="5.5" height="5.7" fill="#1ad21a"/>
<rect x="315.7" y="299.4" width="5.5" height="5.7" fill="#7a0606"/>
<rect x="320.7" y="299.4" width="5.5" height="5.7" fill="#f20000"/>
<rect x="325.6" y="299.4" width="5.5" height="5.7" fill="#f20000"/>
<rect x="330.6" y="299.4" width="5.5" height="5.7" fill="#f20000"/>
<rect x="335.5" y="299.4" width="5.5" height="5.7" fill="#f20000"/>
<rect x="340.5" y="299.4" width="5.5" height="5.7" fill="#f20000"/>
<rect x="345.4" y="299.4" width="5.0" height="5.7" fill="#0a6e0a"/>
<rect x="286.0" y="304.6" width="5.5" height="5.7" fill="#0a6e0a"/>
<rect x="291.0" y="304.6" width="5.5" height="5.7" fill="#1ad21a"/>
<rect x="295.9" y="304.6" width="5.5" height="5.7" fill="#0a6e0a"/>
<rect x="300.9" y="304.6" width="5.5" height="5.7" fill="#0a6e0a"/>
<rect x="305.8" y="304.6" width="5.5" height="5.7" fill="#1ad21a"/>
<rect x="310.8" y="304.6" width="5.5" height="5.7" fill="#0a6e0a"/>
<rect x="315.7" y="304.6" width="5.5" height="5.7" fill="#1ad21a"/>
<rect x="320.7" y="304.6" width="5.5" height="5.7" fill="#0a6e0a"/>
<rect x="325.6" y="304.6" width="5.5" height="5.7" fill="#1ad21a"/>
<rect x="330.6" y="304.6" width="5.5" height="5.7" fill="#1ad21a"/>
<rect x="335.5" y="304.6" width="5.5" height="5.7" fill="#0a6e0a"/>
<rect x="340.5" y="304.6" width="5.5" height="5.7" fill="#1ad21a"/>
<rect x="345.4" y="304.6" width="5.0" height="5.7" fill="#0a6e0a"/>
<rect x="286.0" y="309.9" width="5.5" height="5.7" fill="#0a6e0a"/>
<rect x="291.0" y="309.9" width="5.5" height="5.7" fill="#0a6e0a"/>
<rect x="295.9" y="309.9" width="5.5" height="5.7" fill="#7a0606"/>
<rect x="300.9" y="309.9" width="5.5" height="5.7" fill="#0a6e0a"/>
<rect x="305.8" y="309.9" width="5.5" height="5.7" fill="#0a6e0a"/>
<rect x="310.8" y="309.9" width="5.5" height="5.7" fill="#0c0c0c"/>
<rect x="315.7" y="309.9" width="5.5" height="5.7" fill="#0a6e0a"/>
<rect x="320.7" y="309.9" width="5.5" height="5.7" fill="#0a6e0a"/>
<rect x="325.6" y="309.9" width="5.5" height="5.7" fill="#1ad21a"/>
<rect x="330.6" y="309.9" width="5.5" height="5.7" fill="#1ad21a"/>
<rect x="335.5" y="309.9" width="5.5" height="5.7" fill="#0a6e0a"/>
<rect x="340.5" y="309.9" width="5.5" height="5.7" fill="#0a6e0a"/>
<rect x="345.4" y="309.9" width="5.0" height="5.7" fill="#f20000"/>
<rect x="286.0" y="315.1" width="5.5" height="5.7" fill="#7a0606"/>
<rect x="291.0" y="315.1" width="5.5" height="5.7" fill="#0c0c0c"/>
<rect x="295.9" y="315.1" width="5.5" height="5.7" fill="#f20000"/>
<rect x="300.9" y="315.1" width="5.5" height="5.7" fill="#1ad21a"/>
<rect x="305.8" y="315.1" width="5.5" height="5.7" fill="#0a6e0a"/>
<rect x="310.8" y="315.1" width="5.5" height="5.7" fill="#f20000"/>
<rect x="315.7" y="315.1" width="5.5" height="5.7" fill="#0a6e0a"/>
<rect x="320.7" y="315.1" width="5.5" height="5.7" fill="#f20000"/>
<rect x="325.6" y="315.1" width="5.5" height="5.7" fill="#0c0c0c"/>
<rect x="330.6" y="315.1" width="5.5" height="5.7" fill="#0c0c0c"/>
<rect x="335.5" y="315.1" width="5.5" height="5.7" fill="#7a0606"/>
<rect x="340.5" y="315.1" width="5.5" height="5.7" fill="#1ad21a"/>
<rect x="345.4" y="315.1" width="5.0" height="5.7" fill="#7a0606"/>
<rect x="286.0" y="320.4" width="5.5" height="5.7" fill="#0c0c0c"/>
<rect x="291.0" y="320.4" width="5.5" height="5.7" fill="#1ad21a"/>
<rect x="295.9" y="320.4" width="5.5" height="5.7" fill="#0c0c0c"/>
<rect x="300.9" y="320.4" width="5.5" height="5.7" fill="#0a6e0a"/>
<rect x="305.8" y="320.4" width="5.5" height="5.7" fill="#7a0606"/>
<rect x="310.8" y="320.4" width="5.5" height="5.7" fill="#7a0606"/>
<rect x="315.7" y="320.4" width="5.5" height="5.7" fill="#0c0c0c"/>
<rect x="320.7" y="320.4" width="5.5" height="5.7" fill="#0a6e0a"/>
<rect x="325.6" y="320.4" width="5.5" height="5.7" fill="#0a6e0a"/>
<rect x="330.6" y="320.4" width="5.5" height="5.7" fill="#0a6e0a"/>
<rect x="335.5" y="320.4" width="5.5" height="5.7" fill="#0a6e0a"/>
<rect x="340.5" y="320.4" width="5.5" height="5.7" fill="#0a6e0a"/>
<rect x="345.4" y="320.4" width="5.0" height="5.7" fill="#0a6e0a"/>
<rect x="286.0" y="325.6" width="5.5" height="5.7" fill="#f20000"/>
<rect x="291.0" y="325.6" width="5.5" height="5.7" fill="#0c0c0c"/>
<rect x="295.9" y="325.6" width="5.5" height="5.7" fill="#f20000"/>
<rect x="300.9" y="325.6" width="5.5" height="5.7" fill="#f20000"/>
<rect x="305.8" y="325.6" width="5.5" height="5.7" fill="#f20000"/>
<rect x="310.8" y="325.6" width="5.5" height="5.7" fill="#f20000"/>
<rect x="315.7" y="325.6" width="5.5" height="5.7" fill="#f20000"/>
<rect x="320.7" y="325.6" width="5.5" height="5.7" fill="#f20000"/>
<rect x="325.6" y="325.6" width="5.5" height="5.7" fill="#f20000"/>
<rect x="330.6" y="325.6" width="5.5" height="5.7" fill="#f20000"/>
<rect x="335.5" y="325.6" width="5.5" height="5.7" fill="#f20000"/>
<rect x="340.5" y="325.6" width="5.5" height="5.7" fill="#f20000"/>
<rect x="345.4" y="325.6" width="5.0" height="5.7" fill="#f20000"/>
<rect x="286.0" y="330.9" width="5.5" height="5.2" fill="#7a0606"/>
<rect x="291.0" y="330.9" width="5.5" height="5.2" fill="#0c0c0c"/>
<rect x="295.9" y="330.9" width="5.5" height="5.2" fill="#f20000"/>
<rect x="300.9" y="330.9" width="5.5" height="5.2" fill="#f20000"/>
<rect x="305.8" y="330.9" width="5.5" height="5.2" fill="#7a0606"/>
<rect x="310.8" y="330.9" width="5.5" height="5.2" fill="#f20000"/>
<rect x="315.7" y="330.9" width="5.5" height="5.2" fill="#f20000"/>
<rect x="320.7" y="330.9" width="5.5" height="5.2" fill="#7a0606"/>
<rect x="325.6" y="330.9" width="5.5" height="5.2" fill="#7a0606"/>
<rect x="330.6" y="330.9" width="5.5" height="5.2" fill="#7a0606"/>
<rect x="335.5" y="330.9" width="5.5" height="5.2" fill="#7a0606"/>
<rect x="340.5" y="330.9" width="5.5" height="5.2" fill="#7a0606"/>
<rect x="345.4" y="330.9" width="5.0" height="5.2" fill="#7a0606"/>
<rect x="353.0" y="51.8" width="5.5" height="5.6" fill="#0a6e0a"/>
<rect x="358.0" y="51.8" width="5.5" height="5.6" fill="#0a6e0a"/>
<rect x="363.0" y="51.8" width="5.5" height="5.6" fill="#0a6e0a"/>
<rect x="368.0" y="51.8" width="5.5" height="5.6" fill="#0a6e0a"/>
<rect x="372.9" y="51.8" width="5.5" height="5.6" fill="#f20000"/>
<rect x="377.9" y="51.8" width="5.5" height="5.6" fill="#f20000"/>
<rect x="382.9" y="51.8" width="5.5" height="5.6" fill="#f20000"/>
<rect x="387.9" y="51.8" width="5.5" height="5.6" fill="#0c0c0c"/>
<rect x="392.9" y="51.8" width="5.5" height="5.6" fill="#0a6e0a"/>
<rect x="397.9" y="51.8" width="5.5" height="5.6" fill="#f20000"/>
<rect x="402.8" y="51.8" width="5.5" height="5.6" fill="#f20000"/>
<rect x="407.8" y="51.8" width="5.5" height="5.6" fill="#0c0c0c"/>
<rect x="412.8" y="51.8" width="5.0" height="5.6" fill="#7a0606"/>
<rect x="353.0" y="56.9" width="5.5" height="5.6" fill="#7a0606"/>
<rect x="358.0" y="56.9" width="5.5" height="5.6" fill="#0c0c0c"/>
<rect x="363.0" y="56.9" width="5.5" height="5.6" fill="#0a6e0a"/>
<rect x="368.0" y="56.9" width="5.5" height="5.6" fill="#f20000"/>
<rect x="372.9" y="56.9" width="5.5" height="5.6" fill="#0c0c0c"/>
<rect x="377.9" y="56.9" width="5.5" height="5.6" fill="#f20000"/>
<rect x="382.9" y="56.9" width="5.5" height="5.6" fill="#7a0606"/>
<rect x="387.9" y="56.9" width="5.5" height="5.6" fill="#f20000"/>
<rect x="392.9" y="56.9" width="5.5" height="5.6" fill="#0c0c0c"/>
<rect x="397.9" y="56.9" width="5.5" height="5.6" fill="#f20000"/>
<rect x="402.8" y="56.9" width="5.5" height="5.6" fill="#0c0c0c"/>
<rect x="407.8" y="56.9" width="5.5" height="5.6" fill="#0c0c0c"/>
<rect x="412.8" y="56.9" width="5.0" height="5.6" fill="#1ad21a"/>
<rect x="353.0" y="62.0" width="5.5" height="5.1" fill="#0a6e0a"/>
<rect x="358.0" y="62.0" width="5.5" height="5.1" fill="#7a0606"/>
<rect x="363.0" y="62.0" width="5.5" height="5.1" fill="#7a0606"/>
<rect x="368.0" y="62.0" width="5.5" height="5.1" fill="#f20000"/>
<rect x="372.9" y="62.0" width="5.5" height="5.1" fill="#f20000"/>
<rect x="377.9" y="62.0" width="5.5" height="5.1" fill="#f20000"/>
<rect x="382.9" y="62.0" width="5.5" height="5.1" fill="#f20000"/>
<rect x="387.9" y="62.0" width="5.5" height="5.1" fill="#f20000"/>
<rect x="392.9" y="62.0" width="5.5" height="5.1" fill="#0c0c0c"/>
<rect x="397.9" y="62.0" width="5.5" height="5.1" fill="#f20000"/>
<rect x="402.8" y="62.0" width="5.5" height="5.1" fill="#f20000"/>
<rect x="407.8" y="62.0" width="5.5" height="5.1" fill="#f20000"/>
<rect x="412.8" y="62.0" width="5.0" height="5.1" fill="#f20000"/>
<rect x="353.0" y="68.8" width="5.5" height="5.8" fill="#0a6e0a"/>
<rect x="358.0" y="68.8" width="5.5" height="5.8" fill="#0c0c0c"/>
<rect x="363.0" y="68.8" width="5.5" height="5.8" fill="#1ad21a"/>
<rect x="368.0" y="68.8" width="5.5" height="5.8" fill="#0c0c0c"/>
<rect x="372.9" y="68.8" width="5.5" height="5.8" fill="#0a6e0a"/>
<rect x="377.9" y="68.8" width="5.5" height="5.8" fill="#7a0606"/>
<rect x="382.9" y="68.8" width="5.5" height="5.8" fill="#f20000"/>
<rect x="387.9" y="68.8" width="5.5" height="5.8" fill="#0c0c0c"/>
<rect x="392.9" y="68.8" width="5.5" height="5.8" fill="#0a6e0a"/>
<rect x="397.9" y="68.8" width="5.5" height="5.8" fill="#f20000"/>
<rect x="402.8" y="68.8" width="5.5" height="5.8" fill="#f20000"/>
<rect x="407.8" y="68.8" width="5.5" height="5.8" fill="#f20000"/>
<rect x="412.8" y="68.8" width="5.0" height="5.8" fill="#0a6e0a"/>
<rect x="353.0" y="74.0" width="5.5" height="5.8" fill="#0a6e0a"/>
<rect x="358.0" y="74.0" width="5.5" height="5.8" fill="#0a6e0a"/>
<rect x="363.0" y="74.0" width="5.5" height="5.8" fill="#0a6e0a"/>
<rect x="368.0" y="74.0" width="5.5" height="5.8" fill="#1ad21a"/>
<rect x="372.9" y="74.0" width="5.5" height="5.8" fill="#0c0c0c"/>
<rect x="377.9" y="74.0" width="5.5" height="5.8" fill="#f20000"/>
<rect x="382.9" y="74.0" width="5.5" height="5.8" fill="#f20000"/>
<rect x="387.9" y="74.0" width="5.5" height="5.8" fill="#0a6e0a"/>
<rect x="392.9" y="74.0" width="5.5" height="5.8" fill="#0a6e0a"/>
<rect x="397.9" y="74.0" width="5.5" height="5.8" fill="#f20000"/>
<rect x="402.8" y="74.0" width="5.5" height="5.8" fill="#f20000"/>
<rect x="407.8" y="74.0" width="5.5" height="5.8" fill="#f20000"/>
<rect x="412.8" y="74.0" width="5.0" height="5.8" fill="#0c0c0c"/>
<rect x="353.0" y="79.3" width="5.5" height="5.8" fill="#0c0c0c"/>
<rect x="358.0" y="79.3" width="5.5" height="5.8" fill="#0c0c0c"/>
<rect x="363.0" y="79.3" width="5.5" height="5.8" fill="#0c0c0c"/>
<rect x="368.0" y="79.3" width="5.5" height="5.8" fill="#0a6e0a"/>
<rect x="372.9" y="79.3" width="5.5" height="5.8" fill="#f20000"/>
<rect x="377.9" y="79.3" width="5.5" height="5.8" fill="#f20000"/>
<rect x="382.9" y="79.3" width="5.5" height="5.8" fill="#f20000"/>
<rect x="387.9" y="79.3" width="5.5" height="5.8" fill="#7a0606"/>
<rect x="392.9" y="79.3" width="5.5" height="5.8" fill="#0c0c0c"/>
<rect x="397.9" y="79.3" width="5.5" height="5.8" fill="#7a0606"/>
<rect x="402.8" y="79.3" width="5.5" height="5.8" fill="#f20000"/>
<rect x="407.8" y="79.3" width="5.5" height="5.8" fill="#f20000"/>
<rect x="412.8" y="79.3" width="5.0" height="5.8" fill="#0c0c0c"/>
<rect x="353.0" y="84.6" width="5.5" height="5.8" fill="#0c0c0c"/>
<rect x="358.0" y="84.6" width="5.5" height="5.8" fill="#0c0c0c"/>
<rect x="363.0" y="84.6" width="5.5" height="5.8" fill="#7a0606"/>
<rect x="368.0" y="84.6" width="5.5" height="5.8" fill="#0a6e0a"/>
<rect x="372.9" y="84.6" width="5.5" height="5.8" fill="#f20000"/>
<rect x="377.9" y="84.6" width="5.5" height="5.8" fill="#f20000"/>
<rect x="382.9" y="84.6" width="5.5" height="5.8" fill="#f20000"/>
<rect x="387.9" y="84.6" width="5.5" height="5.8" fill="#f20000"/>
<rect x="392.9" y="84.6" width="5.5" height="5.8" fill="#7a0606"/>
<rect x="397.9" y="84.6" width="5.5" height="5.8" fill="#f20000"/>
<rect x="402.8" y="84.6" width="5.5" height="5.8" fill="#f20000"/>
<rect x="407.8" y="84.6" width="5.5" height="5.8" fill="#f20000"/>
<rect x="412.8" y="84.6" width="5.0" height="5.8" fill="#f20000"/>
<rect x="353.0" y="89.9" width="5.5" height="5.8" fill="#0c0c0c"/>
<rect x="358.0" y="89.9" width="5.5" height="5.8" fill="#7a0606"/>
<rect x="363.0" y="89.9" width="5.5" height="5.8" fill="#0c0c0c"/>
<rect x="368.0" y="89.9" width="5.5" height="5.8" fill="#0c0c0c"/>
<rect x="372.9" y="89.9" width="5.5" height="5.8" fill="#0c0c0c"/>
<rect x="377.9" y="89.9" width="5.5" height="5.8" fill="#f20000"/>
<rect x="382.9" y="89.9" width="5.5" height="5.8" fill="#f20000"/>
<rect x="387.9" y="89.9" width="5.5" height="5.8" fill="#f20000"/>
<rect x="392.9" y="89.9" width="5.5" height="5.8" fill="#1ad21a"/>
<rect x="397.9" y="89.9" width="5.5" height="5.8" fill="#f20000"/>
<rect x="402.8" y="89.9" width="5.5" height="5.8" fill="#7a0606"/>
<rect x="407.8" y="89.9" width="5.5" height="5.8" fill="#f20000"/>
<rect x="412.8" y="89.9" width="5.0" height="5.8" fill="#0a6e0a"/>
<rect x="353.0" y="95.2" width="5.5" height="5.8" fill="#0a6e0a"/>
<rect x="358.0" y="95.2" width="5.5" height="5.8" fill="#0a6e0a"/>
<rect x="363.0" y="95.2" width="5.5" height="5.8" fill="#0c0c0c"/>
<rect x="368.0" y="95.2" width="5.5" height="5.8" fill="#f20000"/>
<rect x="372.9" y="95.2" width="5.5" height="5.8" fill="#1ad21a"/>
<rect x="377.9" y="95.2" width="5.5" height="5.8" fill="#f20000"/>
<rect x="382.9" y="95.2" width="5.5" height="5.8" fill="#f20000"/>
<rect x="387.9" y="95.2" width="5.5" height="5.8" fill="#0a6e0a"/>
<rect x="392.9" y="95.2" width="5.5" height="5.8" fill="#0a6e0a"/>
<rect x="397.9" y="95.2" width="5.5" height="5.8" fill="#f20000"/>
<rect x="402.8" y="95.2" width="5.5" height="5.8" fill="#f20000"/>
<rect x="407.8" y="95.2" width="5.5" height="5.8" fill="#f20000"/>
<rect x="412.8" y="95.2" width="5.0" height="5.8" fill="#0a6e0a"/>
<rect x="353.0" y="100.4" width="5.5" height="5.8" fill="#0c0c0c"/>
<rect x="358.0" y="100.4" width="5.5" height="5.8" fill="#f20000"/>
<rect x="363.0" y="100.4" width="5.5" height="5.8" fill="#f20000"/>
<rect x="368.0" y="100.4" width="5.5" height="5.8" fill="#0c0c0c"/>
<rect x="372.9" y="100.4" width="5.5" height="5.8" fill="#f20000"/>
<rect x="377.9" y="100.4" width="5.5" height="5.8" fill="#f20000"/>
<rect x="382.9" y="100.4" width="5.5" height="5.8" fill="#f20000"/>
<rect x="387.9" y="100.4" width="5.5" height="5.8" fill="#f20000"/>
<rect x="392.9" y="100.4" width="5.5" height="5.8" fill="#f20000"/>
<rect x="397.9" y="100.4" width="5.5" height="5.8" fill="#0c0c0c"/>
<rect x="402.8" y="100.4" width="5.5" height="5.8" fill="#f20000"/>
<rect x="407.8" y="100.4" width="5.5" height="5.8" fill="#f20000"/>
<rect x="412.8" y="100.4" width="5.0" height="5.8" fill="#f20000"/>
<rect x="353.0" y="105.7" width="5.5" height="5.3" fill="#7a0606"/>
<rect x="358.0" y="105.7" width="5.5" height="5.3" fill="#0a6e0a"/>
<rect x="363.0" y="105.7" width="5.5" height="5.3" fill="#0c0c0c"/>
<rect x="368.0" y="105.7" width="5.5" height="5.3" fill="#0a6e0a"/>
<rect x="372.9" y="105.7" width="5.5" height="5.3" fill="#0c0c0c"/>
<rect x="377.9" y="105.7" width="5.5" height="5.3" fill="#f20000"/>
<rect x="382.9" y="105.7" width="5.5" height="5.3" fill="#f20000"/>
<rect x="387.9" y="105.7" width="5.5" height="5.3" fill="#0c0c0c"/>
<rect x="392.9" y="105.7" width="5.5" height="5.3" fill="#f20000"/>
<rect x="397.9" y="105.7" width="5.5" height="5.3" fill="#f20000"/>
<rect x="402.8" y="105.7" width="5.5" height="5.3" fill="#f20000"/>
<rect x="407.8" y="105.7" width="5.5" height="5.3" fill="#0c0c0c"/>
<rect x="412.8" y="105.7" width="5.0" height="5.3" fill="#1ad21a"/>
<rect x="353.0" y="113.7" width="5.5" height="5.5" fill="#0a6e0a"/>
<rect x="358.0" y="113.7" width="5.5" height="5.5" fill="#7a0606"/>
<rect x="363.0" y="113.7" width="5.5" height="5.5" fill="#1ad21a"/>
<rect x="368.0" y="113.7" width="5.5" height="5.5" fill="#f20000"/>
<rect x="372.9" y="113.7" width="5.5" height="5.5" fill="#0c0c0c"/>
<rect x="377.9" y="113.7" width="5.5" height="5.5" fill="#f20000"/>
<rect x="382.9" y="113.7" width="5.5" height="5.5" fill="#f20000"/>
<rect x="387.9" y="113.7" width="5.5" height="5.5" fill="#0c0c0c"/>
<rect x="392.9" y="113.7" width="5.5" height="5.5" fill="#0c0c0c"/>
<rect x="397.9" y="113.7" width="5.5" height="5.5" fill="#0c0c0c"/>
<rect x="402.8" y="113.7" width="5.5" height="5.5" fill="#f20000"/>
<rect x="407.8" y="113.7" width="5.5" height="5.5" fill="#f20000"/>
<rect x="412.8" y="113.7" width="5.0" height="5.5" fill="#0c0c0c"/>
<rect x="353.0" y="118.7" width="5.5" height="5.5" fill="#0c0c0c"/>
<rect x="358.0" y="118.7" width="5.5" height="5.5" fill="#0c0c0c"/>
<rect x="363.0" y="118.7" width="5.5" height="5.5" fill="#0c0c0c"/>
<rect x="368.0" y="118.7" width="5.5" height="5.5" fill="#0a6e0a"/>
<rect x="372.9" y="118.7" width="5.5" height="5.5" fill="#7a0606"/>
<rect x="377.9" y="118.7" width="5.5" height="5.5" fill="#f20000"/>
<rect x="382.9" y="118.7" width="5.5" height="5.5" fill="#f20000"/>
<rect x="387.9" y="118.7" width="5.5" height="5.5" fill="#f20000"/>
<rect x="392.9" y="118.7" width="5.5" height="5.5" fill="#f20000"/>
<rect x="397.9" y="118.7" width="5.5" height="5.5" fill="#0c0c0c"/>
<rect x="402.8" y="118.7" width="5.5" height="5.5" fill="#f20000"/>
<rect x="407.8" y="118.7" width="5.5" height="5.5" fill="#f20000"/>
<rect x="412.8" y="118.7" width="5.0" height="5.5" fill="#0c0c0c"/>
<rect x="353.0" y="123.7" width="5.5" height="5.5" fill="#0c0c0c"/>
<rect x="358.0" y="123.7" width="5.5" height="5.5" fill="#0c0c0c"/>
<rect x="363.0" y="123.7" width="5.5" height="5.5" fill="#0c0c0c"/>
<rect x="368.0" y="123.7" width="5.5" height="5.5" fill="#f20000"/>
<rect x="372.9" y="123.7" width="5.5" height="5.5" fill="#f20000"/>
<rect x="377.9" y="123.7" width="5.5" height="5.5" fill="#f20000"/>
<rect x="382.9" y="123.7" width="5.5" height="5.5" fill="#7a0606"/>
<rect x="387.9" y="123.7" width="5.5" height="5.5" fill="#f20000"/>
<rect x="392.9" y="123.7" width="5.5" height="5.5" fill="#7a0606"/>
<rect x="397.9" y="123.7" width="5.5" height="5.5" fill="#7a0606"/>
<rect x="402.8" y="123.7" width="5.5" height="5.5" fill="#f20000"/>
<rect x="407.8" y="123.7" width="5.5" height="5.5" fill="#f20000"/>
<rect x="412.8" y="123.7" width="5.0" height="5.5" fill="#f20000"/>
<rect x="353.0" y="128.7" width="5.5" height="5.0" fill="#7a0606"/>
<rect x="358.0" y="128.7" width="5.5" height="5.0" fill="#0c0c0c"/>
<rect x="363.0" y="128.7" width="5.5" height="5.0" fill="#7a0606"/>
<rect x="368.0" y="128.7" width="5.5" height="5.0" fill="#f20000"/>
<rect x="372.9" y="128.7" width="5.5" height="5.0" fill="#f20000"/>
<rect x="377.9" y="128.7" width="5.5" height="5.0" fill="#f20000"/>
<rect x="382.9" y="128.7" width="5.5" height="5.0" fill="#f20000"/>
<rect x="387.9" y="128.7" width="5.5" height="5.0" fill="#f20000"/>
<rect x="392.9" y="128.7" width="5.5" height="5.0" fill="#7a0606"/>
<rect x="397.9" y="128.7" width="5.5" height="5.0" fill="#7a0606"/>
<rect x="402.8" y="128.7" width="5.5" height="5.0" fill="#f20000"/>
<rect x="407.8" y="128.7" width="5.5" height="5.0" fill="#f20000"/>
<rect x="412.8" y="128.7" width="5.0" height="5.0" fill="#f20000"/>
<rect x="353.0" y="136.1" width="5.5" height="5.7" fill="#f20000"/>
<rect x="358.0" y="136.1" width="5.5" height="5.7" fill="#0c0c0c"/>
<rect x="363.0" y="136.1" width="5.5" height="5.7" fill="#f20000"/>
<rect x="368.0" y="136.1" width="5.5" height="5.7" fill="#7a0606"/>
<rect x="372.9" y="136.1" width="5.5" height="5.7" fill="#0c0c0c"/>
<rect x="377.9" y="136.1" width="5.5" height="5.7" fill="#f20000"/>
<rect x="382.9" y="136.1" width="5.5" height="5.7" fill="#f20000"/>
<rect x="387.9" y="136.1" width="5.5" height="5.7" fill="#0c0c0c"/>
<rect x="392.9" y="136.1" width="5.5" height="5.7" fill="#f20000"/>
<rect x="397.9" y="136.1" width="5.5" height="5.7" fill="#0a6e0a"/>
<rect x="402.8" y="136.1" width="5.5" height="5.7" fill="#0c0c0c"/>
<rect x="407.8" y="136.1" width="5.5" height="5.7" fill="#7a0606"/>
<rect x="412.8" y="136.1" width="5.0" height="5.7" fill="#0a6e0a"/>
<rect x="353.0" y="141.3" width="5.5" height="5.7" fill="#0c0c0c"/>
<rect x="358.0" y="141.3" width="5.5" height="5.7" fill="#0c0c0c"/>
<rect x="363.0" y="141.3" width="5.5" height="5.7" fill="#0a6e0a"/>
<rect x="368.0" y="141.3" width="5.5" height="5.7" fill="#0c0c0c"/>
<rect x="372.9" y="141.3" width="5.5" height="5.7" fill="#f20000"/>
<rect x="377.9" y="141.3" width="5.5" height="5.7" fill="#f20000"/>
<rect x="382.9" y="141.3" width="5.5" height="5.7" fill="#f20000"/>
<rect x="387.9" y="141.3" width="5.5" height="5.7" fill="#0c0c0c"/>
<rect x="392.9" y="141.3" width="5.5" height="5.7" fill="#0a6e0a"/>
<rect x="397.9" y="141.3" width="5.5" height="5.7" fill="#0a6e0a"/>
<rect x="402.8" y="141.3" width="5.5" height="5.7" fill="#7a0606"/>
<rect x="407.8" y="141.3" width="5.5" height="5.7" fill="#7a0606"/>
<rect x="412.8" y="141.3" width="5.0" height="5.7" fill="#f20000"/>
<rect x="353.0" y="146.5" width="5.5" height="5.7" fill="#f20000"/>
<rect x="358.0" y="146.5" width="5.5" height="5.7" fill="#0c0c0c"/>
<rect x="363.0" y="146.5" width="5.5" height="5.7" fill="#7a0606"/>
<rect x="368.0" y="146.5" width="5.5" height="5.7" fill="#0a6e0a"/>
<rect x="372.9" y="146.5" width="5.5" height="5.7" fill="#f20000"/>
<rect x="377.9" y="146.5" width="5.5" height="5.7" fill="#f20000"/>
<rect x="382.9" y="146.5" width="5.5" height="5.7" fill="#f20000"/>
<rect x="387.9" y="146.5" width="5.5" height="5.7" fill="#0a6e0a"/>
<rect x="392.9" y="146.5" width="5.5" height="5.7" fill="#0a6e0a"/>
<rect x="397.9" y="146.5" width="5.5" height="5.7" fill="#f20000"/>
<rect x="402.8" y="146.5" width="5.5" height="5.7" fill="#f20000"/>
<rect x="407.8" y="146.5" width="5.5" height="5.7" fill="#f20000"/>
<rect x="412.8" y="146.5" width="5.0" height="5.7" fill="#1ad21a"/>
<rect x="353.0" y="151.7" width="5.5" height="5.7" fill="#0c0c0c"/>
<rect x="358.0" y="151.7" width="5.5" height="5.7" fill="#f20000"/>
<rect x="363.0" y="151.7" width="5.5" height="5.7" fill="#0a6e0a"/>
<rect x="368.0" y="151.7" width="5.5" height="5.7" fill="#f20000"/>
<rect x="372.9" y="151.7" width="5.5" height="5.7" fill="#f20000"/>
<rect x="377.9" y="151.7" width="5.5" height="5.7" fill="#f20000"/>
<rect x="382.9" y="151.7" width="5.5" height="5.7" fill="#0a6e0a"/>
<rect x="387.9" y="151.7" width="5.5" height="5.7" fill="#0a6e0a"/>
<rect x="392.9" y="151.7" width="5.5" height="5.7" fill="#0c0c0c"/>
<rect x="397.9" y="151.7" width="5.5" height="5.7" fill="#0a6e0a"/>
<rect x="402.8" y="151.7" width="5.5" height="5.7" fill="#7a0606"/>
<rect x="407.8" y="151.7" width="5.5" height="5.7" fill="#f20000"/>
<rect x="412.8" y="151.7" width="5.0" height="5.7" fill="#f20000"/>
<rect x="353.0" y="156.9" width="5.5" height="5.7" fill="#f20000"/>
<rect x="358.0" y="156.9" width="5.5" height="5.7" fill="#0c0c0c"/>
<rect x="363.0" y="156.9" width="5.5" height="5.7" fill="#7a0606"/>
<rect x="368.0" y="156.9" width="5.5" height="5.7" fill="#f20000"/>
<rect x="372.9" y="156.9" width="5.5" height="5.7" fill="#0a6e0a"/>
<rect x="377.9" y="156.9" width="5.5" height="5.7" fill="#0a6e0a"/>
<rect x="382.9" y="156.9" width="5.5" height="5.7" fill="#f20000"/>
<rect x="387.9" y="156.9" width="5.5" height="5.7" fill="#f20000"/>
<rect x="392.9" y="156.9" width="5.5" height="5.7" fill="#f20000"/>
<rect x="397.9" y="156.9" width="5.5" height="5.7" fill="#0c0c0c"/>
<rect x="402.8" y="156.9" width="5.5" height="5.7" fill="#1ad21a"/>
<rect x="407.8" y="156.9" width="5.5" height="5.7" fill="#0a6e0a"/>
<rect x="412.8" y="156.9" width="5.0" height="5.7" fill="#0a6e0a"/>
<rect x="353.0" y="162.1" width="5.5" height="5.7" fill="#7a0606"/>
<rect x="358.0" y="162.1" width="5.5" height="5.7" fill="#0c0c0c"/>
<rect x="363.0" y="162.1" width="5.5" height="5.7" fill="#7a0606"/>
<rect x="368.0" y="162.1" width="5.5" height="5.7" fill="#0c0c0c"/>
<rect x="372.9" y="162.1" width="5.5" height="5.7" fill="#f20000"/>
<rect x="377.9" y="162.1" width="5.5" height="5.7" fill="#f20000"/>
<rect x="382.9" y="162.1" width="5.5" height="5.7" fill="#f20000"/>
<rect x="387.9" y="162.1" width="5.5" height="5.7" fill="#0c0c0c"/>
<rect x="392.9" y="162.1" width="5.5" height="5.7" fill="#0a6e0a"/>
<rect x="397.9" y="162.1" width="5.5" height="5.7" fill="#f20000"/>
<rect x="402.8" y="162.1" width="5.5" height="5.7" fill="#f20000"/>
<rect x="407.8" y="162.1" width="5.5" height="5.7" fill="#f20000"/>
<rect x="412.8" y="162.1" width="5.0" height="5.7" fill="#7a0606"/>
<rect x="353.0" y="167.3" width="5.5" height="5.7" fill="#0c0c0c"/>
<rect x="358.0" y="167.3" width="5.5" height="5.7" fill="#0a6e0a"/>
<rect x="363.0" y="167.3" width="5.5" height="5.7" fill="#7a0606"/>
<rect x="368.0" y="167.3" width="5.5" height="5.7" fill="#1ad21a"/>
<rect x="372.9" y="167.3" width="5.5" height="5.7" fill="#f20000"/>
<rect x="377.9" y="167.3" width="5.5" height="5.7" fill="#f20000"/>
<rect x="382.9" y="167.3" width="5.5" height="5.7" fill="#0a6e0a"/>
<rect x="387.9" y="167.3" width="5.5" height="5.7" fill="#0c0c0c"/>
<rect x="392.9" y="167.3" width="5.5" height="5.7" fill="#0a6e0a"/>
<rect x="397.9" y="167.3" width="5.5" height="5.7" fill="#f20000"/>
<rect x="402.8" y="167.3" width="5.5" height="5.7" fill="#f20000"/>
<rect x="407.8" y="167.3" width="5.5" height="5.7" fill="#f20000"/>
<rect x="412.8" y="167.3" width="5.0" height="5.7" fill="#0c0c0c"/>
<rect x="353.0" y="172.5" width="5.5" height="5.2" fill="#7a0606"/>
<rect x="358.0" y="172.5" width="5.5" height="5.2" fill="#0a6e0a"/>
<rect x="363.0" y="172.5" width="5.5" height="5.2" fill="#0c0c0c"/>
<rect x="368.0" y="172.5" width="5.5" height="5.2" fill="#1ad21a"/>
<rect x="372.9" y="172.5" width="5.5" height="5.2" fill="#f20000"/>
<rect x="377.9" y="172.5" width="5.5" height="5.2" fill="#f20000"/>
<rect x="382.9" y="172.5" width="5.5" height="5.2" fill="#0a6e0a"/>
<rect x="387.9" y="172.5" width="5.5" height="5.2" fill="#1ad21a"/>
<rect x="392.9" y="172.5" width="5.5" height="5.2" fill="#1ad21a"/>
<rect x="397.9" y="172.5" width="5.5" height="5.2" fill="#f20000"/>
<rect x="402.8" y="172.5" width="5.5" height="5.2" fill="#f20000"/>
<rect x="407.8" y="172.5" width="5.5" height="5.2" fill="#f20000"/>
<rect x="412.8" y="172.5" width="5.0" height="5.2" fill="#0c0c0c"/>
<rect x="353.0" y="179.4" width="5.5" height="5.7" fill="#f20000"/>
<rect x="358.0" y="179.4" width="5.5" height="5.7" fill="#f20000"/>
<rect x="363.0" y="179.4" width="5.5" height="5.7" fill="#f20000"/>
<rect x="368.0" y="179.4" width="5.5" height="5.7" fill="#0a6e0a"/>
<rect x="372.9" y="179.4" width="5.5" height="5.7" fill="#f20000"/>
<rect x="377.9" y="179.4" width="5.5" height="5.7" fill="#0c0c0c"/>
<rect x="382.9" y="179.4" width="5.5" height="5.7" fill="#f20000"/>
<rect x="387.9" y="179.4" width="5.5" height="5.7" fill="#1ad21a"/>
<rect x="392.9" y="179.4" width="5.5" height="5.7" fill="#0c0c0c"/>
<rect x="397.9" y="179.4" width="5.5" height="5.7" fill="#0a6e0a"/>
<rect x="402.8" y="179.4" width="5.5" height="5.7" fill="#f20000"/>
<rect x="407.8" y="179.4" width="5.5" height="5.7" fill="#f20000"/>
<rect x="412.8" y="179.4" width="5.0" height="5.7" fill="#0a6e0a"/>
<rect x="353.0" y="184.6" width="5.5" height="5.7" fill="#0a6e0a"/>
<rect x="358.0" y="184.6" width="5.5" height="5.7" fill="#0a6e0a"/>
<rect x="363.0" y="184.6" width="5.5" height="5.7" fill="#0a6e0a"/>
<rect x="368.0" y="184.6" width="5.5" height="5.7" fill="#1ad21a"/>
<rect x="372.9" y="184.6" width="5.5" height="5.7" fill="#0a6e0a"/>
<rect x="377.9" y="184.6" width="5.5" height="5.7" fill="#0a6e0a"/>
<rect x="382.9" y="184.6" width="5.5" height="5.7" fill="#0a6e0a"/>
<rect x="387.9" y="184.6" width="5.5" height="5.7" fill="#0a6e0a"/>
<rect x="392.9" y="184.6" width="5.5" height="5.7" fill="#f20000"/>
<rect x="397.9" y="184.6" width="5.5" height="5.7" fill="#0a6e0a"/>
<rect x="402.8" y="184.6" width="5.5" height="5.7" fill="#0a6e0a"/>
<rect x="407.8" y="184.6" width="5.5" height="5.7" fill="#7a0606"/>
<rect x="412.8" y="184.6" width="5.0" height="5.7" fill="#0a6e0a"/>
<rect x="353.0" y="189.8" width="5.5" height="5.2" fill="#f20000"/>
<rect x="358.0" y="189.8" width="5.5" height="5.2" fill="#0c0c0c"/>
<rect x="363.0" y="189.8" width="5.5" height="5.2" fill="#f20000"/>
<rect x="368.0" y="189.8" width="5.5" height="5.2" fill="#f20000"/>
<rect x="372.9" y="189.8" width="5.5" height="5.2" fill="#0a6e0a"/>
<rect x="377.9" y="189.8" width="5.5" height="5.2" fill="#0c0c0c"/>
<rect x="382.9" y="189.8" width="5.5" height="5.2" fill="#f20000"/>
<rect x="387.9" y="189.8" width="5.5" height="5.2" fill="#0c0c0c"/>
<rect x="392.9" y="189.8" width="5.5" height="5.2" fill="#f20000"/>
<rect x="397.9" y="189.8" width="5.5" height="5.2" fill="#f20000"/>
<rect x="402.8" y="189.8" width="5.5" height="5.2" fill="#0c0c0c"/>
<rect x="407.8" y="189.8" width="5.5" height="5.2" fill="#0c0c0c"/>
<rect x="412.8" y="189.8" width="5.0" height="5.2" fill="#0a6e0a"/>
<rect x="353.0" y="196.7" width="5.5" height="5.6" fill="#f20000"/>
<rect x="358.0" y="196.7" width="5.5" height="5.6" fill="#f20000"/>
<rect x="363.0" y="196.7" width="5.5" height="5.6" fill="#f20000"/>
<rect x="368.0" y="196.7" width="5.5" height="5.6" fill="#1ad21a"/>
<rect x="372.9" y="196.7" width="5.5" height="5.6" fill="#f20000"/>
<rect x="377.9" y="196.7" width="5.5" height="5.6" fill="#f20000"/>
<rect x="382.9" y="196.7" width="5.5" height="5.6" fill="#0a6e0a"/>
<rect x="387.9" y="196.7" width="5.5" height="5.6" fill="#f20000"/>
<rect x="392.9" y="196.7" width="5.5" height="5.6" fill="#f20000"/>
<rect x="397.9" y="196.7" width="5.5" height="5.6" fill="#f20000"/>
<rect x="402.8" y="196.7" width="5.5" height="5.6" fill="#0a6e0a"/>
<rect x="407.8" y="196.7" width="5.5" height="5.6" fill="#1ad21a"/>
<rect x="412.8" y="196.7" width="5.0" height="5.6" fill="#f20000"/>
<rect x="353.0" y="201.8" width="5.5" height="5.6" fill="#0c0c0c"/>
<rect x="358.0" y="201.8" width="5.5" height="5.6" fill="#0c0c0c"/>
<rect x="363.0" y="201.8" width="5.5" height="5.6" fill="#7a0606"/>
<rect x="368.0" y="201.8" width="5.5" height="5.6" fill="#f20000"/>
<rect x="372.9" y="201.8" width="5.5" height="5.6" fill="#7a0606"/>
<rect x="377.9" y="201.8" width="5.5" height="5.6" fill="#f20000"/>
<rect x="382.9" y="201.8" width="5.5" height="5.6" fill="#f20000"/>
<rect x="387.9" y="201.8" width="5.5" height="5.6" fill="#7a0606"/>
<rect x="392.9" y="201.8" width="5.5" height="5.6" fill="#0c0c0c"/>
<rect x="397.9" y="201.8" width="5.5" height="5.6" fill="#f20000"/>
<rect x="402.8" y="201.8" width="5.5" height="5.6" fill="#f20000"/>
<rect x="407.8" y="201.8" width="5.5" height="5.6" fill="#f20000"/>
<rect x="412.8" y="201.8" width="5.0" height="5.6" fill="#1ad21a"/>
<rect x="353.0" y="206.9" width="5.5" height="5.6" fill="#1ad21a"/>
<rect x="358.0" y="206.9" width="5.5" height="5.6" fill="#1ad21a"/>
<rect x="363.0" y="206.9" width="5.5" height="5.6" fill="#1ad21a"/>
<rect x="368.0" y="206.9" width="5.5" height="5.6" fill="#0a6e0a"/>
<rect x="372.9" y="206.9" width="5.5" height="5.6" fill="#0a6e0a"/>
<rect x="377.9" y="206.9" width="5.5" height="5.6" fill="#f20000"/>
<rect x="382.9" y="206.9" width="5.5" height="5.6" fill="#f20000"/>
<rect x="387.9" y="206.9" width="5.5" height="5.6" fill="#7a0606"/>
<rect x="392.9" y="206.9" width="5.5" height="5.6" fill="#1ad21a"/>
<rect x="397.9" y="206.9" width="5.5" height="5.6" fill="#f20000"/>
<rect x="402.8" y="206.9" width="5.5" height="5.6" fill="#7a0606"/>
<rect x="407.8" y="206.9" width="5.5" height="5.6" fill="#f20000"/>
<rect x="412.8" y="206.9" width="5.0" height="5.6" fill="#1ad21a"/>
<rect x="353.0" y="212.1" width="5.5" height="5.1" fill="#0c0c0c"/>
<rect x="358.0" y="212.1" width="5.5" height="5.1" fill="#1ad21a"/>
<rect x="363.0" y="212.1" width="5.5" height="5.1" fill="#1ad21a"/>
<rect x="368.0" y="212.1" width="5.5" height="5.1" fill="#0c0c0c"/>
<rect x="372.9" y="212.1" width="5.5" height="5.1" fill="#0c0c0c"/>
<rect x="377.9" y="212.1" width="5.5" height="5.1" fill="#0c0c0c"/>
<rect x="382.9" y="212.1" width="5.5" height="5.1" fill="#f20000"/>
<rect x="387.9" y="212.1" width="5.5" height="5.1" fill="#0a6e0a"/>
<rect x="392.9" y="212.1" width="5.5" height="5.1" fill="#f20000"/>
<rect x="397.9" y="212.1" width="5.5" height="5.1" fill="#f20000"/>
<rect x="402.8" y="212.1" width="5.5" height="5.1" fill="#0c0c0c"/>
<rect x="407.8" y="212.1" width="5.5" height="5.1" fill="#0a6e0a"/>
<rect x="412.8" y="212.1" width="5.0" height="5.1" fill="#0a6e0a"/>
<rect x="353.0" y="218.9" width="5.5" height="5.7" fill="#0a6e0a"/>
<rect x="358.0" y="218.9" width="5.5" height="5.7" fill="#0a6e0a"/>
<rect x="363.0" y="218.9" width="5.5" height="5.7" fill="#7a0606"/>
<rect x="368.0" y="218.9" width="5.5" height="5.7" fill="#0a6e0a"/>
<rect x="372.9" y="218.9" width="5.5" height="5.7" fill="#f20000"/>
<rect x="377.9" y="218.9" width="5.5" height="5.7" fill="#f20000"/>
<rect x="382.9" y="218.9" width="5.5" height="5.7" fill="#7a0606"/>
<rect x="387.9" y="218.9" width="5.5" height="5.7" fill="#f20000"/>
<rect x="392.9" y="218.9" width="5.5" height="5.7" fill="#f20000"/>
<rect x="397.9" y="218.9" width="5.5" height="5.7" fill="#f20000"/>
<rect x="402.8" y="218.9" width="5.5" height="5.7" fill="#f20000"/>
<rect x="407.8" y="218.9" width="5.5" height="5.7" fill="#0c0c0c"/>
<rect x="412.8" y="218.9" width="5.0" height="5.7" fill="#0c0c0c"/>
<rect x="353.0" y="224.1" width="5.5" height="5.7" fill="#f20000"/>
<rect x="358.0" y="224.1" width="5.5" height="5.7" fill="#7a0606"/>
<rect x="363.0" y="224.1" width="5.5" height="5.7" fill="#f20000"/>
<rect x="368.0" y="224.1" width="5.5" height="5.7" fill="#f20000"/>
<rect x="372.9" y="224.1" width="5.5" height="5.7" fill="#f20000"/>
<rect x="377.9" y="224.1" width="5.5" height="5.7" fill="#f20000"/>
<rect x="382.9" y="224.1" width="5.5" height="5.7" fill="#7a0606"/>
<rect x="387.9" y="224.1" width="5.5" height="5.7" fill="#f20000"/>
<rect x="392.9" y="224.1" width="5.5" height="5.7" fill="#f20000"/>
<rect x="397.9" y="224.1" width="5.5" height="5.7" fill="#f20000"/>
<rect x="402.8" y="224.1" width="5.5" height="5.7" fill="#0c0c0c"/>
<rect x="407.8" y="224.1" width="5.5" height="5.7" fill="#0c0c0c"/>
<rect x="412.8" y="224.1" width="5.0" height="5.7" fill="#1ad21a"/>
<rect x="353.0" y="229.3" width="5.5" height="5.7" fill="#f20000"/>
<rect x="358.0" y="229.3" width="5.5" height="5.7" fill="#f20000"/>
<rect x="363.0" y="229.3" width="5.5" height="5.7" fill="#f20000"/>
<rect x="368.0" y="229.3" width="5.5" height="5.7" fill="#f20000"/>
<rect x="372.9" y="229.3" width="5.5" height="5.7" fill="#f20000"/>
<rect x="377.9" y="229.3" width="5.5" height="5.7" fill="#0c0c0c"/>
<rect x="382.9" y="229.3" width="5.5" height="5.7" fill="#f20000"/>
<rect x="387.9" y="229.3" width="5.5" height="5.7" fill="#f20000"/>
<rect x="392.9" y="229.3" width="5.5" height="5.7" fill="#f20000"/>
<rect x="397.9" y="229.3" width="5.5" height="5.7" fill="#f20000"/>
<rect x="402.8" y="229.3" width="5.5" height="5.7" fill="#f20000"/>
<rect x="407.8" y="229.3" width="5.5" height="5.7" fill="#7a0606"/>
<rect x="412.8" y="229.3" width="5.0" height="5.7" fill="#1ad21a"/>
<rect x="353.0" y="234.5" width="5.5" height="5.7" fill="#7a0606"/>
<rect x="358.0" y="234.5" width="5.5" height="5.7" fill="#1ad21a"/>
<rect x="363.0" y="234.5" width="5.5" height="5.7" fill="#1ad21a"/>
<rect x="368.0" y="234.5" width="5.5" height="5.7" fill="#0c0c0c"/>
<rect x="372.9" y="234.5" width="5.5" height="5.7" fill="#7a0606"/>
<rect x="377.9" y="234.5" width="5.5" height="5.7" fill="#1ad21a"/>
<rect x="382.9" y="234.5" width="5.5" height="5.7" fill="#0a6e0a"/>
<rect x="387.9" y="234.5" width="5.5" height="5.7" fill="#7a0606"/>
<rect x="392.9" y="234.5" width="5.5" height="5.7" fill="#f20000"/>
<rect x="397.9" y="234.5" width="5.5" height="5.7" fill="#7a0606"/>
<rect x="402.8" y="234.5" width="5.5" height="5.7" fill="#7a0606"/>
<rect x="407.8" y="234.5" width="5.5" height="5.7" fill="#1ad21a"/>
<rect x="412.8" y="234.5" width="5.0" height="5.7" fill="#0a6e0a"/>
<rect x="353.0" y="239.7" width="5.5" height="5.7" fill="#0a6e0a"/>
<rect x="358.0" y="239.7" width="5.5" height="5.7" fill="#0c0c0c"/>
<rect x="363.0" y="239.7" width="5.5" height="5.7" fill="#f20000"/>
<rect x="368.0" y="239.7" width="5.5" height="5.7" fill="#1ad21a"/>
<rect x="372.9" y="239.7" width="5.5" height="5.7" fill="#7a0606"/>
<rect x="377.9" y="239.7" width="5.5" height="5.7" fill="#f20000"/>
<rect x="382.9" y="239.7" width="5.5" height="5.7" fill="#0a6e0a"/>
<rect x="387.9" y="239.7" width="5.5" height="5.7" fill="#f20000"/>
<rect x="392.9" y="239.7" width="5.5" height="5.7" fill="#0c0c0c"/>
<rect x="397.9" y="239.7" width="5.5" height="5.7" fill="#7a0606"/>
<rect x="402.8" y="239.7" width="5.5" height="5.7" fill="#f20000"/>
<rect x="407.8" y="239.7" width="5.5" height="5.7" fill="#f20000"/>
<rect x="412.8" y="239.7" width="5.0" height="5.7" fill="#0c0c0c"/>
<rect x="353.0" y="244.9" width="5.5" height="5.7" fill="#7a0606"/>
<rect x="358.0" y="244.9" width="5.5" height="5.7" fill="#0c0c0c"/>
<rect x="363.0" y="244.9" width="5.5" height="5.7" fill="#f20000"/>
<rect x="368.0" y="244.9" width="5.5" height="5.7" fill="#0c0c0c"/>
<rect x="372.9" y="244.9" width="5.5" height="5.7" fill="#f20000"/>
<rect x="377.9" y="244.9" width="5.5" height="5.7" fill="#f20000"/>
<rect x="382.9" y="244.9" width="5.5" height="5.7" fill="#0a6e0a"/>
<rect x="387.9" y="244.9" width="5.5" height="5.7" fill="#7a0606"/>
<rect x="392.9" y="244.9" width="5.5" height="5.7" fill="#f20000"/>
<rect x="397.9" y="244.9" width="5.5" height="5.7" fill="#f20000"/>
<rect x="402.8" y="244.9" width="5.5" height="5.7" fill="#f20000"/>
<rect x="407.8" y="244.9" width="5.5" height="5.7" fill="#f20000"/>
<rect x="412.8" y="244.9" width="5.0" height="5.7" fill="#0a6e0a"/>
<rect x="353.0" y="250.1" width="5.5" height="5.7" fill="#0a6e0a"/>
<rect x="358.0" y="250.1" width="5.5" height="5.7" fill="#0a6e0a"/>
<rect x="363.0" y="250.1" width="5.5" height="5.7" fill="#1ad21a"/>
<rect x="368.0" y="250.1" width="5.5" height="5.7" fill="#0a6e0a"/>
<rect x="372.9" y="250.1" width="5.5" height="5.7" fill="#0a6e0a"/>
<rect x="377.9" y="250.1" width="5.5" height="5.7" fill="#0a6e0a"/>
<rect x="382.9" y="250.1" width="5.5" height="5.7" fill="#0a6e0a"/>
<rect x="387.9" y="250.1" width="5.5" height="5.7" fill="#0a6e0a"/>
<rect x="392.9" y="250.1" width="5.5" height="5.7" fill="#0a6e0a"/>
<rect x="397.9" y="250.1" width="5.5" height="5.7" fill="#0a6e0a"/>
<rect x="402.8" y="250.1" width="5.5" height="5.7" fill="#0c0c0c"/>
<rect x="407.8" y="250.1" width="5.5" height="5.7" fill="#0c0c0c"/>
<rect x="412.8" y="250.1" width="5.0" height="5.7" fill="#0a6e0a"/>
<rect x="353.0" y="255.3" width="5.5" height="5.7" fill="#f20000"/>
<rect x="358.0" y="255.3" width="5.5" height="5.7" fill="#7a0606"/>
<rect x="363.0" y="255.3" width="5.5" height="5.7" fill="#0a6e0a"/>
<rect x="368.0" y="255.3" width="5.5" height="5.7" fill="#f20000"/>
<rect x="372.9" y="255.3" width="5.5" height="5.7" fill="#0a6e0a"/>
<rect x="377.9" y="255.3" width="5.5" height="5.7" fill="#0a6e0a"/>
<rect x="382.9" y="255.3" width="5.5" height="5.7" fill="#f20000"/>
<rect x="387.9" y="255.3" width="5.5" height="5.7" fill="#f20000"/>
<rect x="392.9" y="255.3" width="5.5" height="5.7" fill="#f20000"/>
<rect x="397.9" y="255.3" width="5.5" height="5.7" fill="#f20000"/>
<rect x="402.8" y="255.3" width="5.5" height="5.7" fill="#f20000"/>
<rect x="407.8" y="255.3" width="5.5" height="5.7" fill="#1ad21a"/>
<rect x="412.8" y="255.3" width="5.0" height="5.7" fill="#0a6e0a"/>
<rect x="353.0" y="260.5" width="5.5" height="5.7" fill="#f20000"/>
<rect x="358.0" y="260.5" width="5.5" height="5.7" fill="#1ad21a"/>
<rect x="363.0" y="260.5" width="5.5" height="5.7" fill="#0c0c0c"/>
<rect x="368.0" y="260.5" width="5.5" height="5.7" fill="#7a0606"/>
<rect x="372.9" y="260.5" width="5.5" height="5.7" fill="#7a0606"/>
<rect x="377.9" y="260.5" width="5.5" height="5.7" fill="#7a0606"/>
<rect x="382.9" y="260.5" width="5.5" height="5.7" fill="#1ad21a"/>
<rect x="387.9" y="260.5" width="5.5" height="5.7" fill="#f20000"/>
<rect x="392.9" y="260.5" width="5.5" height="5.7" fill="#f20000"/>
<rect x="397.9" y="260.5" width="5.5" height="5.7" fill="#f20000"/>
<rect x="402.8" y="260.5" width="5.5" height="5.7" fill="#f20000"/>
<rect x="407.8" y="260.5" width="5.5" height="5.7" fill="#0a6e0a"/>
<rect x="412.8" y="260.5" width="5.0" height="5.7" fill="#f20000"/>
<rect x="353.0" y="265.7" width="5.5" height="5.7" fill="#0c0c0c"/>
<rect x="358.0" y="265.7" width="5.5" height="5.7" fill="#1ad21a"/>
<rect x="363.0" y="265.7" width="5.5" height="5.7" fill="#1ad21a"/>
<rect x="368.0" y="265.7" width="5.5" height="5.7" fill="#7a0606"/>
<rect x="372.9" y="265.7" width="5.5" height="5.7" fill="#0c0c0c"/>
<rect x="377.9" y="265.7" width="5.5" height="5.7" fill="#7a0606"/>
<rect x="382.9" y="265.7" width="5.5" height="5.7" fill="#0c0c0c"/>
<rect x="387.9" y="265.7" width="5.5" height="5.7" fill="#1ad21a"/>
<rect x="392.9" y="265.7" width="5.5" height="5.7" fill="#0a6e0a"/>
<rect x="397.9" y="265.7" width="5.5" height="5.7" fill="#0c0c0c"/>
<rect x="402.8" y="265.7" width="5.5" height="5.7" fill="#0c0c0c"/>
<rect x="407.8" y="265.7" width="5.5" height="5.7" fill="#0c0c0c"/>
<rect x="412.8" y="265.7" width="5.0" height="5.7" fill="#0a6e0a"/>
<rect x="353.0" y="270.9" width="5.5" height="5.7" fill="#f20000"/>
<rect x="358.0" y="270.9" width="5.5" height="5.7" fill="#0a6e0a"/>
<rect x="363.0" y="270.9" width="5.5" height="5.7" fill="#1ad21a"/>
<rect x="368.0" y="270.9" width="5.5" height="5.7" fill="#7a0606"/>
<rect x="372.9" y="270.9" width="5.5" height="5.7" fill="#7a0606"/>
<rect x="377.9" y="270.9" width="5.5" height="5.7" fill="#0a6e0a"/>
<rect x="382.9" y="270.9" width="5.5" height="5.7" fill="#0a6e0a"/>
<rect x="387.9" y="270.9" width="5.5" height="5.7" fill="#f20000"/>
<rect x="392.9" y="270.9" width="5.5" height="5.7" fill="#f20000"/>
<rect x="397.9" y="270.9" width="5.5" height="5.7" fill="#0c0c0c"/>
<rect x="402.8" y="270.9" width="5.5" height="5.7" fill="#f20000"/>
<rect x="407.8" y="270.9" width="5.5" height="5.7" fill="#0a6e0a"/>
<rect x="412.8" y="270.9" width="5.0" height="5.7" fill="#0a6e0a"/>
<rect x="353.0" y="276.1" width="5.5" height="5.7" fill="#1ad21a"/>
<rect x="358.0" y="276.1" width="5.5" height="5.7" fill="#1ad21a"/>
<rect x="363.0" y="276.1" width="5.5" height="5.7" fill="#0a6e0a"/>
<rect x="368.0" y="276.1" width="5.5" height="5.7" fill="#0c0c0c"/>
<rect x="372.9" y="276.1" width="5.5" height="5.7" fill="#0c0c0c"/>
<rect x="377.9" y="276.1" width="5.5" height="5.7" fill="#f20000"/>
<rect x="382.9" y="276.1" width="5.5" height="5.7" fill="#0c0c0c"/>
<rect x="387.9" y="276.1" width="5.5" height="5.7" fill="#0c0c0c"/>
<rect x="392.9" y="276.1" width="5.5" height="5.7" fill="#0a6e0a"/>
<rect x="397.9" y="276.1" width="5.5" height="5.7" fill="#0a6e0a"/>
<rect x="402.8" y="276.1" width="5.5" height="5.7" fill="#0a6e0a"/>
<rect x="407.8" y="276.1" width="5.5" height="5.7" fill="#1ad21a"/>
<rect x="412.8" y="276.1" width="5.0" height="5.7" fill="#0c0c0c"/>
<rect x="353.0" y="281.3" width="5.5" height="5.7" fill="#0a6e0a"/>
<rect x="358.0" y="281.3" width="5.5" height="5.7" fill="#0a6e0a"/>
<rect x="363.0" y="281.3" width="5.5" height="5.7" fill="#0a6e0a"/>
<rect x="368.0" y="281.3" width="5.5" height="5.7" fill="#0a6e0a"/>
<rect x="372.9" y="281.3" width="5.5" height="5.7" fill="#0c0c0c"/>
<rect x="377.9" y="281.3" width="5.5" height="5.7" fill="#1ad21a"/>
<rect x="382.9" y="281.3" width="5.5" height="5.7" fill="#1ad21a"/>
<rect x="387.9" y="281.3" width="5.5" height="5.7" fill="#0a6e0a"/>
<rect x="392.9" y="281.3" width="5.5" height="5.7" fill="#0a6e0a"/>
<rect x="397.9" y="281.3" width="5.5" height="5.7" fill="#0a6e0a"/>
<rect x="402.8" y="281.3" width="5.5" height="5.7" fill="#1ad21a"/>
<rect x="407.8" y="281.3" width="5.5" height="5.7" fill="#0a6e0a"/>
<rect x="412.8" y="281.3" width="5.0" height="5.7" fill="#0a6e0a"/>
<rect x="353.0" y="286.5" width="5.5" height="5.7" fill="#f20000"/>
<rect x="358.0" y="286.5" width="5.5" height="5.7" fill="#f20000"/>
<rect x="363.0" y="286.5" width="5.5" height="5.7" fill="#f20000"/>
<rect x="368.0" y="286.5" width="5.5" height="5.7" fill="#7a0606"/>
<rect x="372.9" y="286.5" width="5.5" height="5.7" fill="#f20000"/>
<rect x="377.9" y="286.5" width="5.5" height="5.7" fill="#0a6e0a"/>
<rect x="382.9" y="286.5" width="5.5" height="5.7" fill="#f20000"/>
<rect x="387.9" y="286.5" width="5.5" height="5.7" fill="#f20000"/>
<rect x="392.9" y="286.5" width="5.5" height="5.7" fill="#f20000"/>
<rect x="397.9" y="286.5" width="5.5" height="5.7" fill="#0c0c0c"/>
<rect x="402.8" y="286.5" width="5.5" height="5.7" fill="#0a6e0a"/>
<rect x="407.8" y="286.5" width="5.5" height="5.7" fill="#0a6e0a"/>
<rect x="412.8" y="286.5" width="5.0" height="5.7" fill="#0a6e0a"/>
<rect x="353.0" y="291.7" width="5.5" height="5.2" fill="#1ad21a"/>
<rect x="358.0" y="291.7" width="5.5" height="5.2" fill="#0a6e0a"/>
<rect x="363.0" y="291.7" width="5.5" height="5.2" fill="#0a6e0a"/>
<rect x="368.0" y="291.7" width="5.5" height="5.2" fill="#1ad21a"/>
<rect x="372.9" y="291.7" width="5.5" height="5.2" fill="#0a6e0a"/>
<rect x="377.9" y="291.7" width="5.5" height="5.2" fill="#1ad21a"/>
<rect x="382.9" y="291.7" width="5.5" height="5.2" fill="#0c0c0c"/>
<rect x="387.9" y="291.7" width="5.5" height="5.2" fill="#0a6e0a"/>
<rect x="392.9" y="291.7" width="5.5" height="5.2" fill="#1ad21a"/>
<rect x="397.9" y="291.7" width="5.5" height="5.2" fill="#0a6e0a"/>
<rect x="402.8" y="291.7" width="5.5" height="5.2" fill="#1ad21a"/>
<rect x="407.8" y="291.7" width="5.5" height="5.2" fill="#0a6e0a"/>
<rect x="412.8" y="291.7" width="5.0" height="5.2" fill="#0a6e0a"/>
<rect x="353.0" y="299.4" width="5.5" height="5.7" fill="#f20000"/>
<rect x="358.0" y="299.4" width="5.5" height="5.7" fill="#f20000"/>
<rect x="363.0" y="299.4" width="5.5" height="5.7" fill="#f20000"/>
<rect x="368.0" y="299.4" width="5.5" height="5.7" fill="#7a0606"/>
<rect x="372.9" y="299.4" width="5.5" height="5.7" fill="#0c0c0c"/>
<rect x="377.9" y="299.4" width="5.5" height="5.7" fill="#7a0606"/>
<rect x="382.9" y="299.4" width="5.5" height="5.7" fill="#7a0606"/>
<rect x="387.9" y="299.4" width="5.5" height="5.7" fill="#7a0606"/>
<rect x="392.9" y="299.4" width="5.5" height="5.7" fill="#f20000"/>
<rect x="397.9" y="299.4" width="5.5" height="5.7" fill="#0c0c0c"/>
<rect x="402.8" y="299.4" width="5.5" height="5.7" fill="#f20000"/>
<rect x="407.8" y="299.4" width="5.5" height="5.7" fill="#0c0c0c"/>
<rect x="412.8" y="299.4" width="5.0" height="5.7" fill="#1ad21a"/>
<rect x="353.0" y="304.6" width="5.5" height="5.7" fill="#0a6e0a"/>
<rect x="358.0" y="304.6" width="5.5" height="5.7" fill="#1ad21a"/>
<rect x="363.0" y="304.6" width="5.5" height="5.7" fill="#0a6e0a"/>
<rect x="368.0" y="304.6" width="5.5" height="5.7" fill="#1ad21a"/>
<rect x="372.9" y="304.6" width="5.5" height="5.7" fill="#0a6e0a"/>
<rect x="377.9" y="304.6" width="5.5" height="5.7" fill="#0a6e0a"/>
<rect x="382.9" y="304.6" width="5.5" height="5.7" fill="#1ad21a"/>
<rect x="387.9" y="304.6" width="5.5" height="5.7" fill="#1ad21a"/>
<rect x="392.9" y="304.6" width="5.5" height="5.7" fill="#0a6e0a"/>
<rect x="397.9" y="304.6" width="5.5" height="5.7" fill="#0a6e0a"/>
<rect x="402.8" y="304.6" width="5.5" height="5.7" fill="#0c0c0c"/>
<rect x="407.8" y="304.6" width="5.5" height="5.7" fill="#0a6e0a"/>
<rect x="412.8" y="304.6" width="5.0" height="5.7" fill="#1ad21a"/>
<rect x="353.0" y="309.9" width="5.5" height="5.7" fill="#0a6e0a"/>
<rect x="358.0" y="309.9" width="5.5" height="5.7" fill="#0c0c0c"/>
<rect x="363.0" y="309.9" width="5.5" height="5.7" fill="#1ad21a"/>
<rect x="368.0" y="309.9" width="5.5" height="5.7" fill="#0a6e0a"/>
<rect x="372.9" y="309.9" width="5.5" height="5.7" fill="#0a6e0a"/>
<rect x="377.9" y="309.9" width="5.5" height="5.7" fill="#0c0c0c"/>
<rect x="382.9" y="309.9" width="5.5" height="5.7" fill="#0a6e0a"/>
<rect x="387.9" y="309.9" width="5.5" height="5.7" fill="#0a6e0a"/>
<rect x="392.9" y="309.9" width="5.5" height="5.7" fill="#0a6e0a"/>
<rect x="397.9" y="309.9" width="5.5" height="5.7" fill="#f20000"/>
<rect x="402.8" y="309.9" width="5.5" height="5.7" fill="#f20000"/>
<rect x="407.8" y="309.9" width="5.5" height="5.7" fill="#0c0c0c"/>
<rect x="412.8" y="309.9" width="5.0" height="5.7" fill="#0c0c0c"/>
<rect x="353.0" y="315.1" width="5.5" height="5.7" fill="#0c0c0c"/>
<rect x="358.0" y="315.1" width="5.5" height="5.7" fill="#f20000"/>
<rect x="363.0" y="315.1" width="5.5" height="5.7" fill="#0c0c0c"/>
<rect x="368.0" y="315.1" width="5.5" height="5.7" fill="#0a6e0a"/>
<rect x="372.9" y="315.1" width="5.5" height="5.7" fill="#f20000"/>
<rect x="377.9" y="315.1" width="5.5" height="5.7" fill="#0a6e0a"/>
<rect x="382.9" y="315.1" width="5.5" height="5.7" fill="#1ad21a"/>
<rect x="387.9" y="315.1" width="5.5" height="5.7" fill="#0c0c0c"/>
<rect x="392.9" y="315.1" width="5.5" height="5.7" fill="#f20000"/>
<rect x="397.9" y="315.1" width="5.5" height="5.7" fill="#0a6e0a"/>
<rect x="402.8" y="315.1" width="5.5" height="5.7" fill="#f20000"/>
<rect x="407.8" y="315.1" width="5.5" height="5.7" fill="#1ad21a"/>
<rect x="412.8" y="315.1" width="5.0" height="5.7" fill="#0a6e0a"/>
<rect x="353.0" y="320.4" width="5.5" height="5.7" fill="#0c0c0c"/>
<rect x="358.0" y="320.4" width="5.5" height="5.7" fill="#0a6e0a"/>
<rect x="363.0" y="320.4" width="5.5" height="5.7" fill="#0a6e0a"/>
<rect x="368.0" y="320.4" width="5.5" height="5.7" fill="#0a6e0a"/>
<rect x="372.9" y="320.4" width="5.5" height="5.7" fill="#0c0c0c"/>
<rect x="377.9" y="320.4" width="5.5" height="5.7" fill="#0a6e0a"/>
<rect x="382.9" y="320.4" width="5.5" height="5.7" fill="#0a6e0a"/>
<rect x="387.9" y="320.4" width="5.5" height="5.7" fill="#0c0c0c"/>
<rect x="392.9" y="320.4" width="5.5" height="5.7" fill="#0c0c0c"/>
<rect x="397.9" y="320.4" width="5.5" height="5.7" fill="#7a0606"/>
<rect x="402.8" y="320.4" width="5.5" height="5.7" fill="#7a0606"/>
<rect x="407.8" y="320.4" width="5.5" height="5.7" fill="#0a6e0a"/>
<rect x="412.8" y="320.4" width="5.0" height="5.7" fill="#0a6e0a"/>
<rect x="353.0" y="325.6" width="5.5" height="5.7" fill="#f20000"/>
<rect x="358.0" y="325.6" width="5.5" height="5.7" fill="#f20000"/>
<rect x="363.0" y="325.6" width="5.5" height="5.7" fill="#f20000"/>
<rect x="368.0" y="325.6" width="5.5" height="5.7" fill="#f20000"/>
<rect x="372.9" y="325.6" width="5.5" height="5.7" fill="#f20000"/>
<rect x="377.9" y="325.6" width="5.5" height="5.7" fill="#f20000"/>
<rect x="382.9" y="325.6" width="5.5" height="5.7" fill="#f20000"/>
<rect x="387.9" y="325.6" width="5.5" height="5.7" fill="#f20000"/>
<rect x="392.9" y="325.6" width="5.5" height="5.7" fill="#f20000"/>
<rect x="397.9" y="325.6" width="5.5" height="5.7" fill="#0c0c0c"/>
<rect x="402.8" y="325.6" width="5.5" height="5.7" fill="#1ad21a"/>
<rect x="407.8" y="325.6" width="5.5" height="5.7" fill="#1ad21a"/>
<rect x="412.8" y="325.6" width="5.0" height="5.7" fill="#0a6e0a"/>
<rect x="353.0" y="330.9" width="5.5" height="5.2" fill="#7a0606"/>
<rect x="358.0" y="330.9" width="5.5" height="5.2" fill="#7a0606"/>
<rect x="363.0" y="330.9" width="5.5" height="5.2" fill="#0c0c0c"/>
<rect x="368.0" y="330.9" width="5.5" height="5.2" fill="#7a0606"/>
<rect x="372.9" y="330.9" width="5.5" height="5.2" fill="#7a0606"/>
<rect x="377.9" y="330.9" width="5.5" height="5.2" fill="#1ad21a"/>
<rect x="382.9" y="330.9" width="5.5" height="5.2" fill="#0c0c0c"/>
<rect x="387.9" y="330.9" width="5.5" height="5.2" fill="#7a0606"/>
<rect x="392.9" y="330.9" width="5.5" height="5.2" fill="#7a0606"/>
<rect x="397.9" y="330.9" width="5.5" height="5.2" fill="#f20000"/>
<rect x="402.8" y="330.9" width="5.5" height="5.2" fill="#0c0c0c"/>
<rect x="407.8" y="330.9" width="5.5" height="5.2" fill="#0a6e0a"/>
<rect x="412.8" y="330.9" width="5.0" height="5.2" fill="#0a6e0a"/>
</g>
<text x="95.90" y="62.65" font-size="6.7" text-anchor="end" font-weight="normal" font-style="normal" fill="#111" stroke="#111" stroke-width="0.1">Immune population</text>
<text x="95.9" y="91.00" font-size="6.7" text-anchor="end" fill="#111" stroke="#111" stroke-width="0.1">T<tspan font-size="3.6" dy="1.4">H</tspan><tspan dy="-1.4">1 polarization</tspan></text>
<text x="95.90" y="125.25" font-size="6.7" text-anchor="end" font-weight="normal" font-style="normal" fill="#111" stroke="#111" stroke-width="0.1">CD8 cytotoxicity</text>
<text x="95.90" y="158.15" font-size="6.7" text-anchor="end" font-weight="normal" font-style="normal" fill="#111" stroke="#111" stroke-width="0.1">T-cell activation</text>
<text x="95.9" y="188.15" font-size="6.7" text-anchor="end" fill="#111" stroke="#111" stroke-width="0.1">T<tspan font-size="3.6" dy="1.4">H</tspan><tspan dy="-1.4">2 polarization</tspan></text>
<text x="95.90" y="209.00" font-size="6.7" text-anchor="end" font-weight="normal" font-style="normal" fill="#111" stroke="#111" stroke-width="0.1">Immunosuppression</text>
<text x="95.90" y="260.55" font-size="6.7" text-anchor="end" font-weight="normal" font-style="normal" fill="#111" stroke="#111" stroke-width="0.1">Inflammation</text>
<text x="95.90" y="318.40" font-size="6.7" text-anchor="end" font-weight="normal" font-style="normal" fill="#111" stroke="#111" stroke-width="0.1">Angiogenesis</text>
<text x="236.90" y="57.02" font-size="4.5" text-anchor="start" font-weight="normal" font-style="normal" fill="#222" stroke="#222" stroke-width="0.15">CD3E</text>
<text x="236.90" y="61.85" font-size="4.5" text-anchor="start" font-weight="normal" font-style="normal" fill="#222" stroke="#222" stroke-width="0.15">CD4</text>
<text x="236.90" y="66.68" font-size="4.5" text-anchor="start" font-weight="normal" font-style="normal" fill="#222" stroke="#222" stroke-width="0.15">CD8A</text>
<line x1="258.2" y1="53.0" x2="258.2" y2="67.5" stroke="#333" stroke-width="0.9"/>
<text x="261.80" y="62.55" font-size="6.6" text-anchor="start" font-weight="normal" font-style="normal" fill="#222" stroke="#222" stroke-width="0.12">NS</text>
<text x="236.90" y="74.31" font-size="4.5" text-anchor="start" font-weight="normal" font-style="normal" fill="#222" stroke="#222" stroke-width="0.15">CD28</text>
<text x="236.90" y="79.34" font-size="4.5" text-anchor="start" font-weight="normal" font-style="normal" fill="#222" stroke="#222" stroke-width="0.15">LTA</text>
<text x="236.90" y="84.36" font-size="4.5" text-anchor="start" font-weight="normal" font-style="normal" fill="#222" stroke="#222" stroke-width="0.15">CXCR3</text>
<text x="236.90" y="89.39" font-size="4.5" text-anchor="start" font-weight="normal" font-style="normal" fill="#222" stroke="#222" stroke-width="0.15">IFNG</text>
<text x="236.90" y="94.41" font-size="4.5" text-anchor="start" font-weight="normal" font-style="normal" fill="#222" stroke="#222" stroke-width="0.15">IL2</text>
<text x="236.90" y="99.44" font-size="4.5" text-anchor="start" font-weight="normal" font-style="normal" fill="#222" stroke="#222" stroke-width="0.15">IL2RA</text>
<text x="236.90" y="104.46" font-size="4.5" text-anchor="start" font-weight="normal" font-style="normal" fill="#222" stroke="#222" stroke-width="0.15">TBX21</text>
<text x="236.90" y="109.49" font-size="4.5" text-anchor="start" font-weight="normal" font-style="normal" fill="#222" stroke="#222" stroke-width="0.15">TNF</text>
<line x1="258.2" y1="70.2" x2="258.2" y2="110.4" stroke="#333" stroke-width="0.9"/>
<text x="261.80" y="92.60" font-size="6.6" text-anchor="start" font-weight="normal" font-style="normal" fill="#222" stroke="#222" stroke-width="0.12">NS</text>
<text x="236.90" y="117.06" font-size="4.5" text-anchor="start" font-weight="normal" font-style="normal" fill="#222" stroke="#222" stroke-width="0.15">FASLG</text>
<text x="236.90" y="121.99" font-size="4.5" text-anchor="start" font-weight="normal" font-style="normal" fill="#222" stroke="#222" stroke-width="0.15">GNLY</text>
<text x="236.90" y="126.91" font-size="4.5" text-anchor="start" font-weight="normal" font-style="normal" fill="#222" stroke="#222" stroke-width="0.15">GZMB</text>
<text x="236.90" y="131.84" font-size="4.5" text-anchor="start" font-weight="normal" font-style="normal" fill="#222" stroke="#222" stroke-width="0.15">PRF1</text>
<line x1="258.2" y1="113.0" x2="258.2" y2="132.7" stroke="#333" stroke-width="0.9"/>
<text x="261.80" y="125.15" font-size="6.6" text-anchor="start" font-weight="normal" font-style="normal" fill="#222" stroke="#222" stroke-width="0.12">NS</text>
<text x="236.90" y="139.81" font-size="4.5" text-anchor="start" font-weight="normal" font-style="normal" fill="#222" stroke="#222" stroke-width="0.15">IL7</text>
<text x="236.90" y="144.82" font-size="4.5" text-anchor="start" font-weight="normal" font-style="normal" fill="#222" stroke="#222" stroke-width="0.15">CCL5</text>
<text x="236.90" y="149.83" font-size="4.5" text-anchor="start" font-weight="normal" font-style="normal" fill="#222" stroke="#222" stroke-width="0.15">CCR4</text>
<text x="236.90" y="154.84" font-size="4.5" text-anchor="start" font-weight="normal" font-style="normal" fill="#222" stroke="#222" stroke-width="0.15">CCR5</text>
<text x="236.90" y="159.86" font-size="4.5" text-anchor="start" font-weight="normal" font-style="normal" fill="#222" stroke="#222" stroke-width="0.15">CD40</text>
<text x="236.90" y="164.87" font-size="4.5" text-anchor="start" font-weight="normal" font-style="normal" fill="#222" stroke="#222" stroke-width="0.15">CD40LG</text>
<text x="236.90" y="169.88" font-size="4.5" text-anchor="start" font-weight="normal" font-style="normal" fill="#222" stroke="#222" stroke-width="0.15">CTLA4</text>
<text x="236.90" y="174.89" font-size="4.5" text-anchor="start" font-weight="normal" font-style="normal" fill="#222" stroke="#222" stroke-width="0.15">ICOS</text>
<line x1="258.2" y1="135.7" x2="258.2" y2="175.8" stroke="#333" stroke-width="0.9"/>
<text x="261.80" y="158.05" font-size="6.6" text-anchor="start" font-weight="normal" font-style="normal" fill="#222" stroke="#222" stroke-width="0.12">NS</text>
<text x="236.90" y="183.52" font-size="4.5" text-anchor="start" font-weight="normal" font-style="normal" fill="#222" stroke="#222" stroke-width="0.15">IL4</text>
<text x="236.90" y="188.35" font-size="4.5" text-anchor="start" font-weight="normal" font-style="normal" fill="#222" stroke="#222" stroke-width="0.15">IL13</text>
<text x="236.90" y="193.18" font-size="4.5" text-anchor="start" font-weight="normal" font-style="normal" fill="#222" stroke="#222" stroke-width="0.15">IL6</text>
<line x1="258.2" y1="179.5" x2="258.2" y2="194.0" stroke="#333" stroke-width="0.9"/>
<text x="261.80" y="189.05" font-size="6.6" text-anchor="start" font-weight="normal" font-style="normal" fill="#222" stroke="#222" stroke-width="0.12">NS</text>
<text x="236.90" y="200.77" font-size="4.5" text-anchor="start" font-weight="normal" font-style="normal" fill="#222" stroke="#222" stroke-width="0.15">IL10</text>
<text x="236.90" y="205.72" font-size="4.5" text-anchor="start" font-weight="normal" font-style="normal" fill="#222" stroke="#222" stroke-width="0.15">SMAD3</text>
<text x="236.90" y="210.67" font-size="4.5" text-anchor="start" font-weight="normal" font-style="normal" fill="#222" stroke="#222" stroke-width="0.15">SMAD7</text>
<text x="236.90" y="215.62" font-size="4.5" text-anchor="start" font-weight="normal" font-style="normal" fill="#222" stroke="#222" stroke-width="0.15">TGFB1</text>
<line x1="258.2" y1="196.7" x2="258.2" y2="216.5" stroke="#333" stroke-width="0.9"/>
<text x="261.80" y="208.90" font-size="6.6" text-anchor="start" font-weight="normal" font-style="normal" fill="#222" stroke="#222" stroke-width="0.12">NS</text>
<text x="236.90" y="224.98" font-size="4.5" text-anchor="start" font-weight="normal" font-style="normal" fill="#222" stroke="#222" stroke-width="0.15">ACE</text>
<text x="236.90" y="229.95" font-size="4.5" text-anchor="start" font-weight="normal" font-style="normal" fill="#222" stroke="#222" stroke-width="0.15">C3</text>
<text x="236.90" y="234.92" font-size="4.5" text-anchor="start" font-weight="normal" font-style="normal" fill="#222" stroke="#222" stroke-width="0.15">CCL2</text>
<text x="236.90" y="239.88" font-size="4.5" text-anchor="start" font-weight="normal" font-style="normal" fill="#222" stroke="#222" stroke-width="0.15">CCL3</text>
<text x="236.90" y="244.85" font-size="4.5" text-anchor="start" font-weight="normal" font-style="normal" fill="#222" stroke="#222" stroke-width="0.15">CSF1</text>
<text x="236.90" y="249.82" font-size="4.5" text-anchor="start" font-weight="normal" font-style="normal" fill="#222" stroke="#222" stroke-width="0.15">CSF2</text>
<text x="236.90" y="254.78" font-size="4.5" text-anchor="start" font-weight="normal" font-style="normal" fill="#222" stroke="#222" stroke-width="0.15">NFKB2</text>
<text x="236.90" y="259.75" font-size="4.5" text-anchor="start" font-weight="normal" font-style="normal" fill="#222" stroke="#222" stroke-width="0.15">IL1B</text>
<text x="236.90" y="264.72" font-size="4.5" text-anchor="start" font-weight="normal" font-style="normal" fill="#222" stroke="#222" stroke-width="0.15">IL8</text>
<text x="236.90" y="269.68" font-size="4.5" text-anchor="start" font-weight="normal" font-style="normal" fill="#222" stroke="#222" stroke-width="0.15">NOS2A</text>
<text x="236.90" y="274.65" font-size="4.5" text-anchor="start" font-weight="normal" font-style="normal" fill="#222" stroke="#222" stroke-width="0.15">PTGS2</text>
<text x="236.90" y="279.62" font-size="4.5" text-anchor="start" font-weight="normal" font-style="normal" fill="#222" stroke="#222" stroke-width="0.15">IL12A</text>
<text x="236.90" y="284.58" font-size="4.5" text-anchor="start" font-weight="normal" font-style="normal" fill="#222" stroke="#222" stroke-width="0.15">IL17</text>
<text x="236.90" y="289.55" font-size="4.5" text-anchor="start" font-weight="normal" font-style="normal" fill="#222" stroke="#222" stroke-width="0.15">IL18</text>
<text x="236.90" y="294.52" font-size="4.5" text-anchor="start" font-weight="normal" font-style="normal" fill="#222" stroke="#222" stroke-width="0.15">STAT3</text>
<line x1="258.2" y1="220.9" x2="258.2" y2="295.4" stroke="#333" stroke-width="0.9"/>
<text x="261.80" y="260.45" font-size="6.6" text-anchor="start" font-weight="normal" font-style="normal" fill="#222" stroke="#222" stroke-width="0.12">NS</text>
<text x="236.90" y="302.77" font-size="4.5" text-anchor="start" font-weight="normal" font-style="normal" fill="#222" stroke="#222" stroke-width="0.15">CD34</text>
<text x="236.90" y="307.71" font-size="4.5" text-anchor="start" font-weight="normal" font-style="normal" fill="#222" stroke="#222" stroke-width="0.15">ECE1</text>
<text x="236.90" y="312.66" font-size="4.5" text-anchor="start" font-weight="normal" font-style="normal" fill="#222" stroke="#222" stroke-width="0.15">EDN1</text>
<text x="236.90" y="317.60" font-size="4.5" text-anchor="start" font-weight="normal" font-style="normal" fill="#222" stroke="#222" stroke-width="0.15">FN1</text>
<text x="236.90" y="322.54" font-size="4.5" text-anchor="start" font-weight="normal" font-style="normal" fill="#222" stroke="#222" stroke-width="0.15">ICAM1</text>
<text x="236.90" y="327.49" font-size="4.5" text-anchor="start" font-weight="normal" font-style="normal" fill="#222" stroke="#222" stroke-width="0.15">SELP</text>
<text x="236.90" y="332.43" font-size="4.5" text-anchor="start" font-weight="normal" font-style="normal" fill="#222" stroke="#222" stroke-width="0.15">VEGF</text>
<line x1="258.2" y1="298.7" x2="258.2" y2="333.3" stroke="#333" stroke-width="0.9"/>
<text x="261.80" y="318.30" font-size="6.6" text-anchor="start" font-weight="normal" font-style="normal" fill="#222" stroke="#222" stroke-width="0.12">NS</text>
<text x="421.40" y="55.95" font-size="4.5" text-anchor="start" font-weight="normal" font-style="normal" fill="#222" stroke="#222" stroke-width="0.15">CD3E</text>
<text x="421.40" y="61.05" font-size="4.5" text-anchor="start" font-weight="normal" font-style="normal" fill="#222" stroke="#222" stroke-width="0.15">CD4</text>
<text x="421.40" y="66.15" font-size="4.5" text-anchor="start" font-weight="normal" font-style="normal" fill="#222" stroke="#222" stroke-width="0.15">CD8A</text>
<circle cx="442.3" cy="64.95" r="0.95" fill="#333"/>
<line x1="446.5" y1="51.8" x2="446.5" y2="67.1" stroke="#333" stroke-width="0.9"/>
<text x="449.8" y="61.85" font-size="6.6" fill="#222" stroke="#222" stroke-width="0.12"><tspan font-style="italic">p</tspan>&lt;0.05</text>
<text x="421.40" y="72.99" font-size="4.5" text-anchor="start" font-weight="normal" font-style="normal" fill="#222" stroke="#222" stroke-width="0.15">CD28</text>
<circle cx="442.3" cy="71.79" r="0.95" fill="#333"/>
<text x="421.40" y="78.27" font-size="4.5" text-anchor="start" font-weight="normal" font-style="normal" fill="#222" stroke="#222" stroke-width="0.15">LTA</text>
<text x="421.40" y="83.55" font-size="4.5" text-anchor="start" font-weight="normal" font-style="normal" fill="#222" stroke="#222" stroke-width="0.15">CXCR3</text>
<circle cx="442.3" cy="82.35" r="0.95" fill="#333"/>
<text x="421.40" y="88.83" font-size="4.5" text-anchor="start" font-weight="normal" font-style="normal" fill="#222" stroke="#222" stroke-width="0.15">IFNG</text>
<circle cx="442.3" cy="87.63" r="0.95" fill="#333"/>
<text x="421.40" y="94.12" font-size="4.5" text-anchor="start" font-weight="normal" font-style="normal" fill="#222" stroke="#222" stroke-width="0.15">IL2</text>
<circle cx="442.3" cy="92.92" r="0.95" fill="#333"/>
<text x="421.40" y="99.40" font-size="4.5" text-anchor="start" font-weight="normal" font-style="normal" fill="#222" stroke="#222" stroke-width="0.15">IL2RA</text>
<text x="421.40" y="104.68" font-size="4.5" text-anchor="start" font-weight="normal" font-style="normal" fill="#222" stroke="#222" stroke-width="0.15">TBX21</text>
<circle cx="442.3" cy="103.48" r="0.95" fill="#333"/>
<text x="421.40" y="109.96" font-size="4.5" text-anchor="start" font-weight="normal" font-style="normal" fill="#222" stroke="#222" stroke-width="0.15">TNF</text>
<line x1="446.5" y1="68.75" x2="446.5" y2="111.0" stroke="#333" stroke-width="0.9"/>
<text x="449.8" y="92.28" font-size="6.6" fill="#222" stroke="#222" stroke-width="0.12"><tspan font-style="italic">p</tspan>&lt;0.05</text>
<text x="421.40" y="117.80" font-size="4.5" text-anchor="start" font-weight="normal" font-style="normal" fill="#222" stroke="#222" stroke-width="0.15">FASLG</text>
<circle cx="442.3" cy="116.60" r="0.95" fill="#333"/>
<text x="421.40" y="122.80" font-size="4.5" text-anchor="start" font-weight="normal" font-style="normal" fill="#222" stroke="#222" stroke-width="0.15">GNLY</text>
<circle cx="442.3" cy="121.60" r="0.95" fill="#333"/>
<text x="421.40" y="127.80" font-size="4.5" text-anchor="start" font-weight="normal" font-style="normal" fill="#222" stroke="#222" stroke-width="0.15">GZMB</text>
<circle cx="442.3" cy="126.60" r="0.95" fill="#333"/>
<text x="421.40" y="132.80" font-size="4.5" text-anchor="start" font-weight="normal" font-style="normal" fill="#222" stroke="#222" stroke-width="0.15">PRF1</text>
<circle cx="442.3" cy="131.60" r="0.95" fill="#333"/>
<line x1="446.5" y1="113.7" x2="446.5" y2="133.7" stroke="#333" stroke-width="0.9"/>
<text x="449.8" y="126.10" font-size="6.6" fill="#222" stroke="#222" stroke-width="0.12"><tspan font-style="italic">p</tspan>&lt;0.05</text>
<text x="421.40" y="140.30" font-size="4.5" text-anchor="start" font-weight="normal" font-style="normal" fill="#222" stroke="#222" stroke-width="0.15">IL7</text>
<text x="421.40" y="145.50" font-size="4.5" text-anchor="start" font-weight="normal" font-style="normal" fill="#222" stroke="#222" stroke-width="0.15">CCL5</text>
<circle cx="442.3" cy="144.30" r="0.95" fill="#333"/>
<text x="421.40" y="150.70" font-size="4.5" text-anchor="start" font-weight="normal" font-style="normal" fill="#222" stroke="#222" stroke-width="0.15">CCR4</text>
<circle cx="442.3" cy="149.50" r="0.95" fill="#333"/>
<text x="421.40" y="155.90" font-size="4.5" text-anchor="start" font-weight="normal" font-style="normal" fill="#222" stroke="#222" stroke-width="0.15">CCR5</text>
<circle cx="442.3" cy="154.70" r="0.95" fill="#333"/>
<text x="421.40" y="161.10" font-size="4.5" text-anchor="start" font-weight="normal" font-style="normal" fill="#222" stroke="#222" stroke-width="0.15">CD40</text>
<text x="421.40" y="166.30" font-size="4.5" text-anchor="start" font-weight="normal" font-style="normal" fill="#222" stroke="#222" stroke-width="0.15">CD40LG</text>
<circle cx="442.3" cy="165.10" r="0.95" fill="#333"/>
<text x="421.40" y="171.50" font-size="4.5" text-anchor="start" font-weight="normal" font-style="normal" fill="#222" stroke="#222" stroke-width="0.15">CTLA4</text>
<text x="421.40" y="176.70" font-size="4.5" text-anchor="start" font-weight="normal" font-style="normal" fill="#222" stroke="#222" stroke-width="0.15">ICOS</text>
<line x1="446.5" y1="136.1" x2="446.5" y2="177.7" stroke="#333" stroke-width="0.9"/>
<text x="449.8" y="159.30" font-size="6.6" fill="#222" stroke="#222" stroke-width="0.12"><tspan font-style="italic">p</tspan>&lt;0.05</text>
<text x="421.40" y="183.60" font-size="4.5" text-anchor="start" font-weight="normal" font-style="normal" fill="#222" stroke="#222" stroke-width="0.15">IL4</text>
<text x="421.40" y="188.80" font-size="4.5" text-anchor="start" font-weight="normal" font-style="normal" fill="#222" stroke="#222" stroke-width="0.15">IL13</text>
<text x="421.40" y="194.00" font-size="4.5" text-anchor="start" font-weight="normal" font-style="normal" fill="#222" stroke="#222" stroke-width="0.15">IL6</text>
<line x1="446.5" y1="179.4" x2="446.5" y2="195.0" stroke="#333" stroke-width="0.9"/>
<text x="449.80" y="189.60" font-size="6.6" text-anchor="start" font-weight="normal" font-style="normal" fill="#222" stroke="#222" stroke-width="0.12">NS</text>
<text x="421.40" y="200.86" font-size="4.5" text-anchor="start" font-weight="normal" font-style="normal" fill="#222" stroke="#222" stroke-width="0.15">IL10</text>
<text x="421.40" y="205.99" font-size="4.5" text-anchor="start" font-weight="normal" font-style="normal" fill="#222" stroke="#222" stroke-width="0.15">SMAD3</text>
<text x="421.40" y="211.11" font-size="4.5" text-anchor="start" font-weight="normal" font-style="normal" fill="#222" stroke="#222" stroke-width="0.15">SMAD7</text>
<text x="421.40" y="216.24" font-size="4.5" text-anchor="start" font-weight="normal" font-style="normal" fill="#222" stroke="#222" stroke-width="0.15">TGFB1</text>
<line x1="446.5" y1="196.7" x2="446.5" y2="217.2" stroke="#333" stroke-width="0.9"/>
<text x="449.80" y="209.35" font-size="6.6" text-anchor="start" font-weight="normal" font-style="normal" fill="#222" stroke="#222" stroke-width="0.12">NS</text>
<text x="421.40" y="223.10" font-size="4.5" text-anchor="start" font-weight="normal" font-style="normal" fill="#222" stroke="#222" stroke-width="0.15">ACE</text>
<text x="421.40" y="228.30" font-size="4.5" text-anchor="start" font-weight="normal" font-style="normal" fill="#222" stroke="#222" stroke-width="0.15">C3</text>
<text x="421.40" y="233.50" font-size="4.5" text-anchor="start" font-weight="normal" font-style="normal" fill="#222" stroke="#222" stroke-width="0.15">CCL2</text>
<text x="421.40" y="238.70" font-size="4.5" text-anchor="start" font-weight="normal" font-style="normal" fill="#222" stroke="#222" stroke-width="0.15">CCL3</text>
<text x="421.40" y="243.90" font-size="4.5" text-anchor="start" font-weight="normal" font-style="normal" fill="#222" stroke="#222" stroke-width="0.15">CSF1</text>
<text x="421.40" y="249.10" font-size="4.5" text-anchor="start" font-weight="normal" font-style="normal" fill="#222" stroke="#222" stroke-width="0.15">CSF2</text>
<text x="421.40" y="254.30" font-size="4.5" text-anchor="start" font-weight="normal" font-style="normal" fill="#222" stroke="#222" stroke-width="0.15">NFKB2</text>
<text x="421.40" y="259.50" font-size="4.5" text-anchor="start" font-weight="normal" font-style="normal" fill="#222" stroke="#222" stroke-width="0.15">IL1B</text>
<text x="421.40" y="264.70" font-size="4.5" text-anchor="start" font-weight="normal" font-style="normal" fill="#222" stroke="#222" stroke-width="0.15">IL8</text>
<text x="421.40" y="269.90" font-size="4.5" text-anchor="start" font-weight="normal" font-style="normal" fill="#222" stroke="#222" stroke-width="0.15">NOS2A</text>
<text x="421.40" y="275.10" font-size="4.5" text-anchor="start" font-weight="normal" font-style="normal" fill="#222" stroke="#222" stroke-width="0.15">PTGS2</text>
<text x="421.40" y="280.30" font-size="4.5" text-anchor="start" font-weight="normal" font-style="normal" fill="#222" stroke="#222" stroke-width="0.15">IL12A</text>
<text x="421.40" y="285.50" font-size="4.5" text-anchor="start" font-weight="normal" font-style="normal" fill="#222" stroke="#222" stroke-width="0.15">IL17</text>
<text x="421.40" y="290.70" font-size="4.5" text-anchor="start" font-weight="normal" font-style="normal" fill="#222" stroke="#222" stroke-width="0.15">IL18</text>
<text x="421.40" y="295.90" font-size="4.5" text-anchor="start" font-weight="normal" font-style="normal" fill="#222" stroke="#222" stroke-width="0.15">STAT3</text>
<line x1="446.5" y1="218.9" x2="446.5" y2="296.9" stroke="#333" stroke-width="0.9"/>
<text x="449.80" y="260.30" font-size="6.6" text-anchor="start" font-weight="normal" font-style="normal" fill="#222" stroke="#222" stroke-width="0.12">NS</text>
<text x="421.40" y="303.62" font-size="4.5" text-anchor="start" font-weight="normal" font-style="normal" fill="#222" stroke="#222" stroke-width="0.15">CD34</text>
<text x="421.40" y="308.86" font-size="4.5" text-anchor="start" font-weight="normal" font-style="normal" fill="#222" stroke="#222" stroke-width="0.15">ECE1</text>
<text x="421.40" y="314.11" font-size="4.5" text-anchor="start" font-weight="normal" font-style="normal" fill="#222" stroke="#222" stroke-width="0.15">EDN1</text>
<text x="421.40" y="319.35" font-size="4.5" text-anchor="start" font-weight="normal" font-style="normal" fill="#222" stroke="#222" stroke-width="0.15">FN1</text>
<text x="421.40" y="324.59" font-size="4.5" text-anchor="start" font-weight="normal" font-style="normal" fill="#222" stroke="#222" stroke-width="0.15">ICAM1</text>
<text x="421.40" y="329.84" font-size="4.5" text-anchor="start" font-weight="normal" font-style="normal" fill="#222" stroke="#222" stroke-width="0.15">SELP</text>
<text x="421.40" y="335.08" font-size="4.5" text-anchor="start" font-weight="normal" font-style="normal" fill="#222" stroke="#222" stroke-width="0.15">VEGF</text>
<line x1="446.5" y1="299.4" x2="446.5" y2="336.1" stroke="#333" stroke-width="0.9"/>
<text x="449.80" y="320.15" font-size="6.6" text-anchor="start" font-weight="normal" font-style="normal" fill="#222" stroke="#222" stroke-width="0.12">NS</text>
<text x="62.40" y="372.20" font-size="7.5" text-anchor="middle" font-weight="bold" font-style="italic" fill="#111" >CCL5</text>
<text transform="translate(13.20,412.15) rotate(-90)" font-size="6.9" text-anchor="middle" fill="#222" stroke="#222" stroke-width="0.25" textLength="72.5" lengthAdjust="spacingAndGlyphs">Relative expression levels</text>
<line x1="22.40" y1="376.50" x2="24.20" y2="376.50" stroke="#262626" stroke-width="1"/>
<text x="20.40" y="378.40" font-size="5.2" text-anchor="end" font-weight="normal" font-style="normal" fill="#222" stroke="#222" stroke-width="0.22">10</text>
<line x1="22.40" y1="391.16" x2="24.20" y2="391.16" stroke="#262626" stroke-width="1"/>
<text x="20.40" y="393.06" font-size="5.2" text-anchor="end" font-weight="normal" font-style="normal" fill="#222" stroke="#222" stroke-width="0.22">8</text>
<line x1="22.40" y1="405.82" x2="24.20" y2="405.82" stroke="#262626" stroke-width="1"/>
<text x="20.40" y="407.72" font-size="5.2" text-anchor="end" font-weight="normal" font-style="normal" fill="#222" stroke="#222" stroke-width="0.22">6</text>
<line x1="22.40" y1="420.48" x2="24.20" y2="420.48" stroke="#262626" stroke-width="1"/>
<text x="20.40" y="422.38" font-size="5.2" text-anchor="end" font-weight="normal" font-style="normal" fill="#222" stroke="#222" stroke-width="0.22">4</text>
<line x1="22.40" y1="435.14" x2="24.20" y2="435.14" stroke="#262626" stroke-width="1"/>
<text x="20.40" y="437.04" font-size="5.2" text-anchor="end" font-weight="normal" font-style="normal" fill="#222" stroke="#222" stroke-width="0.22">2</text>
<line x1="22.40" y1="449.80" x2="24.20" y2="449.80" stroke="#262626" stroke-width="1"/>
<text x="20.40" y="451.70" font-size="5.2" text-anchor="end" font-weight="normal" font-style="normal" fill="#222" stroke="#222" stroke-width="0.22">0</text>
<line x1="33.50" y1="397.20" x2="33.50" y2="449.80" stroke="#262626" stroke-width="1.1"/>
<line x1="30.20" y1="397.20" x2="36.80" y2="397.20" stroke="#262626" stroke-width="1.1"/>
<line x1="30.20" y1="449.80" x2="36.80" y2="449.80" stroke="#262626" stroke-width="1.1"/>
<rect x="27.30" y="425.30" width="12.4" height="17.00" fill="#b4b4b4"/>
<line x1="27.30" y1="434.60" x2="39.70" y2="434.60" stroke="#1e1e1e" stroke-width="1.5"/>
<line x1="33.50" y1="449.80" x2="33.50" y2="451.60" stroke="#262626" stroke-width="1"/>
<line x1="52.50" y1="415.80" x2="52.50" y2="448.70" stroke="#262626" stroke-width="1.1"/>
<line x1="49.20" y1="415.80" x2="55.80" y2="415.80" stroke="#262626" stroke-width="1.1"/>
<line x1="49.20" y1="448.70" x2="55.80" y2="448.70" stroke="#262626" stroke-width="1.1"/>
<rect x="46.30" y="430.90" width="12.4" height="13.60" fill="#b4b4b4"/>
<line x1="46.30" y1="441.00" x2="58.70" y2="441.00" stroke="#1e1e1e" stroke-width="1.5"/>
<line x1="52.50" y1="449.80" x2="52.50" y2="451.60" stroke="#262626" stroke-width="1"/>
<line x1="71.60" y1="398.60" x2="71.60" y2="424.20" stroke="#262626" stroke-width="1.1"/>
<line x1="68.30" y1="398.60" x2="74.90" y2="398.60" stroke="#262626" stroke-width="1.1"/>
<line x1="68.30" y1="424.20" x2="74.90" y2="424.20" stroke="#262626" stroke-width="1.1"/>
<rect x="65.40" y="410.80" width="12.4" height="10.90" fill="#2f2f2f"/>
<line x1="65.40" y1="416.90" x2="77.80" y2="416.90" stroke="#0e0e0e" stroke-width="1.5"/>
<line x1="71.60" y1="449.80" x2="71.60" y2="451.60" stroke="#262626" stroke-width="1"/>
<line x1="90.70" y1="396.30" x2="90.70" y2="423.50" stroke="#262626" stroke-width="1.1"/>
<line x1="87.40" y1="396.30" x2="94.00" y2="396.30" stroke="#262626" stroke-width="1.1"/>
<line x1="87.40" y1="423.50" x2="94.00" y2="423.50" stroke="#262626" stroke-width="1.1"/>
<rect x="84.50" y="404.80" width="12.4" height="8.30" fill="#2f2f2f"/>
<line x1="84.50" y1="408.70" x2="96.90" y2="408.70" stroke="#0e0e0e" stroke-width="1.5"/>
<line x1="90.70" y1="449.80" x2="90.70" y2="451.60" stroke="#262626" stroke-width="1"/>
<line x1="24.20" y1="376.20" x2="24.20" y2="450.40" stroke="#262626" stroke-width="1.3"/>
<line x1="23.60" y1="449.80" x2="100.20" y2="449.80" stroke="#262626" stroke-width="1.3"/>
<path d="M32.30,391.70 L32.30,390.40 L53.10,390.40 L53.10,391.70" fill="none" stroke="#262626" stroke-width="0.9"/>
<text x="42.70" y="388.20" font-size="4.4" text-anchor="middle" fill="#333" stroke="#333" stroke-width="0.12"><tspan font-style="italic">p</tspan>=0.001</text>
<path d="M71.30,391.70 L71.30,390.40 L90.50,390.40 L90.50,391.70" fill="none" stroke="#262626" stroke-width="0.9"/>
<text x="80.90" y="388.20" font-size="4.4" text-anchor="middle" fill="#333" stroke="#333" stroke-width="0.12"><tspan font-style="italic">p</tspan>=0.044</text>
<text transform="translate(33.30,460.80) scale(0.92,1)" font-size="5.7" font-weight="bold" text-anchor="middle" fill="#3a3a3a">CRT<tspan font-size="3.3" dy="-2.4">Lo</tspan></text>
<text transform="translate(52.30,460.80) scale(0.92,1)" font-size="5.7" font-weight="bold" text-anchor="middle" fill="#3a3a3a">CRT<tspan font-size="3.3" dy="-2.4">Hi</tspan></text>
<text transform="translate(71.40,460.80) scale(0.92,1)" font-size="5.7" font-weight="bold" text-anchor="middle" fill="#3a3a3a">CRT<tspan font-size="3.3" dy="-2.4">Lo</tspan></text>
<text transform="translate(90.50,460.80) scale(0.92,1)" font-size="5.7" font-weight="bold" text-anchor="middle" fill="#3a3a3a">CRT<tspan font-size="3.3" dy="-2.4">Hi</tspan></text>
<line x1="25.40" y1="466.20" x2="59.70" y2="466.20" stroke="#262626" stroke-width="1"/>
<line x1="25.40" y1="465.00" x2="25.40" y2="467.40" stroke="#262626" stroke-width="0.9"/>
<line x1="59.70" y1="465.00" x2="59.70" y2="467.40" stroke="#262626" stroke-width="0.9"/>
<text transform="translate(42.55,474.70) scale(0.92,1)" font-size="6.9" text-anchor="middle" fill="#222" stroke="#222" stroke-width="0.22">Prior</text>
<line x1="63.00" y1="466.20" x2="97.40" y2="466.20" stroke="#262626" stroke-width="1"/>
<line x1="63.00" y1="465.00" x2="63.00" y2="467.40" stroke="#262626" stroke-width="0.9"/>
<line x1="97.40" y1="465.00" x2="97.40" y2="467.40" stroke="#262626" stroke-width="0.9"/>
<text transform="translate(80.20,474.70) scale(0.92,1)" font-size="6.9" text-anchor="middle" fill="#222" stroke="#222" stroke-width="0.22">Recovery</text>
<text x="164.20" y="372.20" font-size="7.5" text-anchor="middle" font-weight="bold" font-style="italic" fill="#111" >CCR4</text>
<text transform="translate(115.00,412.15) rotate(-90)" font-size="6.9" text-anchor="middle" fill="#222" stroke="#222" stroke-width="0.25" textLength="72.5" lengthAdjust="spacingAndGlyphs">Relative expression levels</text>
<line x1="124.20" y1="376.50" x2="126.00" y2="376.50" stroke="#262626" stroke-width="1"/>
<text x="122.20" y="378.40" font-size="5.2" text-anchor="end" font-weight="normal" font-style="normal" fill="#222" stroke="#222" stroke-width="0.22">12</text>
<line x1="124.20" y1="400.93" x2="126.00" y2="400.93" stroke="#262626" stroke-width="1"/>
<text x="122.20" y="402.83" font-size="5.2" text-anchor="end" font-weight="normal" font-style="normal" fill="#222" stroke="#222" stroke-width="0.22">8</text>
<line x1="124.20" y1="425.37" x2="126.00" y2="425.37" stroke="#262626" stroke-width="1"/>
<text x="122.20" y="427.27" font-size="5.2" text-anchor="end" font-weight="normal" font-style="normal" fill="#222" stroke="#222" stroke-width="0.22">4</text>
<line x1="124.20" y1="449.80" x2="126.00" y2="449.80" stroke="#262626" stroke-width="1"/>
<text x="122.20" y="451.70" font-size="5.2" text-anchor="end" font-weight="normal" font-style="normal" fill="#222" stroke="#222" stroke-width="0.22">0</text>
<line x1="135.30" y1="395.50" x2="135.30" y2="449.80" stroke="#262626" stroke-width="1.1"/>
<line x1="132.00" y1="395.50" x2="138.60" y2="395.50" stroke="#262626" stroke-width="1.1"/>
<line x1="132.00" y1="449.80" x2="138.60" y2="449.80" stroke="#262626" stroke-width="1.1"/>
<rect x="129.10" y="417.10" width="12.4" height="20.10" fill="#b4b4b4"/>
<line x1="129.10" y1="428.80" x2="141.50" y2="428.80" stroke="#1e1e1e" stroke-width="1.5"/>
<line x1="135.30" y1="449.80" x2="135.30" y2="451.60" stroke="#262626" stroke-width="1"/>
<line x1="154.30" y1="411.40" x2="154.30" y2="445.00" stroke="#262626" stroke-width="1.1"/>
<line x1="151.00" y1="411.40" x2="157.60" y2="411.40" stroke="#262626" stroke-width="1.1"/>
<line x1="151.00" y1="445.00" x2="157.60" y2="445.00" stroke="#262626" stroke-width="1.1"/>
<rect x="148.10" y="418.80" width="12.4" height="14.20" fill="#b4b4b4"/>
<line x1="148.10" y1="421.80" x2="160.50" y2="421.80" stroke="#1e1e1e" stroke-width="1.5"/>
<line x1="154.30" y1="449.80" x2="154.30" y2="451.60" stroke="#262626" stroke-width="1"/>
<line x1="173.40" y1="398.50" x2="173.40" y2="421.30" stroke="#262626" stroke-width="1.1"/>
<line x1="170.10" y1="398.50" x2="176.70" y2="398.50" stroke="#262626" stroke-width="1.1"/>
<line x1="170.10" y1="421.30" x2="176.70" y2="421.30" stroke="#262626" stroke-width="1.1"/>
<rect x="167.20" y="405.90" width="12.4" height="10.80" fill="#2f2f2f"/>
<line x1="167.20" y1="410.30" x2="179.60" y2="410.30" stroke="#0e0e0e" stroke-width="1.5"/>
<line x1="173.40" y1="449.80" x2="173.40" y2="451.60" stroke="#262626" stroke-width="1"/>
<line x1="192.50" y1="387.10" x2="192.50" y2="412.50" stroke="#262626" stroke-width="1.1"/>
<line x1="189.20" y1="387.10" x2="195.80" y2="387.10" stroke="#262626" stroke-width="1.1"/>
<line x1="189.20" y1="412.50" x2="195.80" y2="412.50" stroke="#262626" stroke-width="1.1"/>
<rect x="186.30" y="394.90" width="12.4" height="14.20" fill="#2f2f2f"/>
<line x1="186.30" y1="398.10" x2="198.70" y2="398.10" stroke="#0e0e0e" stroke-width="1.5"/>
<line x1="192.50" y1="449.80" x2="192.50" y2="451.60" stroke="#262626" stroke-width="1"/>
<line x1="126.00" y1="376.20" x2="126.00" y2="450.40" stroke="#262626" stroke-width="1.3"/>
<line x1="125.40" y1="449.80" x2="202.00" y2="449.80" stroke="#262626" stroke-width="1.3"/>
<path d="M134.30,389.20 L134.30,387.90 L155.00,387.90 L155.00,389.20" fill="none" stroke="#262626" stroke-width="0.9"/>
<text x="144.65" y="385.70" font-size="4.4" text-anchor="middle" fill="#333" stroke="#333" stroke-width="0.12"><tspan font-style="italic">p</tspan>=0.002</text>
<path d="M173.00,385.00 L173.00,383.70 L193.10,383.70 L193.10,385.00" fill="none" stroke="#262626" stroke-width="0.9"/>
<text x="183.05" y="381.50" font-size="4.4" text-anchor="middle" fill="#333" stroke="#333" stroke-width="0.12"><tspan font-style="italic">p</tspan>=0.0001</text>
<text transform="translate(135.10,460.80) scale(0.92,1)" font-size="5.7" font-weight="bold" text-anchor="middle" fill="#3a3a3a">CRT<tspan font-size="3.3" dy="-2.4">Lo</tspan></text>
<text transform="translate(154.10,460.80) scale(0.92,1)" font-size="5.7" font-weight="bold" text-anchor="middle" fill="#3a3a3a">CRT<tspan font-size="3.3" dy="-2.4">Hi</tspan></text>
<text transform="translate(173.20,460.80) scale(0.92,1)" font-size="5.7" font-weight="bold" text-anchor="middle" fill="#3a3a3a">CRT<tspan font-size="3.3" dy="-2.4">Lo</tspan></text>
<text transform="translate(192.30,460.80) scale(0.92,1)" font-size="5.7" font-weight="bold" text-anchor="middle" fill="#3a3a3a">CRT<tspan font-size="3.3" dy="-2.4">Hi</tspan></text>
<line x1="127.20" y1="466.20" x2="161.50" y2="466.20" stroke="#262626" stroke-width="1"/>
<line x1="127.20" y1="465.00" x2="127.20" y2="467.40" stroke="#262626" stroke-width="0.9"/>
<line x1="161.50" y1="465.00" x2="161.50" y2="467.40" stroke="#262626" stroke-width="0.9"/>
<text transform="translate(144.35,474.70) scale(0.92,1)" font-size="6.9" text-anchor="middle" fill="#222" stroke="#222" stroke-width="0.22">Prior</text>
<line x1="164.80" y1="466.20" x2="199.20" y2="466.20" stroke="#262626" stroke-width="1"/>
<line x1="164.80" y1="465.00" x2="164.80" y2="467.40" stroke="#262626" stroke-width="0.9"/>
<line x1="199.20" y1="465.00" x2="199.20" y2="467.40" stroke="#262626" stroke-width="0.9"/>
<text transform="translate(182.00,474.70) scale(0.92,1)" font-size="6.9" text-anchor="middle" fill="#222" stroke="#222" stroke-width="0.22">Recovery</text>
<text x="269.05" y="372.20" font-size="7.5" text-anchor="middle" font-weight="bold" font-style="italic" fill="#111" >CCR5</text>
<text transform="translate(219.85,412.15) rotate(-90)" font-size="6.9" text-anchor="middle" fill="#222" stroke="#222" stroke-width="0.25" textLength="72.5" lengthAdjust="spacingAndGlyphs">Relative expression levels</text>
<line x1="229.05" y1="376.50" x2="230.85" y2="376.50" stroke="#262626" stroke-width="1"/>
<text x="227.05" y="378.40" font-size="5.2" text-anchor="end" font-weight="normal" font-style="normal" fill="#222" stroke="#222" stroke-width="0.22">10</text>
<line x1="229.05" y1="391.16" x2="230.85" y2="391.16" stroke="#262626" stroke-width="1"/>
<text x="227.05" y="393.06" font-size="5.2" text-anchor="end" font-weight="normal" font-style="normal" fill="#222" stroke="#222" stroke-width="0.22">8</text>
<line x1="229.05" y1="405.82" x2="230.85" y2="405.82" stroke="#262626" stroke-width="1"/>
<text x="227.05" y="407.72" font-size="5.2" text-anchor="end" font-weight="normal" font-style="normal" fill="#222" stroke="#222" stroke-width="0.22">6</text>
<line x1="229.05" y1="420.48" x2="230.85" y2="420.48" stroke="#262626" stroke-width="1"/>
<text x="227.05" y="422.38" font-size="5.2" text-anchor="end" font-weight="normal" font-style="normal" fill="#222" stroke="#222" stroke-width="0.22">4</text>
<line x1="229.05" y1="435.14" x2="230.85" y2="435.14" stroke="#262626" stroke-width="1"/>
<text x="227.05" y="437.04" font-size="5.2" text-anchor="end" font-weight="normal" font-style="normal" fill="#222" stroke="#222" stroke-width="0.22">2</text>
<line x1="229.05" y1="449.80" x2="230.85" y2="449.80" stroke="#262626" stroke-width="1"/>
<text x="227.05" y="451.70" font-size="5.2" text-anchor="end" font-weight="normal" font-style="normal" fill="#222" stroke="#222" stroke-width="0.22">0</text>
<line x1="240.15" y1="384.30" x2="240.15" y2="446.70" stroke="#262626" stroke-width="1.1"/>
<line x1="236.85" y1="384.30" x2="243.45" y2="384.30" stroke="#262626" stroke-width="1.1"/>
<line x1="236.85" y1="446.70" x2="243.45" y2="446.70" stroke="#262626" stroke-width="1.1"/>
<rect x="233.95" y="409.10" width="12.4" height="26.00" fill="#b4b4b4"/>
<line x1="233.95" y1="426.60" x2="246.35" y2="426.60" stroke="#1e1e1e" stroke-width="1.5"/>
<line x1="240.15" y1="449.80" x2="240.15" y2="451.60" stroke="#262626" stroke-width="1"/>
<line x1="259.15" y1="405.10" x2="259.15" y2="449.80" stroke="#262626" stroke-width="1.1"/>
<line x1="255.85" y1="405.10" x2="262.45" y2="405.10" stroke="#262626" stroke-width="1.1"/>
<line x1="255.85" y1="449.80" x2="262.45" y2="449.80" stroke="#262626" stroke-width="1.1"/>
<rect x="252.95" y="412.90" width="12.4" height="19.00" fill="#b4b4b4"/>
<line x1="252.95" y1="419.90" x2="265.35" y2="419.90" stroke="#1e1e1e" stroke-width="1.5"/>
<line x1="259.15" y1="449.80" x2="259.15" y2="451.60" stroke="#262626" stroke-width="1"/>
<line x1="278.25" y1="396.40" x2="278.25" y2="422.40" stroke="#262626" stroke-width="1.1"/>
<line x1="274.95" y1="396.40" x2="281.55" y2="396.40" stroke="#262626" stroke-width="1.1"/>
<line x1="274.95" y1="422.40" x2="281.55" y2="422.40" stroke="#262626" stroke-width="1.1"/>
<rect x="272.05" y="398.10" width="12.4" height="13.10" fill="#2f2f2f"/>
<line x1="272.05" y1="399.10" x2="284.45" y2="399.10" stroke="#0e0e0e" stroke-width="1.5"/>
<line x1="278.25" y1="449.80" x2="278.25" y2="451.60" stroke="#262626" stroke-width="1"/>
<line x1="297.35" y1="388.60" x2="297.35" y2="404.00" stroke="#262626" stroke-width="1.1"/>
<line x1="294.05" y1="388.60" x2="300.65" y2="388.60" stroke="#262626" stroke-width="1.1"/>
<line x1="294.05" y1="404.00" x2="300.65" y2="404.00" stroke="#262626" stroke-width="1.1"/>
<rect x="291.15" y="391.70" width="12.4" height="6.80" fill="#2f2f2f"/>
<line x1="291.15" y1="394.90" x2="303.55" y2="394.90" stroke="#0e0e0e" stroke-width="1.5"/>
<line x1="297.35" y1="449.80" x2="297.35" y2="451.60" stroke="#262626" stroke-width="1"/>
<line x1="230.85" y1="376.20" x2="230.85" y2="450.40" stroke="#262626" stroke-width="1.3"/>
<line x1="230.25" y1="449.80" x2="306.85" y2="449.80" stroke="#262626" stroke-width="1.3"/>
<path d="M238.80,382.50 L238.80,381.20 L260.00,381.20 L260.00,382.50" fill="none" stroke="#262626" stroke-width="0.9"/>
<text x="249.40" y="379.00" font-size="4.4" text-anchor="middle" fill="#333" stroke="#333" stroke-width="0.12"><tspan font-style="italic">p</tspan>=0.004</text>
<path d="M278.00,387.10 L278.00,385.80 L298.00,385.80 L298.00,387.10" fill="none" stroke="#262626" stroke-width="0.9"/>
<text x="288.00" y="383.60" font-size="4.4" text-anchor="middle" fill="#333" stroke="#333" stroke-width="0.12"><tspan font-style="italic">p</tspan>=0.004</text>
<text transform="translate(239.95,460.80) scale(0.92,1)" font-size="5.7" font-weight="bold" text-anchor="middle" fill="#3a3a3a">CRT<tspan font-size="3.3" dy="-2.4">Lo</tspan></text>
<text transform="translate(258.95,460.80) scale(0.92,1)" font-size="5.7" font-weight="bold" text-anchor="middle" fill="#3a3a3a">CRT<tspan font-size="3.3" dy="-2.4">Hi</tspan></text>
<text transform="translate(278.05,460.80) scale(0.92,1)" font-size="5.7" font-weight="bold" text-anchor="middle" fill="#3a3a3a">CRT<tspan font-size="3.3" dy="-2.4">Lo</tspan></text>
<text transform="translate(297.15,460.80) scale(0.92,1)" font-size="5.7" font-weight="bold" text-anchor="middle" fill="#3a3a3a">CRT<tspan font-size="3.3" dy="-2.4">Hi</tspan></text>
<line x1="232.05" y1="466.20" x2="266.35" y2="466.20" stroke="#262626" stroke-width="1"/>
<line x1="232.05" y1="465.00" x2="232.05" y2="467.40" stroke="#262626" stroke-width="0.9"/>
<line x1="266.35" y1="465.00" x2="266.35" y2="467.40" stroke="#262626" stroke-width="0.9"/>
<text transform="translate(249.20,474.70) scale(0.92,1)" font-size="6.9" text-anchor="middle" fill="#222" stroke="#222" stroke-width="0.22">Prior</text>
<line x1="269.65" y1="466.20" x2="304.05" y2="466.20" stroke="#262626" stroke-width="1"/>
<line x1="269.65" y1="465.00" x2="269.65" y2="467.40" stroke="#262626" stroke-width="0.9"/>
<line x1="304.05" y1="465.00" x2="304.05" y2="467.40" stroke="#262626" stroke-width="0.9"/>
<text transform="translate(286.85,474.70) scale(0.92,1)" font-size="6.9" text-anchor="middle" fill="#222" stroke="#222" stroke-width="0.22">Recovery</text>
<text x="372.30" y="372.20" font-size="7.5" text-anchor="middle" font-weight="bold" font-style="italic" fill="#111" >CD8</text>
<text transform="translate(323.10,412.15) rotate(-90)" font-size="6.9" text-anchor="middle" fill="#222" stroke="#222" stroke-width="0.25" textLength="72.5" lengthAdjust="spacingAndGlyphs">Relative expression levels</text>
<line x1="332.30" y1="376.50" x2="334.10" y2="376.50" stroke="#262626" stroke-width="1"/>
<text x="330.30" y="378.40" font-size="5.2" text-anchor="end" font-weight="normal" font-style="normal" fill="#222" stroke="#222" stroke-width="0.22">15</text>
<line x1="332.30" y1="400.93" x2="334.10" y2="400.93" stroke="#262626" stroke-width="1"/>
<text x="330.30" y="402.83" font-size="5.2" text-anchor="end" font-weight="normal" font-style="normal" fill="#222" stroke="#222" stroke-width="0.22">10</text>
<line x1="332.30" y1="425.37" x2="334.10" y2="425.37" stroke="#262626" stroke-width="1"/>
<text x="330.30" y="427.27" font-size="5.2" text-anchor="end" font-weight="normal" font-style="normal" fill="#222" stroke="#222" stroke-width="0.22">5</text>
<line x1="332.30" y1="449.80" x2="334.10" y2="449.80" stroke="#262626" stroke-width="1"/>
<text x="330.30" y="451.70" font-size="5.2" text-anchor="end" font-weight="normal" font-style="normal" fill="#222" stroke="#222" stroke-width="0.22">0</text>
<line x1="343.40" y1="394.90" x2="343.40" y2="439.30" stroke="#262626" stroke-width="1.1"/>
<line x1="340.10" y1="394.90" x2="346.70" y2="394.90" stroke="#262626" stroke-width="1.1"/>
<line x1="340.10" y1="439.30" x2="346.70" y2="439.30" stroke="#262626" stroke-width="1.1"/>
<rect x="337.20" y="418.80" width="12.4" height="11.40" fill="#b4b4b4"/>
<line x1="337.20" y1="425.20" x2="349.60" y2="425.20" stroke="#1e1e1e" stroke-width="1.5"/>
<line x1="343.40" y1="449.80" x2="343.40" y2="451.60" stroke="#262626" stroke-width="1"/>
<line x1="362.40" y1="415.40" x2="362.40" y2="449.80" stroke="#262626" stroke-width="1.1"/>
<line x1="359.10" y1="415.40" x2="365.70" y2="415.40" stroke="#262626" stroke-width="1.1"/>
<line x1="359.10" y1="449.80" x2="365.70" y2="449.80" stroke="#262626" stroke-width="1.1"/>
<rect x="356.20" y="423.90" width="12.4" height="15.40" fill="#b4b4b4"/>
<line x1="356.20" y1="429.40" x2="368.60" y2="429.40" stroke="#1e1e1e" stroke-width="1.5"/>
<line x1="362.40" y1="449.80" x2="362.40" y2="451.60" stroke="#262626" stroke-width="1"/>
<line x1="381.50" y1="406.50" x2="381.50" y2="423.50" stroke="#262626" stroke-width="1.1"/>
<line x1="378.20" y1="406.50" x2="384.80" y2="406.50" stroke="#262626" stroke-width="1.1"/>
<line x1="378.20" y1="423.50" x2="384.80" y2="423.50" stroke="#262626" stroke-width="1.1"/>
<rect x="375.30" y="410.30" width="12.4" height="6.80" fill="#2f2f2f"/>
<line x1="375.30" y1="413.90" x2="387.70" y2="413.90" stroke="#0e0e0e" stroke-width="1.5"/>
<line x1="381.50" y1="449.80" x2="381.50" y2="451.60" stroke="#262626" stroke-width="1"/>
<line x1="400.60" y1="400.60" x2="400.60" y2="419.70" stroke="#262626" stroke-width="1.1"/>
<line x1="397.30" y1="400.60" x2="403.90" y2="400.60" stroke="#262626" stroke-width="1.1"/>
<line x1="397.30" y1="419.70" x2="403.90" y2="419.70" stroke="#262626" stroke-width="1.1"/>
<rect x="394.40" y="404.80" width="12.4" height="8.50" fill="#2f2f2f"/>
<line x1="394.40" y1="409.70" x2="406.80" y2="409.70" stroke="#0e0e0e" stroke-width="1.5"/>
<line x1="400.60" y1="449.80" x2="400.60" y2="451.60" stroke="#262626" stroke-width="1"/>
<line x1="334.10" y1="376.20" x2="334.10" y2="450.40" stroke="#262626" stroke-width="1.3"/>
<line x1="333.50" y1="449.80" x2="410.10" y2="449.80" stroke="#262626" stroke-width="1.3"/>
<path d="M343.40,389.20 L343.40,387.90 L363.50,387.90 L363.50,389.20" fill="none" stroke="#262626" stroke-width="0.9"/>
<text x="353.45" y="385.70" font-size="4.4" text-anchor="middle" fill="#333" stroke="#333" stroke-width="0.12"><tspan font-style="italic">p</tspan>=0.01</text>
<path d="M381.40,395.10 L381.40,393.80 L401.10,393.80 L401.10,395.10" fill="none" stroke="#262626" stroke-width="0.9"/>
<text x="391.25" y="391.60" font-size="4.4" text-anchor="middle" fill="#333" stroke="#333" stroke-width="0.12"><tspan font-style="italic">p</tspan>=0.03</text>
<text transform="translate(343.20,460.80) scale(0.92,1)" font-size="5.7" font-weight="bold" text-anchor="middle" fill="#3a3a3a">CRT<tspan font-size="3.3" dy="-2.4">Lo</tspan></text>
<text transform="translate(362.20,460.80) scale(0.92,1)" font-size="5.7" font-weight="bold" text-anchor="middle" fill="#3a3a3a">CRT<tspan font-size="3.3" dy="-2.4">Hi</tspan></text>
<text transform="translate(381.30,460.80) scale(0.92,1)" font-size="5.7" font-weight="bold" text-anchor="middle" fill="#3a3a3a">CRT<tspan font-size="3.3" dy="-2.4">Lo</tspan></text>
<text transform="translate(400.40,460.80) scale(0.92,1)" font-size="5.7" font-weight="bold" text-anchor="middle" fill="#3a3a3a">CRT<tspan font-size="3.3" dy="-2.4">Hi</tspan></text>
<line x1="335.30" y1="466.20" x2="369.60" y2="466.20" stroke="#262626" stroke-width="1"/>
<line x1="335.30" y1="465.00" x2="335.30" y2="467.40" stroke="#262626" stroke-width="0.9"/>
<line x1="369.60" y1="465.00" x2="369.60" y2="467.40" stroke="#262626" stroke-width="0.9"/>
<text transform="translate(352.45,474.70) scale(0.92,1)" font-size="6.9" text-anchor="middle" fill="#222" stroke="#222" stroke-width="0.22">Prior</text>
<line x1="372.90" y1="466.20" x2="407.30" y2="466.20" stroke="#262626" stroke-width="1"/>
<line x1="372.90" y1="465.00" x2="372.90" y2="467.40" stroke="#262626" stroke-width="0.9"/>
<line x1="407.30" y1="465.00" x2="407.30" y2="467.40" stroke="#262626" stroke-width="0.9"/>
<text transform="translate(390.10,474.70) scale(0.92,1)" font-size="6.9" text-anchor="middle" fill="#222" stroke="#222" stroke-width="0.22">Recovery</text>
<text x="475.00" y="372.20" font-size="7.5" text-anchor="middle" font-weight="bold" font-style="italic" fill="#111" >CD28</text>
<text transform="translate(425.80,412.15) rotate(-90)" font-size="6.9" text-anchor="middle" fill="#222" stroke="#222" stroke-width="0.25" textLength="72.5" lengthAdjust="spacingAndGlyphs">Relative expression levels</text>
<line x1="435.00" y1="376.50" x2="436.80" y2="376.50" stroke="#262626" stroke-width="1"/>
<text x="433.00" y="378.40" font-size="5.2" text-anchor="end" font-weight="normal" font-style="normal" fill="#222" stroke="#222" stroke-width="0.22">15</text>
<line x1="435.00" y1="400.93" x2="436.80" y2="400.93" stroke="#262626" stroke-width="1"/>
<text x="433.00" y="402.83" font-size="5.2" text-anchor="end" font-weight="normal" font-style="normal" fill="#222" stroke="#222" stroke-width="0.22">10</text>
<line x1="435.00" y1="425.37" x2="436.80" y2="425.37" stroke="#262626" stroke-width="1"/>
<text x="433.00" y="427.27" font-size="5.2" text-anchor="end" font-weight="normal" font-style="normal" fill="#222" stroke="#222" stroke-width="0.22">5</text>
<line x1="435.00" y1="449.80" x2="436.80" y2="449.80" stroke="#262626" stroke-width="1"/>
<text x="433.00" y="451.70" font-size="5.2" text-anchor="end" font-weight="normal" font-style="normal" fill="#222" stroke="#222" stroke-width="0.22">0</text>
<line x1="446.10" y1="403.30" x2="446.10" y2="444.00" stroke="#262626" stroke-width="1.1"/>
<line x1="442.80" y1="403.30" x2="449.40" y2="403.30" stroke="#262626" stroke-width="1.1"/>
<line x1="442.80" y1="444.00" x2="449.40" y2="444.00" stroke="#262626" stroke-width="1.1"/>
<rect x="439.90" y="414.80" width="12.4" height="18.60" fill="#b4b4b4"/>
<line x1="439.90" y1="426.80" x2="452.30" y2="426.80" stroke="#1e1e1e" stroke-width="1.5"/>
<line x1="446.10" y1="449.80" x2="446.10" y2="451.60" stroke="#262626" stroke-width="1"/>
<line x1="465.10" y1="413.10" x2="465.10" y2="449.80" stroke="#262626" stroke-width="1.1"/>
<line x1="461.80" y1="413.10" x2="468.40" y2="413.10" stroke="#262626" stroke-width="1.1"/>
<line x1="461.80" y1="449.80" x2="468.40" y2="449.80" stroke="#262626" stroke-width="1.1"/>
<rect x="458.90" y="419.70" width="12.4" height="24.30" fill="#b4b4b4"/>
<line x1="458.90" y1="434.10" x2="471.30" y2="434.10" stroke="#1e1e1e" stroke-width="1.5"/>
<line x1="465.10" y1="449.80" x2="465.10" y2="451.60" stroke="#262626" stroke-width="1"/>
<line x1="484.20" y1="401.10" x2="484.20" y2="425.50" stroke="#262626" stroke-width="1.1"/>
<line x1="480.90" y1="401.10" x2="487.50" y2="401.10" stroke="#262626" stroke-width="1.1"/>
<line x1="480.90" y1="425.50" x2="487.50" y2="425.50" stroke="#262626" stroke-width="1.1"/>
<rect x="478.00" y="406.90" width="12.4" height="8.40" fill="#2f2f2f"/>
<line x1="478.00" y1="410.40" x2="490.40" y2="410.40" stroke="#0e0e0e" stroke-width="1.5"/>
<line x1="484.20" y1="449.80" x2="484.20" y2="451.60" stroke="#262626" stroke-width="1"/>
<line x1="503.30" y1="392.10" x2="503.30" y2="420.20" stroke="#262626" stroke-width="1.1"/>
<line x1="500.00" y1="392.10" x2="506.60" y2="392.10" stroke="#262626" stroke-width="1.1"/>
<line x1="500.00" y1="420.20" x2="506.60" y2="420.20" stroke="#262626" stroke-width="1.1"/>
<rect x="497.10" y="394.30" width="12.4" height="16.60" fill="#2f2f2f"/>
<line x1="497.10" y1="403.10" x2="509.50" y2="403.10" stroke="#0e0e0e" stroke-width="1.5"/>
<line x1="503.30" y1="449.80" x2="503.30" y2="451.60" stroke="#262626" stroke-width="1"/>
<line x1="436.80" y1="376.20" x2="436.80" y2="450.40" stroke="#262626" stroke-width="1.3"/>
<line x1="436.20" y1="449.80" x2="512.80" y2="449.80" stroke="#262626" stroke-width="1.3"/>
<path d="M445.90,392.30 L445.90,391.00 L465.80,391.00 L465.80,392.30" fill="none" stroke="#262626" stroke-width="0.9"/>
<text x="455.85" y="388.80" font-size="4.4" text-anchor="middle" fill="#333" stroke="#333" stroke-width="0.12"><tspan font-style="italic">p</tspan>=0.003</text>
<path d="M484.20,385.60 L484.20,384.30 L503.40,384.30 L503.40,385.60" fill="none" stroke="#262626" stroke-width="0.9"/>
<text x="493.80" y="382.10" font-size="4.4" text-anchor="middle" fill="#333" stroke="#333" stroke-width="0.12"><tspan font-style="italic">p</tspan>=0.015</text>
<text transform="translate(445.90,460.80) scale(0.92,1)" font-size="5.7" font-weight="bold" text-anchor="middle" fill="#3a3a3a">CRT<tspan font-size="3.3" dy="-2.4">Lo</tspan></text>
<text transform="translate(464.90,460.80) scale(0.92,1)" font-size="5.7" font-weight="bold" text-anchor="middle" fill="#3a3a3a">CRT<tspan font-size="3.3" dy="-2.4">Hi</tspan></text>
<text transform="translate(484.00,460.80) scale(0.92,1)" font-size="5.7" font-weight="bold" text-anchor="middle" fill="#3a3a3a">CRT<tspan font-size="3.3" dy="-2.4">Lo</tspan></text>
<text transform="translate(503.10,460.80) scale(0.92,1)" font-size="5.7" font-weight="bold" text-anchor="middle" fill="#3a3a3a">CRT<tspan font-size="3.3" dy="-2.4">Hi</tspan></text>
<line x1="438.00" y1="466.20" x2="472.30" y2="466.20" stroke="#262626" stroke-width="1"/>
<line x1="438.00" y1="465.00" x2="438.00" y2="467.40" stroke="#262626" stroke-width="0.9"/>
<line x1="472.30" y1="465.00" x2="472.30" y2="467.40" stroke="#262626" stroke-width="0.9"/>
<text transform="translate(455.15,474.70) scale(0.92,1)" font-size="6.9" text-anchor="middle" fill="#222" stroke="#222" stroke-width="0.22">Prior</text>
<line x1="475.60" y1="466.20" x2="510.00" y2="466.20" stroke="#262626" stroke-width="1"/>
<line x1="475.60" y1="465.00" x2="475.60" y2="467.40" stroke="#262626" stroke-width="0.9"/>
<line x1="510.00" y1="465.00" x2="510.00" y2="467.40" stroke="#262626" stroke-width="0.9"/>
<text transform="translate(492.80,474.70) scale(0.92,1)" font-size="6.9" text-anchor="middle" fill="#222" stroke="#222" stroke-width="0.22">Recovery</text>
<text x="62.40" y="492.20" font-size="7.5" text-anchor="middle" font-weight="bold" font-style="italic" fill="#111" >CD40LG</text>
<text transform="translate(13.20,531.95) rotate(-90)" font-size="6.9" text-anchor="middle" fill="#222" stroke="#222" stroke-width="0.25" textLength="72.5" lengthAdjust="spacingAndGlyphs">Relative expression levels</text>
<line x1="22.40" y1="496.50" x2="24.20" y2="496.50" stroke="#262626" stroke-width="1"/>
<text x="20.40" y="498.40" font-size="5.2" text-anchor="end" font-weight="normal" font-style="normal" fill="#222" stroke="#222" stroke-width="0.22">14</text>
<line x1="22.40" y1="506.91" x2="24.20" y2="506.91" stroke="#262626" stroke-width="1"/>
<text x="20.40" y="508.81" font-size="5.2" text-anchor="end" font-weight="normal" font-style="normal" fill="#222" stroke="#222" stroke-width="0.22">12</text>
<line x1="22.40" y1="517.33" x2="24.20" y2="517.33" stroke="#262626" stroke-width="1"/>
<text x="20.40" y="519.23" font-size="5.2" text-anchor="end" font-weight="normal" font-style="normal" fill="#222" stroke="#222" stroke-width="0.22">10</text>
<line x1="22.40" y1="527.74" x2="24.20" y2="527.74" stroke="#262626" stroke-width="1"/>
<text x="20.40" y="529.64" font-size="5.2" text-anchor="end" font-weight="normal" font-style="normal" fill="#222" stroke="#222" stroke-width="0.22">8</text>
<line x1="22.40" y1="538.16" x2="24.20" y2="538.16" stroke="#262626" stroke-width="1"/>
<text x="20.40" y="540.06" font-size="5.2" text-anchor="end" font-weight="normal" font-style="normal" fill="#222" stroke="#222" stroke-width="0.22">6</text>
<line x1="22.40" y1="548.57" x2="24.20" y2="548.57" stroke="#262626" stroke-width="1"/>
<text x="20.40" y="550.47" font-size="5.2" text-anchor="end" font-weight="normal" font-style="normal" fill="#222" stroke="#222" stroke-width="0.22">4</text>
<line x1="22.40" y1="558.99" x2="24.20" y2="558.99" stroke="#262626" stroke-width="1"/>
<text x="20.40" y="560.89" font-size="5.2" text-anchor="end" font-weight="normal" font-style="normal" fill="#222" stroke="#222" stroke-width="0.22">2</text>
<line x1="22.40" y1="569.40" x2="24.20" y2="569.40" stroke="#262626" stroke-width="1"/>
<text x="20.40" y="571.30" font-size="5.2" text-anchor="end" font-weight="normal" font-style="normal" fill="#222" stroke="#222" stroke-width="0.22">0</text>
<line x1="33.50" y1="520.20" x2="33.50" y2="562.90" stroke="#262626" stroke-width="1.1"/>
<line x1="30.20" y1="520.20" x2="36.80" y2="520.20" stroke="#262626" stroke-width="1.1"/>
<line x1="30.20" y1="562.90" x2="36.80" y2="562.90" stroke="#262626" stroke-width="1.1"/>
<rect x="27.30" y="536.70" width="12.4" height="11.40" fill="#b4b4b4"/>
<line x1="27.30" y1="546.00" x2="39.70" y2="546.00" stroke="#1e1e1e" stroke-width="1.5"/>
<line x1="33.50" y1="569.40" x2="33.50" y2="571.20" stroke="#262626" stroke-width="1"/>
<line x1="52.50" y1="534.60" x2="52.50" y2="569.40" stroke="#262626" stroke-width="1.1"/>
<line x1="49.20" y1="534.60" x2="55.80" y2="534.60" stroke="#262626" stroke-width="1.1"/>
<line x1="49.20" y1="569.40" x2="55.80" y2="569.40" stroke="#262626" stroke-width="1.1"/>
<rect x="46.30" y="538.20" width="12.4" height="19.70" fill="#b4b4b4"/>
<line x1="46.30" y1="556.20" x2="58.70" y2="556.20" stroke="#1e1e1e" stroke-width="1.5"/>
<line x1="52.50" y1="569.40" x2="52.50" y2="571.20" stroke="#262626" stroke-width="1"/>
<line x1="71.60" y1="522.70" x2="71.60" y2="540.90" stroke="#262626" stroke-width="1.1"/>
<line x1="68.30" y1="522.70" x2="74.90" y2="522.70" stroke="#262626" stroke-width="1.1"/>
<line x1="68.30" y1="540.90" x2="74.90" y2="540.90" stroke="#262626" stroke-width="1.1"/>
<rect x="65.40" y="527.00" width="12.4" height="6.30" fill="#2f2f2f"/>
<line x1="65.40" y1="530.30" x2="77.80" y2="530.30" stroke="#0e0e0e" stroke-width="1.5"/>
<line x1="71.60" y1="569.40" x2="71.60" y2="571.20" stroke="#262626" stroke-width="1"/>
<line x1="90.70" y1="512.80" x2="90.70" y2="530.80" stroke="#262626" stroke-width="1.1"/>
<line x1="87.40" y1="512.80" x2="94.00" y2="512.80" stroke="#262626" stroke-width="1.1"/>
<line x1="87.40" y1="530.80" x2="94.00" y2="530.80" stroke="#262626" stroke-width="1.1"/>
<rect x="84.50" y="513.80" width="12.4" height="15.90" fill="#2f2f2f"/>
<line x1="84.50" y1="524.40" x2="96.90" y2="524.40" stroke="#0e0e0e" stroke-width="1.5"/>
<line x1="90.70" y1="569.40" x2="90.70" y2="571.20" stroke="#262626" stroke-width="1"/>
<line x1="24.20" y1="496.20" x2="24.20" y2="570.00" stroke="#262626" stroke-width="1.3"/>
<line x1="23.60" y1="569.40" x2="100.20" y2="569.40" stroke="#262626" stroke-width="1.3"/>
<path d="M32.80,510.90 L32.80,509.60 L51.80,509.60 L51.80,510.90" fill="none" stroke="#262626" stroke-width="0.9"/>
<text x="42.30" y="507.40" font-size="4.4" text-anchor="middle" fill="#333" stroke="#333" stroke-width="0.12"><tspan font-style="italic">p</tspan>=0.003</text>
<path d="M71.50,507.70 L71.50,506.40 L92.00,506.40 L92.00,507.70" fill="none" stroke="#262626" stroke-width="0.9"/>
<text x="81.75" y="504.20" font-size="4.4" text-anchor="middle" fill="#333" stroke="#333" stroke-width="0.12"><tspan font-style="italic">p</tspan>=0.008</text>
<text transform="translate(33.30,580.40) scale(0.92,1)" font-size="5.7" font-weight="bold" text-anchor="middle" fill="#3a3a3a">CRT<tspan font-size="3.3" dy="-2.4">Lo</tspan></text>
<text transform="translate(52.30,580.40) scale(0.92,1)" font-size="5.7" font-weight="bold" text-anchor="middle" fill="#3a3a3a">CRT<tspan font-size="3.3" dy="-2.4">Hi</tspan></text>
<text transform="translate(71.40,580.40) scale(0.92,1)" font-size="5.7" font-weight="bold" text-anchor="middle" fill="#3a3a3a">CRT<tspan font-size="3.3" dy="-2.4">Lo</tspan></text>
<text transform="translate(90.50,580.40) scale(0.92,1)" font-size="5.7" font-weight="bold" text-anchor="middle" fill="#3a3a3a">CRT<tspan font-size="3.3" dy="-2.4">Hi</tspan></text>
<line x1="25.40" y1="585.80" x2="59.70" y2="585.80" stroke="#262626" stroke-width="1"/>
<line x1="25.40" y1="584.60" x2="25.40" y2="587.00" stroke="#262626" stroke-width="0.9"/>
<line x1="59.70" y1="584.60" x2="59.70" y2="587.00" stroke="#262626" stroke-width="0.9"/>
<text transform="translate(42.55,594.30) scale(0.92,1)" font-size="6.9" text-anchor="middle" fill="#222" stroke="#222" stroke-width="0.22">Prior</text>
<line x1="63.00" y1="585.80" x2="97.40" y2="585.80" stroke="#262626" stroke-width="1"/>
<line x1="63.00" y1="584.60" x2="63.00" y2="587.00" stroke="#262626" stroke-width="0.9"/>
<line x1="97.40" y1="584.60" x2="97.40" y2="587.00" stroke="#262626" stroke-width="0.9"/>
<text transform="translate(80.20,594.30) scale(0.92,1)" font-size="6.9" text-anchor="middle" fill="#222" stroke="#222" stroke-width="0.22">Recovery</text>
<text x="164.20" y="492.20" font-size="7.5" text-anchor="middle" font-weight="bold" font-style="italic" fill="#111" >CXCR3</text>
<text transform="translate(115.00,531.95) rotate(-90)" font-size="6.9" text-anchor="middle" fill="#222" stroke="#222" stroke-width="0.25" textLength="72.5" lengthAdjust="spacingAndGlyphs">Relative expression levels</text>
<line x1="124.20" y1="496.50" x2="126.00" y2="496.50" stroke="#262626" stroke-width="1"/>
<text x="122.20" y="498.40" font-size="5.2" text-anchor="end" font-weight="normal" font-style="normal" fill="#222" stroke="#222" stroke-width="0.22">15</text>
<line x1="124.20" y1="520.80" x2="126.00" y2="520.80" stroke="#262626" stroke-width="1"/>
<text x="122.20" y="522.70" font-size="5.2" text-anchor="end" font-weight="normal" font-style="normal" fill="#222" stroke="#222" stroke-width="0.22">10</text>
<line x1="124.20" y1="545.10" x2="126.00" y2="545.10" stroke="#262626" stroke-width="1"/>
<text x="122.20" y="547.00" font-size="5.2" text-anchor="end" font-weight="normal" font-style="normal" fill="#222" stroke="#222" stroke-width="0.22">5</text>
<line x1="124.20" y1="569.40" x2="126.00" y2="569.40" stroke="#262626" stroke-width="1"/>
<text x="122.20" y="571.30" font-size="5.2" text-anchor="end" font-weight="normal" font-style="normal" fill="#222" stroke="#222" stroke-width="0.22">0</text>
<line x1="135.30" y1="514.30" x2="135.30" y2="546.00" stroke="#262626" stroke-width="1.1"/>
<line x1="132.00" y1="514.30" x2="138.60" y2="514.30" stroke="#262626" stroke-width="1.1"/>
<line x1="132.00" y1="546.00" x2="138.60" y2="546.00" stroke="#262626" stroke-width="1.1"/>
<rect x="129.10" y="529.70" width="12.4" height="11.60" fill="#b4b4b4"/>
<line x1="129.10" y1="539.20" x2="141.50" y2="539.20" stroke="#1e1e1e" stroke-width="1.5"/>
<line x1="135.30" y1="569.40" x2="135.30" y2="571.20" stroke="#262626" stroke-width="1"/>
<line x1="154.30" y1="525.50" x2="154.30" y2="569.00" stroke="#262626" stroke-width="1.1"/>
<line x1="151.00" y1="525.50" x2="157.60" y2="525.50" stroke="#262626" stroke-width="1.1"/>
<line x1="151.00" y1="569.00" x2="157.60" y2="569.00" stroke="#262626" stroke-width="1.1"/>
<rect x="148.10" y="533.30" width="12.4" height="11.20" fill="#b4b4b4"/>
<line x1="148.10" y1="535.40" x2="160.50" y2="535.40" stroke="#1e1e1e" stroke-width="1.5"/>
<line x1="154.30" y1="569.40" x2="154.30" y2="571.20" stroke="#262626" stroke-width="1"/>
<line x1="173.40" y1="518.50" x2="173.40" y2="546.60" stroke="#262626" stroke-width="1.1"/>
<line x1="170.10" y1="518.50" x2="176.70" y2="518.50" stroke="#262626" stroke-width="1.1"/>
<line x1="170.10" y1="546.60" x2="176.70" y2="546.60" stroke="#262626" stroke-width="1.1"/>
<rect x="167.20" y="523.40" width="12.4" height="4.20" fill="#2f2f2f"/>
<line x1="167.20" y1="524.80" x2="179.60" y2="524.80" stroke="#0e0e0e" stroke-width="1.5"/>
<line x1="173.40" y1="569.40" x2="173.40" y2="571.20" stroke="#262626" stroke-width="1"/>
<line x1="192.50" y1="513.80" x2="192.50" y2="525.50" stroke="#262626" stroke-width="1.1"/>
<line x1="189.20" y1="513.80" x2="195.80" y2="513.80" stroke="#262626" stroke-width="1.1"/>
<line x1="189.20" y1="525.50" x2="195.80" y2="525.50" stroke="#262626" stroke-width="1.1"/>
<rect x="186.30" y="514.30" width="12.4" height="9.10" fill="#2f2f2f"/>
<line x1="186.30" y1="522.30" x2="198.70" y2="522.30" stroke="#0e0e0e" stroke-width="1.5"/>
<line x1="192.50" y1="569.40" x2="192.50" y2="571.20" stroke="#262626" stroke-width="1"/>
<line x1="126.00" y1="496.20" x2="126.00" y2="570.00" stroke="#262626" stroke-width="1.3"/>
<line x1="125.40" y1="569.40" x2="202.00" y2="569.40" stroke="#262626" stroke-width="1.3"/>
<path d="M134.30,510.90 L134.30,509.60 L155.00,509.60 L155.00,510.90" fill="none" stroke="#262626" stroke-width="0.9"/>
<text x="144.65" y="507.40" font-size="4.4" text-anchor="middle" fill="#333" stroke="#333" stroke-width="0.12"><tspan font-style="italic">p</tspan>=0.013</text>
<path d="M173.00,507.70 L173.00,506.40 L193.10,506.40 L193.10,507.70" fill="none" stroke="#262626" stroke-width="0.9"/>
<text x="183.05" y="504.20" font-size="4.4" text-anchor="middle" fill="#333" stroke="#333" stroke-width="0.12"><tspan font-style="italic">p</tspan>=0.012</text>
<text transform="translate(135.10,580.40) scale(0.92,1)" font-size="5.7" font-weight="bold" text-anchor="middle" fill="#3a3a3a">CRT<tspan font-size="3.3" dy="-2.4">Lo</tspan></text>
<text transform="translate(154.10,580.40) scale(0.92,1)" font-size="5.7" font-weight="bold" text-anchor="middle" fill="#3a3a3a">CRT<tspan font-size="3.3" dy="-2.4">Hi</tspan></text>
<text transform="translate(173.20,580.40) scale(0.92,1)" font-size="5.7" font-weight="bold" text-anchor="middle" fill="#3a3a3a">CRT<tspan font-size="3.3" dy="-2.4">Lo</tspan></text>
<text transform="translate(192.30,580.40) scale(0.92,1)" font-size="5.7" font-weight="bold" text-anchor="middle" fill="#3a3a3a">CRT<tspan font-size="3.3" dy="-2.4">Hi</tspan></text>
<line x1="127.20" y1="585.80" x2="161.50" y2="585.80" stroke="#262626" stroke-width="1"/>
<line x1="127.20" y1="584.60" x2="127.20" y2="587.00" stroke="#262626" stroke-width="0.9"/>
<line x1="161.50" y1="584.60" x2="161.50" y2="587.00" stroke="#262626" stroke-width="0.9"/>
<text transform="translate(144.35,594.30) scale(0.92,1)" font-size="6.9" text-anchor="middle" fill="#222" stroke="#222" stroke-width="0.22">Prior</text>
<line x1="164.80" y1="585.80" x2="199.20" y2="585.80" stroke="#262626" stroke-width="1"/>
<line x1="164.80" y1="584.60" x2="164.80" y2="587.00" stroke="#262626" stroke-width="0.9"/>
<line x1="199.20" y1="584.60" x2="199.20" y2="587.00" stroke="#262626" stroke-width="0.9"/>
<text transform="translate(182.00,594.30) scale(0.92,1)" font-size="6.9" text-anchor="middle" fill="#222" stroke="#222" stroke-width="0.22">Recovery</text>
<text x="269.05" y="492.20" font-size="7.5" text-anchor="middle" font-weight="bold" font-style="italic" fill="#111" >FASLG</text>
<text transform="translate(219.85,531.95) rotate(-90)" font-size="6.9" text-anchor="middle" fill="#222" stroke="#222" stroke-width="0.25" textLength="72.5" lengthAdjust="spacingAndGlyphs">Relative expression levels</text>
<line x1="229.05" y1="496.50" x2="230.85" y2="496.50" stroke="#262626" stroke-width="1"/>
<text x="227.05" y="498.40" font-size="5.2" text-anchor="end" font-weight="normal" font-style="normal" fill="#222" stroke="#222" stroke-width="0.22">12</text>
<line x1="229.05" y1="520.80" x2="230.85" y2="520.80" stroke="#262626" stroke-width="1"/>
<text x="227.05" y="522.70" font-size="5.2" text-anchor="end" font-weight="normal" font-style="normal" fill="#222" stroke="#222" stroke-width="0.22">8</text>
<line x1="229.05" y1="545.10" x2="230.85" y2="545.10" stroke="#262626" stroke-width="1"/>
<text x="227.05" y="547.00" font-size="5.2" text-anchor="end" font-weight="normal" font-style="normal" fill="#222" stroke="#222" stroke-width="0.22">4</text>
<line x1="229.05" y1="569.40" x2="230.85" y2="569.40" stroke="#262626" stroke-width="1"/>
<text x="227.05" y="571.30" font-size="5.2" text-anchor="end" font-weight="normal" font-style="normal" fill="#222" stroke="#222" stroke-width="0.22">0</text>
<line x1="240.15" y1="513.80" x2="240.15" y2="569.40" stroke="#262626" stroke-width="1.1"/>
<line x1="236.85" y1="513.80" x2="243.45" y2="513.80" stroke="#262626" stroke-width="1.1"/>
<line x1="236.85" y1="569.40" x2="243.45" y2="569.40" stroke="#262626" stroke-width="1.1"/>
<rect x="233.95" y="540.90" width="12.4" height="14.80" fill="#b4b4b4"/>
<line x1="233.95" y1="550.20" x2="246.35" y2="550.20" stroke="#1e1e1e" stroke-width="1.5"/>
<line x1="240.15" y1="569.40" x2="240.15" y2="571.20" stroke="#262626" stroke-width="1"/>
<line x1="259.15" y1="533.30" x2="259.15" y2="565.70" stroke="#262626" stroke-width="1.1"/>
<line x1="255.85" y1="533.30" x2="262.45" y2="533.30" stroke="#262626" stroke-width="1.1"/>
<line x1="255.85" y1="565.70" x2="262.45" y2="565.70" stroke="#262626" stroke-width="1.1"/>
<rect x="252.95" y="541.80" width="12.4" height="18.20" fill="#b4b4b4"/>
<line x1="252.95" y1="548.80" x2="265.35" y2="548.80" stroke="#1e1e1e" stroke-width="1.5"/>
<line x1="259.15" y1="569.40" x2="259.15" y2="571.20" stroke="#262626" stroke-width="1"/>
<line x1="278.25" y1="516.40" x2="278.25" y2="544.50" stroke="#262626" stroke-width="1.1"/>
<line x1="274.95" y1="516.40" x2="281.55" y2="516.40" stroke="#262626" stroke-width="1.1"/>
<line x1="274.95" y1="544.50" x2="281.55" y2="544.50" stroke="#262626" stroke-width="1.1"/>
<rect x="272.05" y="525.50" width="12.4" height="13.30" fill="#2f2f2f"/>
<line x1="272.05" y1="527.60" x2="284.45" y2="527.60" stroke="#0e0e0e" stroke-width="1.5"/>
<line x1="278.25" y1="569.40" x2="278.25" y2="571.20" stroke="#262626" stroke-width="1"/>
<line x1="297.35" y1="513.40" x2="297.35" y2="529.70" stroke="#262626" stroke-width="1.1"/>
<line x1="294.05" y1="513.40" x2="300.65" y2="513.40" stroke="#262626" stroke-width="1.1"/>
<line x1="294.05" y1="529.70" x2="300.65" y2="529.70" stroke="#262626" stroke-width="1.1"/>
<rect x="291.15" y="518.50" width="12.4" height="8.00" fill="#2f2f2f"/>
<line x1="291.15" y1="521.90" x2="303.55" y2="521.90" stroke="#0e0e0e" stroke-width="1.5"/>
<line x1="297.35" y1="569.40" x2="297.35" y2="571.20" stroke="#262626" stroke-width="1"/>
<line x1="230.85" y1="496.20" x2="230.85" y2="570.00" stroke="#262626" stroke-width="1.3"/>
<line x1="230.25" y1="569.40" x2="306.85" y2="569.40" stroke="#262626" stroke-width="1.3"/>
<path d="M239.30,510.90 L239.30,509.60 L260.00,509.60 L260.00,510.90" fill="none" stroke="#262626" stroke-width="0.9"/>
<text x="249.65" y="507.40" font-size="4.4" text-anchor="middle" fill="#333" stroke="#333" stroke-width="0.12"><tspan font-style="italic">p</tspan>=0.001</text>
<path d="M278.00,505.00 L278.00,503.70 L298.00,503.70 L298.00,505.00" fill="none" stroke="#262626" stroke-width="0.9"/>
<text x="288.00" y="501.50" font-size="4.4" text-anchor="middle" fill="#333" stroke="#333" stroke-width="0.12"><tspan font-style="italic">p</tspan>=0.008</text>
<text transform="translate(239.95,580.40) scale(0.92,1)" font-size="5.7" font-weight="bold" text-anchor="middle" fill="#3a3a3a">CRT<tspan font-size="3.3" dy="-2.4">Lo</tspan></text>
<text transform="translate(258.95,580.40) scale(0.92,1)" font-size="5.7" font-weight="bold" text-anchor="middle" fill="#3a3a3a">CRT<tspan font-size="3.3" dy="-2.4">Hi</tspan></text>
<text transform="translate(278.05,580.40) scale(0.92,1)" font-size="5.7" font-weight="bold" text-anchor="middle" fill="#3a3a3a">CRT<tspan font-size="3.3" dy="-2.4">Lo</tspan></text>
<text transform="translate(297.15,580.40) scale(0.92,1)" font-size="5.7" font-weight="bold" text-anchor="middle" fill="#3a3a3a">CRT<tspan font-size="3.3" dy="-2.4">Hi</tspan></text>
<line x1="232.05" y1="585.80" x2="266.35" y2="585.80" stroke="#262626" stroke-width="1"/>
<line x1="232.05" y1="584.60" x2="232.05" y2="587.00" stroke="#262626" stroke-width="0.9"/>
<line x1="266.35" y1="584.60" x2="266.35" y2="587.00" stroke="#262626" stroke-width="0.9"/>
<text transform="translate(249.20,594.30) scale(0.92,1)" font-size="6.9" text-anchor="middle" fill="#222" stroke="#222" stroke-width="0.22">Prior</text>
<line x1="269.65" y1="585.80" x2="304.05" y2="585.80" stroke="#262626" stroke-width="1"/>
<line x1="269.65" y1="584.60" x2="269.65" y2="587.00" stroke="#262626" stroke-width="0.9"/>
<line x1="304.05" y1="584.60" x2="304.05" y2="587.00" stroke="#262626" stroke-width="0.9"/>
<text transform="translate(286.85,594.30) scale(0.92,1)" font-size="6.9" text-anchor="middle" fill="#222" stroke="#222" stroke-width="0.22">Recovery</text>
<text x="372.30" y="492.20" font-size="7.5" text-anchor="middle" font-weight="bold" font-style="italic" fill="#111" >GNLY</text>
<text transform="translate(323.10,531.95) rotate(-90)" font-size="6.9" text-anchor="middle" fill="#222" stroke="#222" stroke-width="0.25" textLength="72.5" lengthAdjust="spacingAndGlyphs">Relative expression levels</text>
<line x1="332.30" y1="496.50" x2="334.10" y2="496.50" stroke="#262626" stroke-width="1"/>
<text x="330.30" y="498.40" font-size="5.2" text-anchor="end" font-weight="normal" font-style="normal" fill="#222" stroke="#222" stroke-width="0.22">12</text>
<line x1="332.30" y1="520.80" x2="334.10" y2="520.80" stroke="#262626" stroke-width="1"/>
<text x="330.30" y="522.70" font-size="5.2" text-anchor="end" font-weight="normal" font-style="normal" fill="#222" stroke="#222" stroke-width="0.22">8</text>
<line x1="332.30" y1="545.10" x2="334.10" y2="545.10" stroke="#262626" stroke-width="1"/>
<text x="330.30" y="547.00" font-size="5.2" text-anchor="end" font-weight="normal" font-style="normal" fill="#222" stroke="#222" stroke-width="0.22">4</text>
<line x1="332.30" y1="569.40" x2="334.10" y2="569.40" stroke="#262626" stroke-width="1"/>
<text x="330.30" y="571.30" font-size="5.2" text-anchor="end" font-weight="normal" font-style="normal" fill="#222" stroke="#222" stroke-width="0.22">0</text>
<line x1="343.40" y1="515.50" x2="343.40" y2="567.80" stroke="#262626" stroke-width="1.1"/>
<line x1="340.10" y1="515.50" x2="346.70" y2="515.50" stroke="#262626" stroke-width="1.1"/>
<line x1="340.10" y1="567.80" x2="346.70" y2="567.80" stroke="#262626" stroke-width="1.1"/>
<rect x="337.20" y="540.30" width="12.4" height="18.40" fill="#b4b4b4"/>
<line x1="337.20" y1="549.80" x2="349.60" y2="549.80" stroke="#1e1e1e" stroke-width="1.5"/>
<line x1="343.40" y1="569.40" x2="343.40" y2="571.20" stroke="#262626" stroke-width="1"/>
<line x1="362.40" y1="530.30" x2="362.40" y2="563.60" stroke="#262626" stroke-width="1.1"/>
<line x1="359.10" y1="530.30" x2="365.70" y2="530.30" stroke="#262626" stroke-width="1.1"/>
<line x1="359.10" y1="563.60" x2="365.70" y2="563.60" stroke="#262626" stroke-width="1.1"/>
<rect x="356.20" y="543.00" width="12.4" height="14.90" fill="#b4b4b4"/>
<line x1="356.20" y1="549.80" x2="368.60" y2="549.80" stroke="#1e1e1e" stroke-width="1.5"/>
<line x1="362.40" y1="569.40" x2="362.40" y2="571.20" stroke="#262626" stroke-width="1"/>
<line x1="381.50" y1="519.80" x2="381.50" y2="553.60" stroke="#262626" stroke-width="1.1"/>
<line x1="378.20" y1="519.80" x2="384.80" y2="519.80" stroke="#262626" stroke-width="1.1"/>
<line x1="378.20" y1="553.60" x2="384.80" y2="553.60" stroke="#262626" stroke-width="1.1"/>
<rect x="375.30" y="529.10" width="12.4" height="14.40" fill="#2f2f2f"/>
<line x1="375.30" y1="532.90" x2="387.70" y2="532.90" stroke="#0e0e0e" stroke-width="1.5"/>
<line x1="381.50" y1="569.40" x2="381.50" y2="571.20" stroke="#262626" stroke-width="1"/>
<line x1="400.60" y1="518.10" x2="400.60" y2="535.40" stroke="#262626" stroke-width="1.1"/>
<line x1="397.30" y1="518.10" x2="403.90" y2="518.10" stroke="#262626" stroke-width="1.1"/>
<line x1="397.30" y1="535.40" x2="403.90" y2="535.40" stroke="#262626" stroke-width="1.1"/>
<rect x="394.40" y="522.30" width="12.4" height="7.40" fill="#2f2f2f"/>
<line x1="394.40" y1="525.50" x2="406.80" y2="525.50" stroke="#0e0e0e" stroke-width="1.5"/>
<line x1="400.60" y1="569.40" x2="400.60" y2="571.20" stroke="#262626" stroke-width="1"/>
<line x1="334.10" y1="496.20" x2="334.10" y2="570.00" stroke="#262626" stroke-width="1.3"/>
<line x1="333.50" y1="569.40" x2="410.10" y2="569.40" stroke="#262626" stroke-width="1.3"/>
<path d="M343.40,512.00 L343.40,510.70 L363.50,510.70 L363.50,512.00" fill="none" stroke="#262626" stroke-width="0.9"/>
<text x="353.45" y="508.50" font-size="4.4" text-anchor="middle" fill="#333" stroke="#333" stroke-width="0.12"><tspan font-style="italic">p</tspan>=0.017</text>
<path d="M381.40,507.70 L381.40,506.40 L401.10,506.40 L401.10,507.70" fill="none" stroke="#262626" stroke-width="0.9"/>
<text x="391.25" y="504.20" font-size="4.4" text-anchor="middle" fill="#333" stroke="#333" stroke-width="0.12"><tspan font-style="italic">p</tspan>=0.006</text>
<text transform="translate(343.20,580.40) scale(0.92,1)" font-size="5.7" font-weight="bold" text-anchor="middle" fill="#3a3a3a">CRT<tspan font-size="3.3" dy="-2.4">Lo</tspan></text>
<text transform="translate(362.20,580.40) scale(0.92,1)" font-size="5.7" font-weight="bold" text-anchor="middle" fill="#3a3a3a">CRT<tspan font-size="3.3" dy="-2.4">Hi</tspan></text>
<text transform="translate(381.30,580.40) scale(0.92,1)" font-size="5.7" font-weight="bold" text-anchor="middle" fill="#3a3a3a">CRT<tspan font-size="3.3" dy="-2.4">Lo</tspan></text>
<text transform="translate(400.40,580.40) scale(0.92,1)" font-size="5.7" font-weight="bold" text-anchor="middle" fill="#3a3a3a">CRT<tspan font-size="3.3" dy="-2.4">Hi</tspan></text>
<line x1="335.30" y1="585.80" x2="369.60" y2="585.80" stroke="#262626" stroke-width="1"/>
<line x1="335.30" y1="584.60" x2="335.30" y2="587.00" stroke="#262626" stroke-width="0.9"/>
<line x1="369.60" y1="584.60" x2="369.60" y2="587.00" stroke="#262626" stroke-width="0.9"/>
<text transform="translate(352.45,594.30) scale(0.92,1)" font-size="6.9" text-anchor="middle" fill="#222" stroke="#222" stroke-width="0.22">Prior</text>
<line x1="372.90" y1="585.80" x2="407.30" y2="585.80" stroke="#262626" stroke-width="1"/>
<line x1="372.90" y1="584.60" x2="372.90" y2="587.00" stroke="#262626" stroke-width="0.9"/>
<line x1="407.30" y1="584.60" x2="407.30" y2="587.00" stroke="#262626" stroke-width="0.9"/>
<text transform="translate(390.10,594.30) scale(0.92,1)" font-size="6.9" text-anchor="middle" fill="#222" stroke="#222" stroke-width="0.22">Recovery</text>
<text x="475.00" y="492.20" font-size="7.5" text-anchor="middle" font-weight="bold" font-style="italic" fill="#111" >GZMB</text>
<text transform="translate(425.80,531.95) rotate(-90)" font-size="6.9" text-anchor="middle" fill="#222" stroke="#222" stroke-width="0.25" textLength="72.5" lengthAdjust="spacingAndGlyphs">Relative expression levels</text>
<line x1="435.00" y1="496.50" x2="436.80" y2="496.50" stroke="#262626" stroke-width="1"/>
<text x="433.00" y="498.40" font-size="5.2" text-anchor="end" font-weight="normal" font-style="normal" fill="#222" stroke="#222" stroke-width="0.22">12</text>
<line x1="435.00" y1="520.80" x2="436.80" y2="520.80" stroke="#262626" stroke-width="1"/>
<text x="433.00" y="522.70" font-size="5.2" text-anchor="end" font-weight="normal" font-style="normal" fill="#222" stroke="#222" stroke-width="0.22">8</text>
<line x1="435.00" y1="545.10" x2="436.80" y2="545.10" stroke="#262626" stroke-width="1"/>
<text x="433.00" y="547.00" font-size="5.2" text-anchor="end" font-weight="normal" font-style="normal" fill="#222" stroke="#222" stroke-width="0.22">4</text>
<line x1="435.00" y1="569.40" x2="436.80" y2="569.40" stroke="#262626" stroke-width="1"/>
<text x="433.00" y="571.30" font-size="5.2" text-anchor="end" font-weight="normal" font-style="normal" fill="#222" stroke="#222" stroke-width="0.22">0</text>
<line x1="446.10" y1="513.60" x2="446.10" y2="568.50" stroke="#262626" stroke-width="1.1"/>
<line x1="442.80" y1="513.60" x2="449.40" y2="513.60" stroke="#262626" stroke-width="1.1"/>
<line x1="442.80" y1="568.50" x2="449.40" y2="568.50" stroke="#262626" stroke-width="1.1"/>
<rect x="439.90" y="538.60" width="12.4" height="13.90" fill="#b4b4b4"/>
<line x1="439.90" y1="547.40" x2="452.30" y2="547.40" stroke="#1e1e1e" stroke-width="1.5"/>
<line x1="446.10" y1="569.40" x2="446.10" y2="571.20" stroke="#262626" stroke-width="1"/>
<line x1="465.10" y1="529.80" x2="465.10" y2="569.40" stroke="#262626" stroke-width="1.1"/>
<line x1="461.80" y1="529.80" x2="468.40" y2="529.80" stroke="#262626" stroke-width="1.1"/>
<line x1="461.80" y1="569.40" x2="468.40" y2="569.40" stroke="#262626" stroke-width="1.1"/>
<rect x="458.90" y="540.20" width="12.4" height="15.00" fill="#b4b4b4"/>
<line x1="458.90" y1="546.30" x2="471.30" y2="546.30" stroke="#1e1e1e" stroke-width="1.5"/>
<line x1="465.10" y1="569.40" x2="465.10" y2="571.20" stroke="#262626" stroke-width="1"/>
<line x1="484.20" y1="513.60" x2="484.20" y2="548.60" stroke="#262626" stroke-width="1.1"/>
<line x1="480.90" y1="513.60" x2="487.50" y2="513.60" stroke="#262626" stroke-width="1.1"/>
<line x1="480.90" y1="548.60" x2="487.50" y2="548.60" stroke="#262626" stroke-width="1.1"/>
<rect x="478.00" y="522.00" width="12.4" height="9.30" fill="#2f2f2f"/>
<line x1="478.00" y1="526.00" x2="490.40" y2="526.00" stroke="#0e0e0e" stroke-width="1.5"/>
<line x1="484.20" y1="569.40" x2="484.20" y2="571.20" stroke="#262626" stroke-width="1"/>
<line x1="503.30" y1="514.30" x2="503.30" y2="526.90" stroke="#262626" stroke-width="1.1"/>
<line x1="500.00" y1="514.30" x2="506.60" y2="514.30" stroke="#262626" stroke-width="1.1"/>
<line x1="500.00" y1="526.90" x2="506.60" y2="526.90" stroke="#262626" stroke-width="1.1"/>
<rect x="497.10" y="514.90" width="12.4" height="9.30" fill="#2f2f2f"/>
<line x1="497.10" y1="520.20" x2="509.50" y2="520.20" stroke="#0e0e0e" stroke-width="1.5"/>
<line x1="503.30" y1="569.40" x2="503.30" y2="571.20" stroke="#262626" stroke-width="1"/>
<line x1="436.80" y1="496.20" x2="436.80" y2="570.00" stroke="#262626" stroke-width="1.3"/>
<line x1="436.20" y1="569.40" x2="512.80" y2="569.40" stroke="#262626" stroke-width="1.3"/>
<path d="M445.20,509.60 L445.20,508.30 L465.10,508.30 L465.10,509.60" fill="none" stroke="#262626" stroke-width="0.9"/>
<text x="455.15" y="506.10" font-size="4.4" text-anchor="middle" fill="#333" stroke="#333" stroke-width="0.12"><tspan font-style="italic">p</tspan>=0.0005</text>
<path d="M484.20,507.40 L484.20,506.10 L503.40,506.10 L503.40,507.40" fill="none" stroke="#262626" stroke-width="0.9"/>
<text x="493.80" y="503.90" font-size="4.4" text-anchor="middle" fill="#333" stroke="#333" stroke-width="0.12"><tspan font-style="italic">p</tspan>=0.017</text>
<text transform="translate(445.90,580.40) scale(0.92,1)" font-size="5.7" font-weight="bold" text-anchor="middle" fill="#3a3a3a">CRT<tspan font-size="3.3" dy="-2.4">Lo</tspan></text>
<text transform="translate(464.90,580.40) scale(0.92,1)" font-size="5.7" font-weight="bold" text-anchor="middle" fill="#3a3a3a">CRT<tspan font-size="3.3" dy="-2.4">Hi</tspan></text>
<text transform="translate(484.00,580.40) scale(0.92,1)" font-size="5.7" font-weight="bold" text-anchor="middle" fill="#3a3a3a">CRT<tspan font-size="3.3" dy="-2.4">Lo</tspan></text>
<text transform="translate(503.10,580.40) scale(0.92,1)" font-size="5.7" font-weight="bold" text-anchor="middle" fill="#3a3a3a">CRT<tspan font-size="3.3" dy="-2.4">Hi</tspan></text>
<line x1="438.00" y1="585.80" x2="472.30" y2="585.80" stroke="#262626" stroke-width="1"/>
<line x1="438.00" y1="584.60" x2="438.00" y2="587.00" stroke="#262626" stroke-width="0.9"/>
<line x1="472.30" y1="584.60" x2="472.30" y2="587.00" stroke="#262626" stroke-width="0.9"/>
<text transform="translate(455.15,594.30) scale(0.92,1)" font-size="6.9" text-anchor="middle" fill="#222" stroke="#222" stroke-width="0.22">Prior</text>
<line x1="475.60" y1="585.80" x2="510.00" y2="585.80" stroke="#262626" stroke-width="1"/>
<line x1="475.60" y1="584.60" x2="475.60" y2="587.00" stroke="#262626" stroke-width="0.9"/>
<line x1="510.00" y1="584.60" x2="510.00" y2="587.00" stroke="#262626" stroke-width="0.9"/>
<text transform="translate(492.80,594.30) scale(0.92,1)" font-size="6.9" text-anchor="middle" fill="#222" stroke="#222" stroke-width="0.22">Recovery</text>
<text x="62.40" y="609.90" font-size="7.5" text-anchor="middle" font-weight="bold" font-style="italic" fill="#111" >IFNG</text>
<text transform="translate(13.20,650.55) rotate(-90)" font-size="6.9" text-anchor="middle" fill="#222" stroke="#222" stroke-width="0.25" textLength="72.5" lengthAdjust="spacingAndGlyphs">Relative expression levels</text>
<line x1="22.40" y1="615.20" x2="24.20" y2="615.20" stroke="#262626" stroke-width="1"/>
<text x="20.40" y="617.10" font-size="5.2" text-anchor="end" font-weight="normal" font-style="normal" fill="#222" stroke="#222" stroke-width="0.22">10</text>
<line x1="22.40" y1="629.74" x2="24.20" y2="629.74" stroke="#262626" stroke-width="1"/>
<text x="20.40" y="631.64" font-size="5.2" text-anchor="end" font-weight="normal" font-style="normal" fill="#222" stroke="#222" stroke-width="0.22">8</text>
<line x1="22.40" y1="644.28" x2="24.20" y2="644.28" stroke="#262626" stroke-width="1"/>
<text x="20.40" y="646.18" font-size="5.2" text-anchor="end" font-weight="normal" font-style="normal" fill="#222" stroke="#222" stroke-width="0.22">6</text>
<line x1="22.40" y1="658.82" x2="24.20" y2="658.82" stroke="#262626" stroke-width="1"/>
<text x="20.40" y="660.72" font-size="5.2" text-anchor="end" font-weight="normal" font-style="normal" fill="#222" stroke="#222" stroke-width="0.22">4</text>
<line x1="22.40" y1="673.36" x2="24.20" y2="673.36" stroke="#262626" stroke-width="1"/>
<text x="20.40" y="675.26" font-size="5.2" text-anchor="end" font-weight="normal" font-style="normal" fill="#222" stroke="#222" stroke-width="0.22">2</text>
<line x1="22.40" y1="687.90" x2="24.20" y2="687.90" stroke="#262626" stroke-width="1"/>
<text x="20.40" y="689.80" font-size="5.2" text-anchor="end" font-weight="normal" font-style="normal" fill="#222" stroke="#222" stroke-width="0.22">0</text>
<line x1="33.50" y1="632.80" x2="33.50" y2="685.70" stroke="#262626" stroke-width="1.1"/>
<line x1="30.20" y1="632.80" x2="36.80" y2="632.80" stroke="#262626" stroke-width="1.1"/>
<line x1="30.20" y1="685.70" x2="36.80" y2="685.70" stroke="#262626" stroke-width="1.1"/>
<rect x="27.30" y="653.90" width="12.4" height="14.20" fill="#b4b4b4"/>
<line x1="27.30" y1="661.30" x2="39.70" y2="661.30" stroke="#1e1e1e" stroke-width="1.5"/>
<line x1="33.50" y1="687.90" x2="33.50" y2="689.70" stroke="#262626" stroke-width="1"/>
<line x1="52.50" y1="639.10" x2="52.50" y2="687.90" stroke="#262626" stroke-width="1.1"/>
<line x1="49.20" y1="639.10" x2="55.80" y2="639.10" stroke="#262626" stroke-width="1.1"/>
<line x1="49.20" y1="687.90" x2="55.80" y2="687.90" stroke="#262626" stroke-width="1.1"/>
<rect x="46.30" y="656.70" width="12.4" height="20.50" fill="#b4b4b4"/>
<line x1="46.30" y1="668.10" x2="58.70" y2="668.10" stroke="#1e1e1e" stroke-width="1.5"/>
<line x1="52.50" y1="687.90" x2="52.50" y2="689.70" stroke="#262626" stroke-width="1"/>
<line x1="71.60" y1="649.10" x2="71.60" y2="677.80" stroke="#262626" stroke-width="1.1"/>
<line x1="68.30" y1="649.10" x2="74.90" y2="649.10" stroke="#262626" stroke-width="1.1"/>
<line x1="68.30" y1="677.80" x2="74.90" y2="677.80" stroke="#262626" stroke-width="1.1"/>
<rect x="65.40" y="653.90" width="12.4" height="16.30" fill="#2f2f2f"/>
<line x1="65.40" y1="663.00" x2="77.80" y2="663.00" stroke="#0e0e0e" stroke-width="1.5"/>
<line x1="71.60" y1="687.90" x2="71.60" y2="689.70" stroke="#262626" stroke-width="1"/>
<line x1="90.70" y1="629.60" x2="90.70" y2="668.80" stroke="#262626" stroke-width="1.1"/>
<line x1="87.40" y1="629.60" x2="94.00" y2="629.60" stroke="#262626" stroke-width="1.1"/>
<line x1="87.40" y1="668.80" x2="94.00" y2="668.80" stroke="#262626" stroke-width="1.1"/>
<rect x="84.50" y="639.10" width="12.4" height="24.80" fill="#2f2f2f"/>
<line x1="84.50" y1="657.10" x2="96.90" y2="657.10" stroke="#0e0e0e" stroke-width="1.5"/>
<line x1="90.70" y1="687.90" x2="90.70" y2="689.70" stroke="#262626" stroke-width="1"/>
<line x1="24.20" y1="614.90" x2="24.20" y2="688.50" stroke="#262626" stroke-width="1.3"/>
<line x1="23.60" y1="687.90" x2="100.20" y2="687.90" stroke="#262626" stroke-width="1.3"/>
<path d="M32.80,628.40 L32.80,627.10 L52.90,627.10 L52.90,628.40" fill="none" stroke="#262626" stroke-width="0.9"/>
<text x="42.85" y="624.90" font-size="4.4" text-anchor="middle" font-weight="normal" font-style="normal" fill="#333" stroke="#333" stroke-width="0.12">NS</text>
<path d="M70.90,623.50 L70.90,622.20 L91.40,622.20 L91.40,623.50" fill="none" stroke="#262626" stroke-width="0.9"/>
<text x="81.15" y="620.00" font-size="4.4" text-anchor="middle" fill="#333" stroke="#333" stroke-width="0.12"><tspan font-style="italic">p</tspan>=0.03</text>
<text transform="translate(33.30,698.10) scale(0.92,1)" font-size="5.7" font-weight="bold" text-anchor="middle" fill="#3a3a3a">CRT<tspan font-size="3.3" dy="-2.4">Lo</tspan></text>
<text transform="translate(52.30,698.10) scale(0.92,1)" font-size="5.7" font-weight="bold" text-anchor="middle" fill="#3a3a3a">CRT<tspan font-size="3.3" dy="-2.4">Hi</tspan></text>
<text transform="translate(71.40,698.10) scale(0.92,1)" font-size="5.7" font-weight="bold" text-anchor="middle" fill="#3a3a3a">CRT<tspan font-size="3.3" dy="-2.4">Lo</tspan></text>
<text transform="translate(90.50,698.10) scale(0.92,1)" font-size="5.7" font-weight="bold" text-anchor="middle" fill="#3a3a3a">CRT<tspan font-size="3.3" dy="-2.4">Hi</tspan></text>
<line x1="25.40" y1="703.70" x2="59.70" y2="703.70" stroke="#262626" stroke-width="1"/>
<line x1="25.40" y1="702.50" x2="25.40" y2="704.90" stroke="#262626" stroke-width="0.9"/>
<line x1="59.70" y1="702.50" x2="59.70" y2="704.90" stroke="#262626" stroke-width="0.9"/>
<text transform="translate(42.55,712.20) scale(0.92,1)" font-size="6.9" text-anchor="middle" fill="#222" stroke="#222" stroke-width="0.22">Prior</text>
<line x1="63.00" y1="703.70" x2="97.40" y2="703.70" stroke="#262626" stroke-width="1"/>
<line x1="63.00" y1="702.50" x2="63.00" y2="704.90" stroke="#262626" stroke-width="0.9"/>
<line x1="97.40" y1="702.50" x2="97.40" y2="704.90" stroke="#262626" stroke-width="0.9"/>
<text transform="translate(80.20,712.20) scale(0.92,1)" font-size="6.9" text-anchor="middle" fill="#222" stroke="#222" stroke-width="0.22">Recovery</text>
<text x="164.20" y="609.90" font-size="7.5" text-anchor="middle" font-weight="bold" font-style="italic" fill="#111" >IL2</text>
<text transform="translate(115.00,650.55) rotate(-90)" font-size="6.9" text-anchor="middle" fill="#222" stroke="#222" stroke-width="0.25" textLength="72.5" lengthAdjust="spacingAndGlyphs">Relative expression levels</text>
<line x1="124.20" y1="615.20" x2="126.00" y2="615.20" stroke="#262626" stroke-width="1"/>
<text x="122.20" y="617.10" font-size="5.2" text-anchor="end" font-weight="normal" font-style="normal" fill="#222" stroke="#222" stroke-width="0.22">12</text>
<line x1="124.20" y1="639.43" x2="126.00" y2="639.43" stroke="#262626" stroke-width="1"/>
<text x="122.20" y="641.33" font-size="5.2" text-anchor="end" font-weight="normal" font-style="normal" fill="#222" stroke="#222" stroke-width="0.22">8</text>
<line x1="124.20" y1="663.67" x2="126.00" y2="663.67" stroke="#262626" stroke-width="1"/>
<text x="122.20" y="665.57" font-size="5.2" text-anchor="end" font-weight="normal" font-style="normal" fill="#222" stroke="#222" stroke-width="0.22">4</text>
<line x1="124.20" y1="687.90" x2="126.00" y2="687.90" stroke="#262626" stroke-width="1"/>
<text x="122.20" y="689.80" font-size="5.2" text-anchor="end" font-weight="normal" font-style="normal" fill="#222" stroke="#222" stroke-width="0.22">0</text>
<line x1="135.30" y1="647.00" x2="135.30" y2="687.90" stroke="#262626" stroke-width="1.1"/>
<line x1="132.00" y1="647.00" x2="138.60" y2="647.00" stroke="#262626" stroke-width="1.1"/>
<line x1="132.00" y1="687.90" x2="138.60" y2="687.90" stroke="#262626" stroke-width="1.1"/>
<rect x="129.10" y="667.30" width="12.4" height="19.40" fill="#b4b4b4"/>
<line x1="129.10" y1="680.40" x2="141.50" y2="680.40" stroke="#1e1e1e" stroke-width="1.5"/>
<line x1="135.30" y1="687.90" x2="135.30" y2="689.70" stroke="#262626" stroke-width="1"/>
<line x1="154.30" y1="660.30" x2="154.30" y2="687.90" stroke="#262626" stroke-width="1.1"/>
<line x1="151.00" y1="660.30" x2="157.60" y2="660.30" stroke="#262626" stroke-width="1.1"/>
<line x1="151.00" y1="687.90" x2="157.60" y2="687.90" stroke="#262626" stroke-width="1.1"/>
<rect x="148.10" y="668.80" width="12.4" height="17.90" fill="#b4b4b4"/>
<line x1="148.10" y1="686.70" x2="160.50" y2="686.70" stroke="#1e1e1e" stroke-width="1.5"/>
<line x1="154.30" y1="687.90" x2="154.30" y2="689.70" stroke="#262626" stroke-width="1"/>
<line x1="173.40" y1="647.60" x2="173.40" y2="670.90" stroke="#262626" stroke-width="1.1"/>
<line x1="170.10" y1="647.60" x2="176.70" y2="647.60" stroke="#262626" stroke-width="1.1"/>
<line x1="170.10" y1="670.90" x2="176.70" y2="670.90" stroke="#262626" stroke-width="1.1"/>
<rect x="167.20" y="656.70" width="12.4" height="9.90" fill="#2f2f2f"/>
<line x1="167.20" y1="660.90" x2="179.60" y2="660.90" stroke="#0e0e0e" stroke-width="1.5"/>
<line x1="173.40" y1="687.90" x2="173.40" y2="689.70" stroke="#262626" stroke-width="1"/>
<line x1="192.50" y1="627.90" x2="192.50" y2="670.20" stroke="#262626" stroke-width="1.1"/>
<line x1="189.20" y1="627.90" x2="195.80" y2="627.90" stroke="#262626" stroke-width="1.1"/>
<line x1="189.20" y1="670.20" x2="195.80" y2="670.20" stroke="#262626" stroke-width="1.1"/>
<rect x="186.30" y="644.80" width="12.4" height="16.10" fill="#2f2f2f"/>
<line x1="186.30" y1="653.90" x2="198.70" y2="653.90" stroke="#0e0e0e" stroke-width="1.5"/>
<line x1="192.50" y1="687.90" x2="192.50" y2="689.70" stroke="#262626" stroke-width="1"/>
<line x1="126.00" y1="614.90" x2="126.00" y2="688.50" stroke="#262626" stroke-width="1.3"/>
<line x1="125.40" y1="687.90" x2="202.00" y2="687.90" stroke="#262626" stroke-width="1.3"/>
<path d="M134.30,629.90 L134.30,628.60 L154.60,628.60 L154.60,629.90" fill="none" stroke="#262626" stroke-width="0.9"/>
<text x="144.45" y="626.40" font-size="4.4" text-anchor="middle" fill="#333" stroke="#333" stroke-width="0.12"><tspan font-style="italic">p</tspan>=0.017</text>
<path d="M173.00,624.10 L173.00,622.80 L192.70,622.80 L192.70,624.10" fill="none" stroke="#262626" stroke-width="0.9"/>
<text x="182.85" y="620.60" font-size="4.4" text-anchor="middle" fill="#333" stroke="#333" stroke-width="0.12"><tspan font-style="italic">p</tspan>=0.033</text>
<text transform="translate(135.10,698.10) scale(0.92,1)" font-size="5.7" font-weight="bold" text-anchor="middle" fill="#3a3a3a">CRT<tspan font-size="3.3" dy="-2.4">Lo</tspan></text>
<text transform="translate(154.10,698.10) scale(0.92,1)" font-size="5.7" font-weight="bold" text-anchor="middle" fill="#3a3a3a">CRT<tspan font-size="3.3" dy="-2.4">Hi</tspan></text>
<text transform="translate(173.20,698.10) scale(0.92,1)" font-size="5.7" font-weight="bold" text-anchor="middle" fill="#3a3a3a">CRT<tspan font-size="3.3" dy="-2.4">Lo</tspan></text>
<text transform="translate(192.30,698.10) scale(0.92,1)" font-size="5.7" font-weight="bold" text-anchor="middle" fill="#3a3a3a">CRT<tspan font-size="3.3" dy="-2.4">Hi</tspan></text>
<line x1="127.20" y1="703.70" x2="161.50" y2="703.70" stroke="#262626" stroke-width="1"/>
<line x1="127.20" y1="702.50" x2="127.20" y2="704.90" stroke="#262626" stroke-width="0.9"/>
<line x1="161.50" y1="702.50" x2="161.50" y2="704.90" stroke="#262626" stroke-width="0.9"/>
<text transform="translate(144.35,712.20) scale(0.92,1)" font-size="6.9" text-anchor="middle" fill="#222" stroke="#222" stroke-width="0.22">Prior</text>
<line x1="164.80" y1="703.70" x2="199.20" y2="703.70" stroke="#262626" stroke-width="1"/>
<line x1="164.80" y1="702.50" x2="164.80" y2="704.90" stroke="#262626" stroke-width="0.9"/>
<line x1="199.20" y1="702.50" x2="199.20" y2="704.90" stroke="#262626" stroke-width="0.9"/>
<text transform="translate(182.00,712.20) scale(0.92,1)" font-size="6.9" text-anchor="middle" fill="#222" stroke="#222" stroke-width="0.22">Recovery</text>
<text x="269.05" y="609.90" font-size="7.5" text-anchor="middle" font-weight="bold" font-style="italic" fill="#111" >IL2RA</text>
<text transform="translate(219.85,650.55) rotate(-90)" font-size="6.9" text-anchor="middle" fill="#222" stroke="#222" stroke-width="0.25" textLength="72.5" lengthAdjust="spacingAndGlyphs">Relative expression levels</text>
<line x1="229.05" y1="615.20" x2="230.85" y2="615.20" stroke="#262626" stroke-width="1"/>
<text x="227.05" y="617.10" font-size="5.2" text-anchor="end" font-weight="normal" font-style="normal" fill="#222" stroke="#222" stroke-width="0.22">10</text>
<line x1="229.05" y1="629.74" x2="230.85" y2="629.74" stroke="#262626" stroke-width="1"/>
<text x="227.05" y="631.64" font-size="5.2" text-anchor="end" font-weight="normal" font-style="normal" fill="#222" stroke="#222" stroke-width="0.22">8</text>
<line x1="229.05" y1="644.28" x2="230.85" y2="644.28" stroke="#262626" stroke-width="1"/>
<text x="227.05" y="646.18" font-size="5.2" text-anchor="end" font-weight="normal" font-style="normal" fill="#222" stroke="#222" stroke-width="0.22">6</text>
<line x1="229.05" y1="658.82" x2="230.85" y2="658.82" stroke="#262626" stroke-width="1"/>
<text x="227.05" y="660.72" font-size="5.2" text-anchor="end" font-weight="normal" font-style="normal" fill="#222" stroke="#222" stroke-width="0.22">4</text>
<line x1="229.05" y1="673.36" x2="230.85" y2="673.36" stroke="#262626" stroke-width="1"/>
<text x="227.05" y="675.26" font-size="5.2" text-anchor="end" font-weight="normal" font-style="normal" fill="#222" stroke="#222" stroke-width="0.22">2</text>
<line x1="229.05" y1="687.90" x2="230.85" y2="687.90" stroke="#262626" stroke-width="1"/>
<text x="227.05" y="689.80" font-size="5.2" text-anchor="end" font-weight="normal" font-style="normal" fill="#222" stroke="#222" stroke-width="0.22">0</text>
<line x1="240.15" y1="632.20" x2="240.15" y2="675.70" stroke="#262626" stroke-width="1.1"/>
<line x1="236.85" y1="632.20" x2="243.45" y2="632.20" stroke="#262626" stroke-width="1.1"/>
<line x1="236.85" y1="675.70" x2="243.45" y2="675.70" stroke="#262626" stroke-width="1.1"/>
<rect x="233.95" y="642.30" width="12.4" height="21.20" fill="#b4b4b4"/>
<line x1="233.95" y1="651.80" x2="246.35" y2="651.80" stroke="#1e1e1e" stroke-width="1.5"/>
<line x1="240.15" y1="687.90" x2="240.15" y2="689.70" stroke="#262626" stroke-width="1"/>
<line x1="259.15" y1="632.20" x2="259.15" y2="687.90" stroke="#262626" stroke-width="1.1"/>
<line x1="255.85" y1="632.20" x2="262.45" y2="632.20" stroke="#262626" stroke-width="1.1"/>
<line x1="255.85" y1="687.90" x2="262.45" y2="687.90" stroke="#262626" stroke-width="1.1"/>
<rect x="252.95" y="653.30" width="12.4" height="18.20" fill="#b4b4b4"/>
<line x1="252.95" y1="660.90" x2="265.35" y2="660.90" stroke="#1e1e1e" stroke-width="1.5"/>
<line x1="259.15" y1="687.90" x2="259.15" y2="689.70" stroke="#262626" stroke-width="1"/>
<line x1="278.25" y1="637.00" x2="278.25" y2="668.80" stroke="#262626" stroke-width="1.1"/>
<line x1="274.95" y1="637.00" x2="281.55" y2="637.00" stroke="#262626" stroke-width="1.1"/>
<line x1="274.95" y1="668.80" x2="281.55" y2="668.80" stroke="#262626" stroke-width="1.1"/>
<rect x="272.05" y="647.00" width="12.4" height="12.20" fill="#2f2f2f"/>
<line x1="272.05" y1="651.80" x2="284.45" y2="651.80" stroke="#0e0e0e" stroke-width="1.5"/>
<line x1="278.25" y1="687.90" x2="278.25" y2="689.70" stroke="#262626" stroke-width="1"/>
<line x1="297.35" y1="623.70" x2="297.35" y2="663.00" stroke="#262626" stroke-width="1.1"/>
<line x1="294.05" y1="623.70" x2="300.65" y2="623.70" stroke="#262626" stroke-width="1.1"/>
<line x1="294.05" y1="663.00" x2="300.65" y2="663.00" stroke="#262626" stroke-width="1.1"/>
<rect x="291.15" y="629.60" width="12.4" height="22.20" fill="#2f2f2f"/>
<line x1="291.15" y1="641.90" x2="303.55" y2="641.90" stroke="#0e0e0e" stroke-width="1.5"/>
<line x1="297.35" y1="687.90" x2="297.35" y2="689.70" stroke="#262626" stroke-width="1"/>
<line x1="230.85" y1="614.90" x2="230.85" y2="688.50" stroke="#262626" stroke-width="1.3"/>
<line x1="230.25" y1="687.90" x2="306.85" y2="687.90" stroke="#262626" stroke-width="1.3"/>
<path d="M239.30,629.20 L239.30,627.90 L260.00,627.90 L260.00,629.20" fill="none" stroke="#262626" stroke-width="0.9"/>
<text x="249.65" y="625.70" font-size="4.4" text-anchor="middle" font-weight="normal" font-style="normal" fill="#333" stroke="#333" stroke-width="0.12">NS</text>
<path d="M278.00,620.30 L278.00,619.00 L298.00,619.00 L298.00,620.30" fill="none" stroke="#262626" stroke-width="0.9"/>
<text x="288.00" y="616.80" font-size="4.4" text-anchor="middle" fill="#333" stroke="#333" stroke-width="0.12"><tspan font-style="italic">p</tspan>=0.025</text>
<text transform="translate(239.95,698.10) scale(0.92,1)" font-size="5.7" font-weight="bold" text-anchor="middle" fill="#3a3a3a">CRT<tspan font-size="3.3" dy="-2.4">Lo</tspan></text>
<text transform="translate(258.95,698.10) scale(0.92,1)" font-size="5.7" font-weight="bold" text-anchor="middle" fill="#3a3a3a">CRT<tspan font-size="3.3" dy="-2.4">Hi</tspan></text>
<text transform="translate(278.05,698.10) scale(0.92,1)" font-size="5.7" font-weight="bold" text-anchor="middle" fill="#3a3a3a">CRT<tspan font-size="3.3" dy="-2.4">Lo</tspan></text>
<text transform="translate(297.15,698.10) scale(0.92,1)" font-size="5.7" font-weight="bold" text-anchor="middle" fill="#3a3a3a">CRT<tspan font-size="3.3" dy="-2.4">Hi</tspan></text>
<line x1="232.05" y1="703.70" x2="266.35" y2="703.70" stroke="#262626" stroke-width="1"/>
<line x1="232.05" y1="702.50" x2="232.05" y2="704.90" stroke="#262626" stroke-width="0.9"/>
<line x1="266.35" y1="702.50" x2="266.35" y2="704.90" stroke="#262626" stroke-width="0.9"/>
<text transform="translate(249.20,712.20) scale(0.92,1)" font-size="6.9" text-anchor="middle" fill="#222" stroke="#222" stroke-width="0.22">Prior</text>
<line x1="269.65" y1="703.70" x2="304.05" y2="703.70" stroke="#262626" stroke-width="1"/>
<line x1="269.65" y1="702.50" x2="269.65" y2="704.90" stroke="#262626" stroke-width="0.9"/>
<line x1="304.05" y1="702.50" x2="304.05" y2="704.90" stroke="#262626" stroke-width="0.9"/>
<text transform="translate(286.85,712.20) scale(0.92,1)" font-size="6.9" text-anchor="middle" fill="#222" stroke="#222" stroke-width="0.22">Recovery</text>
<text x="372.30" y="609.90" font-size="7.5" text-anchor="middle" font-weight="bold" font-style="italic" fill="#111" >PRF1</text>
<text transform="translate(323.10,650.55) rotate(-90)" font-size="6.9" text-anchor="middle" fill="#222" stroke="#222" stroke-width="0.25" textLength="72.5" lengthAdjust="spacingAndGlyphs">Relative expression levels</text>
<line x1="332.30" y1="615.20" x2="334.10" y2="615.20" stroke="#262626" stroke-width="1"/>
<text x="330.30" y="617.10" font-size="5.2" text-anchor="end" font-weight="normal" font-style="normal" fill="#222" stroke="#222" stroke-width="0.22">10</text>
<line x1="332.30" y1="629.74" x2="334.10" y2="629.74" stroke="#262626" stroke-width="1"/>
<text x="330.30" y="631.64" font-size="5.2" text-anchor="end" font-weight="normal" font-style="normal" fill="#222" stroke="#222" stroke-width="0.22">8</text>
<line x1="332.30" y1="644.28" x2="334.10" y2="644.28" stroke="#262626" stroke-width="1"/>
<text x="330.30" y="646.18" font-size="5.2" text-anchor="end" font-weight="normal" font-style="normal" fill="#222" stroke="#222" stroke-width="0.22">6</text>
<line x1="332.30" y1="658.82" x2="334.10" y2="658.82" stroke="#262626" stroke-width="1"/>
<text x="330.30" y="660.72" font-size="5.2" text-anchor="end" font-weight="normal" font-style="normal" fill="#222" stroke="#222" stroke-width="0.22">4</text>
<line x1="332.30" y1="673.36" x2="334.10" y2="673.36" stroke="#262626" stroke-width="1"/>
<text x="330.30" y="675.26" font-size="5.2" text-anchor="end" font-weight="normal" font-style="normal" fill="#222" stroke="#222" stroke-width="0.22">2</text>
<line x1="332.30" y1="687.90" x2="334.10" y2="687.90" stroke="#262626" stroke-width="1"/>
<text x="330.30" y="689.80" font-size="5.2" text-anchor="end" font-weight="normal" font-style="normal" fill="#222" stroke="#222" stroke-width="0.22">0</text>
<line x1="343.40" y1="631.30" x2="343.40" y2="687.20" stroke="#262626" stroke-width="1.1"/>
<line x1="340.10" y1="631.30" x2="346.70" y2="631.30" stroke="#262626" stroke-width="1.1"/>
<line x1="340.10" y1="687.20" x2="346.70" y2="687.20" stroke="#262626" stroke-width="1.1"/>
<rect x="337.20" y="663.00" width="12.4" height="12.10" fill="#b4b4b4"/>
<line x1="337.20" y1="668.80" x2="349.60" y2="668.80" stroke="#1e1e1e" stroke-width="1.5"/>
<line x1="343.40" y1="687.90" x2="343.40" y2="689.70" stroke="#262626" stroke-width="1"/>
<line x1="362.40" y1="644.80" x2="362.40" y2="687.90" stroke="#262626" stroke-width="1.1"/>
<line x1="359.10" y1="644.80" x2="365.70" y2="644.80" stroke="#262626" stroke-width="1.1"/>
<line x1="359.10" y1="687.90" x2="365.70" y2="687.90" stroke="#262626" stroke-width="1.1"/>
<rect x="356.20" y="658.80" width="12.4" height="18.40" fill="#b4b4b4"/>
<line x1="356.20" y1="672.30" x2="368.60" y2="672.30" stroke="#1e1e1e" stroke-width="1.5"/>
<line x1="362.40" y1="687.90" x2="362.40" y2="689.70" stroke="#262626" stroke-width="1"/>
<line x1="381.50" y1="631.70" x2="381.50" y2="674.00" stroke="#262626" stroke-width="1.1"/>
<line x1="378.20" y1="631.70" x2="384.80" y2="631.70" stroke="#262626" stroke-width="1.1"/>
<line x1="378.20" y1="674.00" x2="384.80" y2="674.00" stroke="#262626" stroke-width="1.1"/>
<rect x="375.30" y="642.30" width="12.4" height="16.50" fill="#2f2f2f"/>
<line x1="375.30" y1="645.50" x2="387.70" y2="645.50" stroke="#0e0e0e" stroke-width="1.5"/>
<line x1="381.50" y1="687.90" x2="381.50" y2="689.70" stroke="#262626" stroke-width="1"/>
<line x1="400.60" y1="631.30" x2="400.60" y2="649.10" stroke="#262626" stroke-width="1.1"/>
<line x1="397.30" y1="631.30" x2="403.90" y2="631.30" stroke="#262626" stroke-width="1.1"/>
<line x1="397.30" y1="649.10" x2="403.90" y2="649.10" stroke="#262626" stroke-width="1.1"/>
<rect x="394.40" y="636.40" width="12.4" height="7.60" fill="#2f2f2f"/>
<line x1="394.40" y1="639.80" x2="406.80" y2="639.80" stroke="#0e0e0e" stroke-width="1.5"/>
<line x1="400.60" y1="687.90" x2="400.60" y2="689.70" stroke="#262626" stroke-width="1"/>
<line x1="334.10" y1="614.90" x2="334.10" y2="688.50" stroke="#262626" stroke-width="1.3"/>
<line x1="333.50" y1="687.90" x2="410.10" y2="687.90" stroke="#262626" stroke-width="1.3"/>
<path d="M342.30,628.40 L342.30,627.10 L362.40,627.10 L362.40,628.40" fill="none" stroke="#262626" stroke-width="0.9"/>
<text x="352.35" y="624.90" font-size="4.4" text-anchor="middle" fill="#333" stroke="#333" stroke-width="0.12"><tspan font-style="italic">p</tspan>=0.002</text>
<path d="M380.80,626.30 L380.80,625.00 L399.90,625.00 L399.90,626.30" fill="none" stroke="#262626" stroke-width="0.9"/>
<text x="390.35" y="622.80" font-size="4.4" text-anchor="middle" fill="#333" stroke="#333" stroke-width="0.12"><tspan font-style="italic">p</tspan>=0.012</text>
<text transform="translate(343.20,698.10) scale(0.92,1)" font-size="5.7" font-weight="bold" text-anchor="middle" fill="#3a3a3a">CRT<tspan font-size="3.3" dy="-2.4">Lo</tspan></text>
<text transform="translate(362.20,698.10) scale(0.92,1)" font-size="5.7" font-weight="bold" text-anchor="middle" fill="#3a3a3a">CRT<tspan font-size="3.3" dy="-2.4">Hi</tspan></text>
<text transform="translate(381.30,698.10) scale(0.92,1)" font-size="5.7" font-weight="bold" text-anchor="middle" fill="#3a3a3a">CRT<tspan font-size="3.3" dy="-2.4">Lo</tspan></text>
<text transform="translate(400.40,698.10) scale(0.92,1)" font-size="5.7" font-weight="bold" text-anchor="middle" fill="#3a3a3a">CRT<tspan font-size="3.3" dy="-2.4">Hi</tspan></text>
<line x1="335.30" y1="703.70" x2="369.60" y2="703.70" stroke="#262626" stroke-width="1"/>
<line x1="335.30" y1="702.50" x2="335.30" y2="704.90" stroke="#262626" stroke-width="0.9"/>
<line x1="369.60" y1="702.50" x2="369.60" y2="704.90" stroke="#262626" stroke-width="0.9"/>
<text transform="translate(352.45,712.20) scale(0.92,1)" font-size="6.9" text-anchor="middle" fill="#222" stroke="#222" stroke-width="0.22">Prior</text>
<line x1="372.90" y1="703.70" x2="407.30" y2="703.70" stroke="#262626" stroke-width="1"/>
<line x1="372.90" y1="702.50" x2="372.90" y2="704.90" stroke="#262626" stroke-width="0.9"/>
<line x1="407.30" y1="702.50" x2="407.30" y2="704.90" stroke="#262626" stroke-width="0.9"/>
<text transform="translate(390.10,712.20) scale(0.92,1)" font-size="6.9" text-anchor="middle" fill="#222" stroke="#222" stroke-width="0.22">Recovery</text>
<text x="475.00" y="609.90" font-size="7.5" text-anchor="middle" font-weight="bold" font-style="italic" fill="#111" >TBX21</text>
<text transform="translate(425.80,650.55) rotate(-90)" font-size="6.9" text-anchor="middle" fill="#222" stroke="#222" stroke-width="0.25" textLength="72.5" lengthAdjust="spacingAndGlyphs">Relative expression levels</text>
<line x1="435.00" y1="615.20" x2="436.80" y2="615.20" stroke="#262626" stroke-width="1"/>
<text x="433.00" y="617.10" font-size="5.2" text-anchor="end" font-weight="normal" font-style="normal" fill="#222" stroke="#222" stroke-width="0.22">10</text>
<line x1="435.00" y1="629.74" x2="436.80" y2="629.74" stroke="#262626" stroke-width="1"/>
<text x="433.00" y="631.64" font-size="5.2" text-anchor="end" font-weight="normal" font-style="normal" fill="#222" stroke="#222" stroke-width="0.22">8</text>
<line x1="435.00" y1="644.28" x2="436.80" y2="644.28" stroke="#262626" stroke-width="1"/>
<text x="433.00" y="646.18" font-size="5.2" text-anchor="end" font-weight="normal" font-style="normal" fill="#222" stroke="#222" stroke-width="0.22">6</text>
<line x1="435.00" y1="658.82" x2="436.80" y2="658.82" stroke="#262626" stroke-width="1"/>
<text x="433.00" y="660.72" font-size="5.2" text-anchor="end" font-weight="normal" font-style="normal" fill="#222" stroke="#222" stroke-width="0.22">4</text>
<line x1="435.00" y1="673.36" x2="436.80" y2="673.36" stroke="#262626" stroke-width="1"/>
<text x="433.00" y="675.26" font-size="5.2" text-anchor="end" font-weight="normal" font-style="normal" fill="#222" stroke="#222" stroke-width="0.22">2</text>
<line x1="435.00" y1="687.90" x2="436.80" y2="687.90" stroke="#262626" stroke-width="1"/>
<text x="433.00" y="689.80" font-size="5.2" text-anchor="end" font-weight="normal" font-style="normal" fill="#222" stroke="#222" stroke-width="0.22">0</text>
<line x1="446.10" y1="624.80" x2="446.10" y2="686.70" stroke="#262626" stroke-width="1.1"/>
<line x1="442.80" y1="624.80" x2="449.40" y2="624.80" stroke="#262626" stroke-width="1.1"/>
<line x1="442.80" y1="686.70" x2="449.40" y2="686.70" stroke="#262626" stroke-width="1.1"/>
<rect x="439.90" y="657.50" width="12.4" height="11.10" fill="#b4b4b4"/>
<line x1="439.90" y1="665.90" x2="452.30" y2="665.90" stroke="#1e1e1e" stroke-width="1.5"/>
<line x1="446.10" y1="687.90" x2="446.10" y2="689.70" stroke="#262626" stroke-width="1"/>
<line x1="465.10" y1="652.00" x2="465.10" y2="687.90" stroke="#262626" stroke-width="1.1"/>
<line x1="461.80" y1="652.00" x2="468.40" y2="652.00" stroke="#262626" stroke-width="1.1"/>
<line x1="461.80" y1="687.90" x2="468.40" y2="687.90" stroke="#262626" stroke-width="1.1"/>
<rect x="458.90" y="659.30" width="12.4" height="17.00" fill="#b4b4b4"/>
<line x1="458.90" y1="668.60" x2="471.30" y2="668.60" stroke="#1e1e1e" stroke-width="1.5"/>
<line x1="465.10" y1="687.90" x2="465.10" y2="689.70" stroke="#262626" stroke-width="1"/>
<line x1="484.20" y1="637.20" x2="484.20" y2="670.80" stroke="#262626" stroke-width="1.1"/>
<line x1="480.90" y1="637.20" x2="487.50" y2="637.20" stroke="#262626" stroke-width="1.1"/>
<line x1="480.90" y1="670.80" x2="487.50" y2="670.80" stroke="#262626" stroke-width="1.1"/>
<rect x="478.00" y="646.00" width="12.4" height="15.50" fill="#2f2f2f"/>
<line x1="478.00" y1="651.30" x2="490.40" y2="651.30" stroke="#0e0e0e" stroke-width="1.5"/>
<line x1="484.20" y1="687.90" x2="484.20" y2="689.70" stroke="#262626" stroke-width="1"/>
<line x1="503.30" y1="631.40" x2="503.30" y2="648.70" stroke="#262626" stroke-width="1.1"/>
<line x1="500.00" y1="631.40" x2="506.60" y2="631.40" stroke="#262626" stroke-width="1.1"/>
<line x1="500.00" y1="648.70" x2="506.60" y2="648.70" stroke="#262626" stroke-width="1.1"/>
<rect x="497.10" y="637.60" width="12.4" height="6.20" fill="#2f2f2f"/>
<line x1="497.10" y1="640.90" x2="509.50" y2="640.90" stroke="#0e0e0e" stroke-width="1.5"/>
<line x1="503.30" y1="687.90" x2="503.30" y2="689.70" stroke="#262626" stroke-width="1"/>
<line x1="436.80" y1="614.90" x2="436.80" y2="688.50" stroke="#262626" stroke-width="1.3"/>
<line x1="436.20" y1="687.90" x2="512.80" y2="687.90" stroke="#262626" stroke-width="1.3"/>
<path d="M445.20,621.60 L445.20,620.30 L465.80,620.30 L465.80,621.60" fill="none" stroke="#262626" stroke-width="0.9"/>
<text x="455.50" y="618.10" font-size="4.4" text-anchor="middle" fill="#333" stroke="#333" stroke-width="0.12"><tspan font-style="italic">p</tspan>=0.044</text>
<path d="M484.20,627.40 L484.20,626.10 L503.40,626.10 L503.40,627.40" fill="none" stroke="#262626" stroke-width="0.9"/>
<text x="493.80" y="623.90" font-size="4.4" text-anchor="middle" fill="#333" stroke="#333" stroke-width="0.12"><tspan font-style="italic">p</tspan>=0.001</text>
<text transform="translate(445.90,698.10) scale(0.92,1)" font-size="5.7" font-weight="bold" text-anchor="middle" fill="#3a3a3a">CRT<tspan font-size="3.3" dy="-2.4">Lo</tspan></text>
<text transform="translate(464.90,698.10) scale(0.92,1)" font-size="5.7" font-weight="bold" text-anchor="middle" fill="#3a3a3a">CRT<tspan font-size="3.3" dy="-2.4">Hi</tspan></text>
<text transform="translate(484.00,698.10) scale(0.92,1)" font-size="5.7" font-weight="bold" text-anchor="middle" fill="#3a3a3a">CRT<tspan font-size="3.3" dy="-2.4">Lo</tspan></text>
<text transform="translate(503.10,698.10) scale(0.92,1)" font-size="5.7" font-weight="bold" text-anchor="middle" fill="#3a3a3a">CRT<tspan font-size="3.3" dy="-2.4">Hi</tspan></text>
<line x1="438.00" y1="703.70" x2="472.30" y2="703.70" stroke="#262626" stroke-width="1"/>
<line x1="438.00" y1="702.50" x2="438.00" y2="704.90" stroke="#262626" stroke-width="0.9"/>
<line x1="472.30" y1="702.50" x2="472.30" y2="704.90" stroke="#262626" stroke-width="0.9"/>
<text transform="translate(455.15,712.20) scale(0.92,1)" font-size="6.9" text-anchor="middle" fill="#222" stroke="#222" stroke-width="0.22">Prior</text>
<line x1="475.60" y1="703.70" x2="510.00" y2="703.70" stroke="#262626" stroke-width="1"/>
<line x1="475.60" y1="702.50" x2="475.60" y2="704.90" stroke="#262626" stroke-width="0.9"/>
<line x1="510.00" y1="702.50" x2="510.00" y2="704.90" stroke="#262626" stroke-width="0.9"/>
<text transform="translate(492.80,712.20) scale(0.92,1)" font-size="6.9" text-anchor="middle" fill="#222" stroke="#222" stroke-width="0.22">Recovery</text>
</svg>
</body></html>
